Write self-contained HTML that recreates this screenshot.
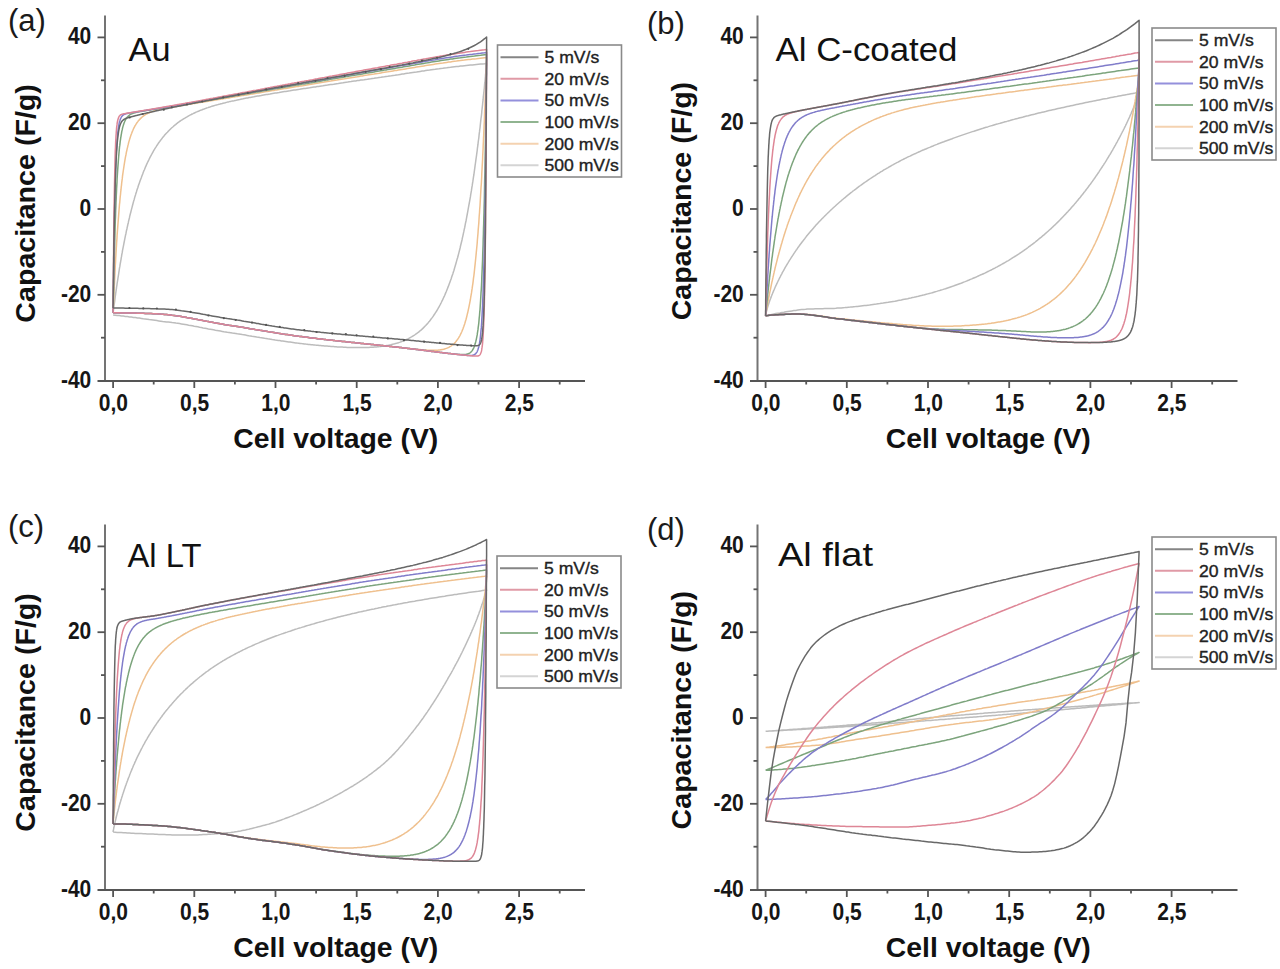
<!DOCTYPE html>
<html><head><meta charset="utf-8"><style>
html,body{margin:0;padding:0;background:#fff;width:1280px;height:969px;overflow:hidden}
svg{display:block}
text{font-family:"Liberation Sans",sans-serif}
.tl{font-weight:bold;font-size:23px;fill:#161616}
.at{font-weight:bold;font-size:28px;fill:#111}
.lg{font-size:16px;fill:#222;stroke:#222;stroke-width:0.35px}
.pl{font-size:31px;fill:#1a1a1a}
.tt{font-size:34px;fill:#111}
</style></head><body>
<svg width="1280" height="969" viewBox="0 0 1280 969">
<rect width="1280" height="969" fill="#fff"/>
<g>
<line x1="105" y1="15.5" x2="105" y2="382" stroke="#747474" stroke-width="2"/>
<line x1="97.5" y1="381" x2="585" y2="381" stroke="#555" stroke-width="2.2"/>
<line x1="97.5" y1="37.4" x2="105" y2="37.4" stroke="#555" stroke-width="1.8"/>
<line x1="97.5" y1="123.2" x2="105" y2="123.2" stroke="#555" stroke-width="1.8"/>
<line x1="97.5" y1="209.0" x2="105" y2="209.0" stroke="#555" stroke-width="1.8"/>
<line x1="97.5" y1="294.8" x2="105" y2="294.8" stroke="#555" stroke-width="1.8"/>
<line x1="101" y1="80.3" x2="105" y2="80.3" stroke="#555" stroke-width="1.8"/>
<line x1="101" y1="166.1" x2="105" y2="166.1" stroke="#555" stroke-width="1.8"/>
<line x1="101" y1="251.9" x2="105" y2="251.9" stroke="#555" stroke-width="1.8"/>
<line x1="101" y1="337.7" x2="105" y2="337.7" stroke="#555" stroke-width="1.8"/>
<line x1="113.1" y1="381" x2="113.1" y2="388" stroke="#555" stroke-width="1.8"/>
<line x1="194.3" y1="381" x2="194.3" y2="388" stroke="#555" stroke-width="1.8"/>
<line x1="275.5" y1="381" x2="275.5" y2="388" stroke="#555" stroke-width="1.8"/>
<line x1="356.7" y1="381" x2="356.7" y2="388" stroke="#555" stroke-width="1.8"/>
<line x1="437.9" y1="381" x2="437.9" y2="388" stroke="#555" stroke-width="1.8"/>
<line x1="519.1" y1="381" x2="519.1" y2="388" stroke="#555" stroke-width="1.8"/>
<line x1="153.7" y1="381" x2="153.7" y2="384.5" stroke="#555" stroke-width="1.8"/>
<line x1="234.9" y1="381" x2="234.9" y2="384.5" stroke="#555" stroke-width="1.8"/>
<line x1="316.1" y1="381" x2="316.1" y2="384.5" stroke="#555" stroke-width="1.8"/>
<line x1="397.3" y1="381" x2="397.3" y2="384.5" stroke="#555" stroke-width="1.8"/>
<line x1="478.5" y1="381" x2="478.5" y2="384.5" stroke="#555" stroke-width="1.8"/>
<line x1="559.7" y1="381" x2="559.7" y2="384.5" stroke="#555" stroke-width="1.8"/>
<text transform="translate(91.3,44.4) scale(0.913,1)" text-anchor="end" class="tl">40</text>
<text transform="translate(91.3,130.2) scale(0.913,1)" text-anchor="end" class="tl">20</text>
<text transform="translate(91.3,216.0) scale(0.913,1)" text-anchor="end" class="tl">0</text>
<text transform="translate(91.3,301.8) scale(0.913,1)" text-anchor="end" class="tl">-20</text>
<text transform="translate(91.3,387.6) scale(0.913,1)" text-anchor="end" class="tl">-40</text>
<text transform="translate(113.4,410.6) scale(0.913,1)" text-anchor="middle" class="tl">0,0</text>
<text transform="translate(194.6,410.6) scale(0.913,1)" text-anchor="middle" class="tl">0,5</text>
<text transform="translate(275.8,410.6) scale(0.913,1)" text-anchor="middle" class="tl">1,0</text>
<text transform="translate(357.0,410.6) scale(0.913,1)" text-anchor="middle" class="tl">1,5</text>
<text transform="translate(438.2,410.6) scale(0.913,1)" text-anchor="middle" class="tl">2,0</text>
<text transform="translate(519.4,410.6) scale(0.913,1)" text-anchor="middle" class="tl">2,5</text>
<text x="335.8" y="447.7" text-anchor="middle" class="at" textLength="205" lengthAdjust="spacingAndGlyphs">Cell voltage (V)</text>
<text transform="translate(34.6,203.4) rotate(-90)" x="0" y="0" text-anchor="middle" class="at" textLength="238.5" lengthAdjust="spacingAndGlyphs">Capacitance (F/g)</text>
<line x1="757.5" y1="15.5" x2="757.5" y2="382" stroke="#747474" stroke-width="2"/>
<line x1="750.0" y1="381" x2="1237.5" y2="381" stroke="#555" stroke-width="2.2"/>
<line x1="750.0" y1="37.4" x2="757.5" y2="37.4" stroke="#555" stroke-width="1.8"/>
<line x1="750.0" y1="123.2" x2="757.5" y2="123.2" stroke="#555" stroke-width="1.8"/>
<line x1="750.0" y1="209.0" x2="757.5" y2="209.0" stroke="#555" stroke-width="1.8"/>
<line x1="750.0" y1="294.8" x2="757.5" y2="294.8" stroke="#555" stroke-width="1.8"/>
<line x1="753.5" y1="80.3" x2="757.5" y2="80.3" stroke="#555" stroke-width="1.8"/>
<line x1="753.5" y1="166.1" x2="757.5" y2="166.1" stroke="#555" stroke-width="1.8"/>
<line x1="753.5" y1="251.9" x2="757.5" y2="251.9" stroke="#555" stroke-width="1.8"/>
<line x1="753.5" y1="337.7" x2="757.5" y2="337.7" stroke="#555" stroke-width="1.8"/>
<line x1="765.6" y1="381" x2="765.6" y2="388" stroke="#555" stroke-width="1.8"/>
<line x1="846.8" y1="381" x2="846.8" y2="388" stroke="#555" stroke-width="1.8"/>
<line x1="928.0" y1="381" x2="928.0" y2="388" stroke="#555" stroke-width="1.8"/>
<line x1="1009.2" y1="381" x2="1009.2" y2="388" stroke="#555" stroke-width="1.8"/>
<line x1="1090.4" y1="381" x2="1090.4" y2="388" stroke="#555" stroke-width="1.8"/>
<line x1="1171.6" y1="381" x2="1171.6" y2="388" stroke="#555" stroke-width="1.8"/>
<line x1="806.2" y1="381" x2="806.2" y2="384.5" stroke="#555" stroke-width="1.8"/>
<line x1="887.4" y1="381" x2="887.4" y2="384.5" stroke="#555" stroke-width="1.8"/>
<line x1="968.6" y1="381" x2="968.6" y2="384.5" stroke="#555" stroke-width="1.8"/>
<line x1="1049.8" y1="381" x2="1049.8" y2="384.5" stroke="#555" stroke-width="1.8"/>
<line x1="1131.0" y1="381" x2="1131.0" y2="384.5" stroke="#555" stroke-width="1.8"/>
<line x1="1212.2" y1="381" x2="1212.2" y2="384.5" stroke="#555" stroke-width="1.8"/>
<text transform="translate(743.8,44.4) scale(0.913,1)" text-anchor="end" class="tl">40</text>
<text transform="translate(743.8,130.2) scale(0.913,1)" text-anchor="end" class="tl">20</text>
<text transform="translate(743.8,216.0) scale(0.913,1)" text-anchor="end" class="tl">0</text>
<text transform="translate(743.8,301.8) scale(0.913,1)" text-anchor="end" class="tl">-20</text>
<text transform="translate(743.8,387.6) scale(0.913,1)" text-anchor="end" class="tl">-40</text>
<text transform="translate(765.9,410.6) scale(0.913,1)" text-anchor="middle" class="tl">0,0</text>
<text transform="translate(847.1,410.6) scale(0.913,1)" text-anchor="middle" class="tl">0,5</text>
<text transform="translate(928.3,410.6) scale(0.913,1)" text-anchor="middle" class="tl">1,0</text>
<text transform="translate(1009.5,410.6) scale(0.913,1)" text-anchor="middle" class="tl">1,5</text>
<text transform="translate(1090.7,410.6) scale(0.913,1)" text-anchor="middle" class="tl">2,0</text>
<text transform="translate(1171.9,410.6) scale(0.913,1)" text-anchor="middle" class="tl">2,5</text>
<text x="988.3" y="447.7" text-anchor="middle" class="at" textLength="205" lengthAdjust="spacingAndGlyphs">Cell voltage (V)</text>
<text transform="translate(691.1,201.1) rotate(-90)" x="0" y="0" text-anchor="middle" class="at" textLength="238.5" lengthAdjust="spacingAndGlyphs">Capacitance (F/g)</text>
<line x1="105" y1="524.5" x2="105" y2="891" stroke="#747474" stroke-width="2"/>
<line x1="97.5" y1="890" x2="585" y2="890" stroke="#555" stroke-width="2.2"/>
<line x1="97.5" y1="546.4" x2="105" y2="546.4" stroke="#555" stroke-width="1.8"/>
<line x1="97.5" y1="632.2" x2="105" y2="632.2" stroke="#555" stroke-width="1.8"/>
<line x1="97.5" y1="718.0" x2="105" y2="718.0" stroke="#555" stroke-width="1.8"/>
<line x1="97.5" y1="803.8" x2="105" y2="803.8" stroke="#555" stroke-width="1.8"/>
<line x1="101" y1="589.3" x2="105" y2="589.3" stroke="#555" stroke-width="1.8"/>
<line x1="101" y1="675.1" x2="105" y2="675.1" stroke="#555" stroke-width="1.8"/>
<line x1="101" y1="760.9" x2="105" y2="760.9" stroke="#555" stroke-width="1.8"/>
<line x1="101" y1="846.7" x2="105" y2="846.7" stroke="#555" stroke-width="1.8"/>
<line x1="113.1" y1="890" x2="113.1" y2="897" stroke="#555" stroke-width="1.8"/>
<line x1="194.3" y1="890" x2="194.3" y2="897" stroke="#555" stroke-width="1.8"/>
<line x1="275.5" y1="890" x2="275.5" y2="897" stroke="#555" stroke-width="1.8"/>
<line x1="356.7" y1="890" x2="356.7" y2="897" stroke="#555" stroke-width="1.8"/>
<line x1="437.9" y1="890" x2="437.9" y2="897" stroke="#555" stroke-width="1.8"/>
<line x1="519.1" y1="890" x2="519.1" y2="897" stroke="#555" stroke-width="1.8"/>
<line x1="153.7" y1="890" x2="153.7" y2="893.5" stroke="#555" stroke-width="1.8"/>
<line x1="234.9" y1="890" x2="234.9" y2="893.5" stroke="#555" stroke-width="1.8"/>
<line x1="316.1" y1="890" x2="316.1" y2="893.5" stroke="#555" stroke-width="1.8"/>
<line x1="397.3" y1="890" x2="397.3" y2="893.5" stroke="#555" stroke-width="1.8"/>
<line x1="478.5" y1="890" x2="478.5" y2="893.5" stroke="#555" stroke-width="1.8"/>
<line x1="559.7" y1="890" x2="559.7" y2="893.5" stroke="#555" stroke-width="1.8"/>
<text transform="translate(91.3,553.4) scale(0.913,1)" text-anchor="end" class="tl">40</text>
<text transform="translate(91.3,639.2) scale(0.913,1)" text-anchor="end" class="tl">20</text>
<text transform="translate(91.3,725.0) scale(0.913,1)" text-anchor="end" class="tl">0</text>
<text transform="translate(91.3,810.8) scale(0.913,1)" text-anchor="end" class="tl">-20</text>
<text transform="translate(91.3,896.6) scale(0.913,1)" text-anchor="end" class="tl">-40</text>
<text transform="translate(113.4,919.6) scale(0.913,1)" text-anchor="middle" class="tl">0,0</text>
<text transform="translate(194.6,919.6) scale(0.913,1)" text-anchor="middle" class="tl">0,5</text>
<text transform="translate(275.8,919.6) scale(0.913,1)" text-anchor="middle" class="tl">1,0</text>
<text transform="translate(357.0,919.6) scale(0.913,1)" text-anchor="middle" class="tl">1,5</text>
<text transform="translate(438.2,919.6) scale(0.913,1)" text-anchor="middle" class="tl">2,0</text>
<text transform="translate(519.4,919.6) scale(0.913,1)" text-anchor="middle" class="tl">2,5</text>
<text x="335.8" y="956.7" text-anchor="middle" class="at" textLength="205" lengthAdjust="spacingAndGlyphs">Cell voltage (V)</text>
<text transform="translate(34.6,712.4) rotate(-90)" x="0" y="0" text-anchor="middle" class="at" textLength="238.5" lengthAdjust="spacingAndGlyphs">Capacitance (F/g)</text>
<line x1="757.5" y1="524.5" x2="757.5" y2="891" stroke="#747474" stroke-width="2"/>
<line x1="750.0" y1="890" x2="1237.5" y2="890" stroke="#555" stroke-width="2.2"/>
<line x1="750.0" y1="546.4" x2="757.5" y2="546.4" stroke="#555" stroke-width="1.8"/>
<line x1="750.0" y1="632.2" x2="757.5" y2="632.2" stroke="#555" stroke-width="1.8"/>
<line x1="750.0" y1="718.0" x2="757.5" y2="718.0" stroke="#555" stroke-width="1.8"/>
<line x1="750.0" y1="803.8" x2="757.5" y2="803.8" stroke="#555" stroke-width="1.8"/>
<line x1="753.5" y1="589.3" x2="757.5" y2="589.3" stroke="#555" stroke-width="1.8"/>
<line x1="753.5" y1="675.1" x2="757.5" y2="675.1" stroke="#555" stroke-width="1.8"/>
<line x1="753.5" y1="760.9" x2="757.5" y2="760.9" stroke="#555" stroke-width="1.8"/>
<line x1="753.5" y1="846.7" x2="757.5" y2="846.7" stroke="#555" stroke-width="1.8"/>
<line x1="765.6" y1="890" x2="765.6" y2="897" stroke="#555" stroke-width="1.8"/>
<line x1="846.8" y1="890" x2="846.8" y2="897" stroke="#555" stroke-width="1.8"/>
<line x1="928.0" y1="890" x2="928.0" y2="897" stroke="#555" stroke-width="1.8"/>
<line x1="1009.2" y1="890" x2="1009.2" y2="897" stroke="#555" stroke-width="1.8"/>
<line x1="1090.4" y1="890" x2="1090.4" y2="897" stroke="#555" stroke-width="1.8"/>
<line x1="1171.6" y1="890" x2="1171.6" y2="897" stroke="#555" stroke-width="1.8"/>
<line x1="806.2" y1="890" x2="806.2" y2="893.5" stroke="#555" stroke-width="1.8"/>
<line x1="887.4" y1="890" x2="887.4" y2="893.5" stroke="#555" stroke-width="1.8"/>
<line x1="968.6" y1="890" x2="968.6" y2="893.5" stroke="#555" stroke-width="1.8"/>
<line x1="1049.8" y1="890" x2="1049.8" y2="893.5" stroke="#555" stroke-width="1.8"/>
<line x1="1131.0" y1="890" x2="1131.0" y2="893.5" stroke="#555" stroke-width="1.8"/>
<line x1="1212.2" y1="890" x2="1212.2" y2="893.5" stroke="#555" stroke-width="1.8"/>
<text transform="translate(743.8,553.4) scale(0.913,1)" text-anchor="end" class="tl">40</text>
<text transform="translate(743.8,639.2) scale(0.913,1)" text-anchor="end" class="tl">20</text>
<text transform="translate(743.8,725.0) scale(0.913,1)" text-anchor="end" class="tl">0</text>
<text transform="translate(743.8,810.8) scale(0.913,1)" text-anchor="end" class="tl">-20</text>
<text transform="translate(743.8,896.6) scale(0.913,1)" text-anchor="end" class="tl">-40</text>
<text transform="translate(765.9,919.6) scale(0.913,1)" text-anchor="middle" class="tl">0,0</text>
<text transform="translate(847.1,919.6) scale(0.913,1)" text-anchor="middle" class="tl">0,5</text>
<text transform="translate(928.3,919.6) scale(0.913,1)" text-anchor="middle" class="tl">1,0</text>
<text transform="translate(1009.5,919.6) scale(0.913,1)" text-anchor="middle" class="tl">1,5</text>
<text transform="translate(1090.7,919.6) scale(0.913,1)" text-anchor="middle" class="tl">2,0</text>
<text transform="translate(1171.9,919.6) scale(0.913,1)" text-anchor="middle" class="tl">2,5</text>
<text x="988.3" y="956.7" text-anchor="middle" class="at" textLength="205" lengthAdjust="spacingAndGlyphs">Cell voltage (V)</text>
<text transform="translate(691.1,710.2) rotate(-90)" x="0" y="0" text-anchor="middle" class="at" textLength="238.5" lengthAdjust="spacingAndGlyphs">Capacitance (F/g)</text>
<rect x="497.5" y="45" width="124" height="132" fill="none" stroke="#8a8a8a" stroke-width="1.6"/>
<line x1="500.5" y1="57.2" x2="538.5" y2="57.2" stroke="#858585" stroke-width="2"/>
<text transform="translate(544.5,63.0) scale(1.1,1)" class="lg">5 mV/s</text>
<line x1="500.5" y1="78.8" x2="538.5" y2="78.8" stroke="#e09aa6" stroke-width="2"/>
<text transform="translate(544.5,84.6) scale(1.1,1)" class="lg">20 mV/s</text>
<line x1="500.5" y1="100.4" x2="538.5" y2="100.4" stroke="#9490dc" stroke-width="2"/>
<text transform="translate(544.5,106.2) scale(1.1,1)" class="lg">50 mV/s</text>
<line x1="500.5" y1="122.1" x2="538.5" y2="122.1" stroke="#90b490" stroke-width="2"/>
<text transform="translate(544.5,127.9) scale(1.1,1)" class="lg">100 mV/s</text>
<line x1="500.5" y1="143.7" x2="538.5" y2="143.7" stroke="#f4d2b0" stroke-width="2"/>
<text transform="translate(544.5,149.5) scale(1.1,1)" class="lg">200 mV/s</text>
<line x1="500.5" y1="165.3" x2="538.5" y2="165.3" stroke="#d4d4d4" stroke-width="2"/>
<text transform="translate(544.5,171.1) scale(1.1,1)" class="lg">500 mV/s</text>
<rect x="1152" y="28" width="124" height="132" fill="none" stroke="#8a8a8a" stroke-width="1.6"/>
<line x1="1155" y1="40.2" x2="1193" y2="40.2" stroke="#858585" stroke-width="2"/>
<text transform="translate(1199.0,46.0) scale(1.1,1)" class="lg">5 mV/s</text>
<line x1="1155" y1="61.8" x2="1193" y2="61.8" stroke="#e09aa6" stroke-width="2"/>
<text transform="translate(1199.0,67.6) scale(1.1,1)" class="lg">20 mV/s</text>
<line x1="1155" y1="83.4" x2="1193" y2="83.4" stroke="#9490dc" stroke-width="2"/>
<text transform="translate(1199.0,89.2) scale(1.1,1)" class="lg">50 mV/s</text>
<line x1="1155" y1="105.1" x2="1193" y2="105.1" stroke="#90b490" stroke-width="2"/>
<text transform="translate(1199.0,110.9) scale(1.1,1)" class="lg">100 mV/s</text>
<line x1="1155" y1="126.7" x2="1193" y2="126.7" stroke="#f4d2b0" stroke-width="2"/>
<text transform="translate(1199.0,132.5) scale(1.1,1)" class="lg">200 mV/s</text>
<line x1="1155" y1="148.3" x2="1193" y2="148.3" stroke="#d4d4d4" stroke-width="2"/>
<text transform="translate(1199.0,154.1) scale(1.1,1)" class="lg">500 mV/s</text>
<rect x="497" y="556" width="124" height="132" fill="none" stroke="#8a8a8a" stroke-width="1.6"/>
<line x1="500" y1="568.2" x2="538" y2="568.2" stroke="#858585" stroke-width="2"/>
<text transform="translate(544.0,574.0) scale(1.1,1)" class="lg">5 mV/s</text>
<line x1="500" y1="589.8" x2="538" y2="589.8" stroke="#e09aa6" stroke-width="2"/>
<text transform="translate(544.0,595.6) scale(1.1,1)" class="lg">20 mV/s</text>
<line x1="500" y1="611.4" x2="538" y2="611.4" stroke="#9490dc" stroke-width="2"/>
<text transform="translate(544.0,617.2) scale(1.1,1)" class="lg">50 mV/s</text>
<line x1="500" y1="633.1" x2="538" y2="633.1" stroke="#90b490" stroke-width="2"/>
<text transform="translate(544.0,638.9) scale(1.1,1)" class="lg">100 mV/s</text>
<line x1="500" y1="654.7" x2="538" y2="654.7" stroke="#f4d2b0" stroke-width="2"/>
<text transform="translate(544.0,660.5) scale(1.1,1)" class="lg">200 mV/s</text>
<line x1="500" y1="676.3" x2="538" y2="676.3" stroke="#d4d4d4" stroke-width="2"/>
<text transform="translate(544.0,682.1) scale(1.1,1)" class="lg">500 mV/s</text>
<rect x="1152" y="537" width="124" height="132" fill="none" stroke="#8a8a8a" stroke-width="1.6"/>
<line x1="1155" y1="549.2" x2="1193" y2="549.2" stroke="#858585" stroke-width="2"/>
<text transform="translate(1199.0,555.0) scale(1.1,1)" class="lg">5 mV/s</text>
<line x1="1155" y1="570.8" x2="1193" y2="570.8" stroke="#e09aa6" stroke-width="2"/>
<text transform="translate(1199.0,576.6) scale(1.1,1)" class="lg">20 mV/s</text>
<line x1="1155" y1="592.4" x2="1193" y2="592.4" stroke="#9490dc" stroke-width="2"/>
<text transform="translate(1199.0,598.2) scale(1.1,1)" class="lg">50 mV/s</text>
<line x1="1155" y1="614.1" x2="1193" y2="614.1" stroke="#90b490" stroke-width="2"/>
<text transform="translate(1199.0,619.9) scale(1.1,1)" class="lg">100 mV/s</text>
<line x1="1155" y1="635.7" x2="1193" y2="635.7" stroke="#f4d2b0" stroke-width="2"/>
<text transform="translate(1199.0,641.5) scale(1.1,1)" class="lg">200 mV/s</text>
<line x1="1155" y1="657.3" x2="1193" y2="657.3" stroke="#d4d4d4" stroke-width="2"/>
<text transform="translate(1199.0,663.1) scale(1.1,1)" class="lg">500 mV/s</text>
<text x="8" y="31" class="pl">(a)</text>
<text x="128.5" y="60.9" class="tt" textLength="42" lengthAdjust="spacingAndGlyphs">Au</text>
<text x="647" y="34" class="pl">(b)</text>
<text x="775.5" y="60.9" class="tt" textLength="182" lengthAdjust="spacingAndGlyphs">Al C-coated</text>
<text x="8" y="537" class="pl">(c)</text>
<text x="127.5" y="567.4" class="tt" textLength="74" lengthAdjust="spacingAndGlyphs">Al LT</text>
<text x="647" y="540" class="pl">(d)</text>
<text x="778" y="565.8" class="tt" textLength="95" lengthAdjust="spacingAndGlyphs">Al flat</text>
<path d="M113.1 312.8L113.1 312.5L113.2 312.3L113.2 311.9L113.3 311.5L113.3 311.3L113.3 311.0L113.4 310.7L113.4 310.4L113.5 310.0L113.5 309.6L113.6 309.2L113.6 308.8L113.7 308.4L113.7 307.9L113.8 307.4L113.9 306.9L113.9 306.3L114.0 305.7L114.1 305.1L114.2 304.5L114.3 303.9L114.4 303.2L114.5 302.5L114.6 301.8L114.7 301.0L114.8 300.2L114.9 299.4L115.0 298.6L115.1 297.8L115.2 296.9L115.3 296.0L115.5 295.1L115.6 294.1L115.7 293.1L115.9 292.2L116.0 291.1L116.2 290.1L116.3 289.1L116.5 288.0L116.6 286.9L116.8 285.8L117.0 284.6L117.1 283.5L117.3 282.3L117.5 281.1L117.7 279.9L117.9 278.6L118.1 277.4L118.3 276.1L118.5 274.8L118.7 273.5L118.9 272.2L119.1 270.8L119.3 269.5L119.5 268.1L119.8 266.7L120.0 265.3L120.2 263.9L120.5 262.5L120.7 261.1L121.0 259.6L121.2 258.1L121.5 256.7L121.7 255.2L122.0 253.7L122.3 252.2L122.5 250.7L122.8 249.2L123.1 247.7L123.4 246.1L123.7 244.6L124.0 243.0L124.3 241.5L124.6 239.9L124.9 238.4L125.2 236.8L125.5 235.3L125.9 233.7L126.2 232.1L126.5 230.5L126.9 229.0L127.2 227.4L127.6 225.8L127.9 224.2L128.3 222.7L128.6 221.1L129.0 219.5L129.4 218.0L129.7 216.4L130.1 214.8L130.5 213.3L130.9 211.7L131.3 210.1L131.7 208.6L132.1 207.1L132.5 205.5L132.9 204.0L133.3 202.5L133.7 200.9L134.2 199.4L134.6 197.9L135.0 196.4L135.5 194.9L135.9 193.5L136.4 192.0L136.8 190.5L137.3 189.1L137.8 187.7L138.2 186.2L138.7 184.8L139.2 183.4L139.7 182.0L140.2 180.6L140.7 179.2L141.2 177.9L141.7 176.5L142.2 175.2L142.7 173.9L143.2 172.5L143.7 171.2L144.3 170.0L144.8 168.7L145.3 167.4L145.9 166.2L146.4 164.9L147.0 163.7L147.5 162.5L148.1 161.3L148.7 160.1L149.2 159.0L149.8 157.8L150.4 156.7L151.0 155.6L151.6 154.5L152.2 153.4L152.8 152.3L153.4 151.2L154.0 150.2L154.6 149.2L155.2 148.1L155.9 147.1L156.5 146.1L157.1 145.2L157.8 144.2L158.4 143.2L159.1 142.3L159.8 141.4L160.4 140.5L161.1 139.6L161.8 138.7L162.4 137.9L163.1 137.0L163.8 136.2L164.5 135.3L165.2 134.5L165.9 133.7L166.6 133.0L167.4 132.2L168.1 131.4L168.8 130.7L169.5 130.0L170.3 129.2L171.0 128.5L171.8 127.8L172.5 127.2L173.3 126.5L174.0 125.8L174.8 125.2L175.6 124.6L176.4 123.9L177.1 123.3L177.9 122.7L178.7 122.1L179.5 121.5L180.3 121.0L181.1 120.4L182.0 119.9L182.8 119.3L183.6 118.8L184.4 118.3L185.3 117.8L186.1 117.3L187.0 116.8L187.8 116.3L188.7 115.8L189.5 115.4L190.4 114.9L191.3 114.5L192.2 114.0L193.1 113.6L193.9 113.2L194.8 112.8L195.7 112.3L196.7 111.9L197.6 111.5L198.5 111.2L199.4 110.8L200.3 110.4L201.3 110.0L202.2 109.7L203.2 109.3L204.1 109.0L205.1 108.6L206.0 108.3L207.0 107.9L208.0 107.6L208.9 107.3L209.9 107.0L210.9 106.6L211.9 106.3L212.9 106.0L213.9 105.7L214.9 105.4L215.9 105.1L217.0 104.9L218.0 104.6L219.0 104.3L220.1 104.0L221.1 103.7L222.2 103.5L223.2 103.2L224.3 102.9L225.3 102.7L226.4 102.4L227.5 102.1L228.6 101.9L229.7 101.6L230.7 101.4L231.8 101.1L233.0 100.9L234.1 100.7L235.2 100.4L236.3 100.2L237.4 99.9L238.6 99.7L239.7 99.5L240.8 99.2L242.0 99.0L243.1 98.8L244.3 98.5L245.5 98.3L246.6 98.1L247.8 97.9L249.0 97.6L250.2 97.4L251.4 97.2L252.6 97.0L253.8 96.8L255.0 96.5L256.2 96.3L257.5 96.1L258.7 95.9L259.9 95.7L261.2 95.5L262.4 95.2L263.7 95.0L264.9 94.8L266.2 94.6L267.4 94.4L268.7 94.2L270.0 94.0L271.3 93.7L272.6 93.5L273.9 93.3L275.2 93.1L276.5 92.9L277.8 92.7L279.1 92.5L280.5 92.2L281.8 92.0L283.1 91.8L284.5 91.6L285.8 91.4L287.2 91.2L288.5 91.0L289.9 90.8L291.3 90.5L292.6 90.3L294.0 90.1L295.4 89.9L296.8 89.7L298.2 89.5L299.6 89.3L301.0 89.0L302.5 88.8L303.9 88.6L305.3 88.4L306.7 88.2L308.2 88.0L309.6 87.8L311.1 87.5L312.6 87.3L314.0 87.1L315.5 86.9L317.0 86.6L318.5 86.4L319.9 86.2L321.4 86.0L322.9 85.8L324.4 85.5L326.0 85.3L327.5 85.1L329.0 84.8L330.5 84.6L332.1 84.4L333.6 84.2L335.2 83.9L336.7 83.7L338.3 83.5L339.8 83.2L341.4 83.0L343.0 82.8L344.6 82.5L346.2 82.3L347.7 82.1L349.4 81.8L351.0 81.6L352.6 81.3L354.2 81.1L355.8 80.9L357.4 80.6L359.1 80.4L360.7 80.1L362.4 79.9L364.0 79.7L365.7 79.4L367.4 79.2L369.0 78.9L370.7 78.7L372.4 78.4L374.1 78.2L375.8 77.9L377.5 77.7L379.2 77.4L380.9 77.2L382.6 76.9L384.4 76.7L386.1 76.4L387.8 76.2L389.6 75.9L391.3 75.7L393.1 75.4L394.8 75.2L396.6 74.9L398.4 74.7L400.2 74.4L402.0 74.1L403.7 73.9L405.5 73.6L407.3 73.3L409.2 73.1L411.0 72.8L412.8 72.5L414.6 72.2L416.5 72.0L418.3 71.7L420.2 71.4L422.0 71.1L423.9 70.9L425.7 70.6L427.6 70.3L429.5 70.1L431.4 69.8L433.3 69.5L435.2 69.3L437.1 69.0L439.0 68.8L440.9 68.5L442.8 68.3L444.7 68.0L446.7 67.8L448.6 67.5L450.5 67.3L452.5 67.0L454.5 66.8L456.4 66.6L458.4 66.4L460.4 66.1L462.4 65.9L464.3 65.7L466.3 65.5L468.3 65.3L470.3 65.1L472.4 64.9L474.4 64.7L476.4 64.5L478.4 64.3L480.5 64.1L482.5 63.9L484.6 63.8L486.6 63.6L486.6 63.8L486.6 64.1L486.5 64.5L486.5 64.8L486.5 65.1L486.5 65.4L486.4 65.7L486.4 66.1L486.3 66.5L486.3 67.0L486.3 67.5L486.2 68.0L486.2 68.5L486.1 69.1L486.0 69.8L486.0 70.4L485.9 71.1L485.8 71.8L485.8 72.6L485.7 73.4L485.6 74.2L485.5 75.1L485.5 76.0L485.4 77.0L485.3 77.9L485.2 79.0L485.1 80.0L485.0 81.1L484.9 82.2L484.7 83.4L484.6 84.5L484.5 85.8L484.4 87.0L484.3 88.3L484.1 89.6L484.0 91.0L483.8 92.3L483.7 93.8L483.5 95.2L483.4 96.7L483.2 98.2L483.1 99.7L482.9 101.3L482.7 102.9L482.6 104.5L482.4 106.2L482.2 107.8L482.0 109.5L481.8 111.3L481.7 113.0L481.5 114.8L481.3 116.6L481.0 118.5L480.8 120.3L480.6 122.2L480.4 124.1L480.2 126.0L480.0 128.0L479.7 129.9L479.5 131.9L479.2 133.9L479.0 135.9L478.8 138.0L478.5 140.0L478.2 142.1L478.0 144.2L477.7 146.3L477.4 148.4L477.2 150.5L476.9 152.6L476.6 154.8L476.3 157.0L476.0 159.1L475.7 161.3L475.4 163.5L475.1 165.7L474.8 167.9L474.5 170.1L474.2 172.3L473.9 174.5L473.5 176.8L473.2 179.0L472.9 181.2L472.5 183.5L472.2 185.7L471.8 187.9L471.5 190.2L471.1 192.4L470.7 194.6L470.4 196.9L470.0 199.1L469.6 201.3L469.2 203.5L468.8 205.7L468.4 207.9L468.0 210.1L467.6 212.3L467.2 214.5L466.8 216.7L466.4 218.9L466.0 221.0L465.5 223.2L465.1 225.3L464.7 227.5L464.2 229.6L463.8 231.7L463.3 233.8L462.9 235.8L462.4 237.9L462.0 240.0L461.5 242.0L461.0 244.0L460.5 246.0L460.1 248.0L459.6 250.0L459.1 251.9L458.6 253.9L458.1 255.8L457.6 257.7L457.0 259.6L456.5 261.4L456.0 263.3L455.5 265.1L454.9 266.9L454.4 268.7L453.9 270.5L453.3 272.2L452.8 273.9L452.2 275.6L451.6 277.3L451.1 279.0L450.5 280.6L449.9 282.2L449.3 283.8L448.7 285.4L448.1 286.9L447.5 288.5L446.9 290.0L446.3 291.5L445.7 292.9L445.1 294.4L444.5 295.8L443.8 297.2L443.2 298.5L442.6 299.9L441.9 301.2L441.3 302.5L440.6 303.8L440.0 305.0L439.3 306.3L438.6 307.5L438.0 308.7L437.3 309.8L436.6 311.0L435.9 312.1L435.2 313.2L434.5 314.3L433.8 315.3L433.1 316.4L432.4 317.4L431.6 318.4L430.9 319.3L430.2 320.3L429.5 321.2L428.7 322.1L428.0 323.0L427.2 323.9L426.4 324.7L425.7 325.5L424.9 326.3L424.1 327.1L423.4 327.9L422.6 328.6L421.8 329.4L421.0 330.1L420.2 330.7L419.4 331.4L418.6 332.1L417.8 332.7L416.9 333.3L416.1 333.9L415.3 334.5L414.4 335.1L413.6 335.6L412.8 336.1L411.9 336.7L411.0 337.2L410.2 337.6L409.3 338.1L408.4 338.6L407.6 339.0L406.7 339.4L405.8 339.9L404.9 340.3L404.0 340.6L403.1 341.0L402.2 341.4L401.2 341.7L400.3 342.1L399.4 342.4L398.5 342.7L397.5 343.0L396.6 343.3L395.6 343.5L394.7 343.8L393.7 344.1L392.7 344.3L391.8 344.5L390.8 344.8L389.8 345.0L388.8 345.2L387.8 345.4L386.8 345.5L385.8 345.7L384.8 345.9L383.8 346.0L382.8 346.2L381.7 346.3L380.7 346.5L379.7 346.6L378.6 346.7L377.6 346.8L376.5 346.9L375.5 347.0L374.4 347.1L373.3 347.2L372.2 347.2L371.2 347.3L370.1 347.3L369.0 347.4L367.9 347.4L366.8 347.5L365.7 347.5L364.5 347.5L363.4 347.6L362.3 347.6L361.2 347.6L360.0 347.6L358.9 347.6L357.7 347.6L356.6 347.6L355.4 347.6L354.2 347.6L353.1 347.5L351.9 347.5L350.7 347.5L349.5 347.4L348.3 347.4L347.1 347.4L345.9 347.3L344.7 347.3L343.5 347.2L342.3 347.1L341.0 347.1L339.8 347.0L338.6 346.9L337.3 346.9L336.1 346.8L334.8 346.7L333.5 346.6L332.3 346.5L331.0 346.4L329.7 346.3L328.4 346.2L327.1 346.1L325.8 346.0L324.5 345.9L323.2 345.8L321.9 345.7L320.6 345.6L319.3 345.5L317.9 345.3L316.6 345.2L315.3 345.1L313.9 344.9L312.6 344.8L311.2 344.7L309.8 344.5L308.5 344.4L307.1 344.2L305.7 344.1L304.3 343.9L302.9 343.7L301.5 343.6L300.1 343.4L298.7 343.2L297.3 343.1L295.8 342.9L294.4 342.7L293.0 342.5L291.5 342.3L290.1 342.1L288.6 341.9L287.2 341.7L285.7 341.5L284.2 341.3L282.8 341.1L281.3 340.9L279.8 340.6L278.3 340.4L276.8 340.2L275.3 340.0L273.8 339.7L272.2 339.5L270.7 339.2L269.2 339.0L267.7 338.8L266.1 338.5L264.6 338.3L263.0 338.0L261.5 337.7L259.9 337.5L258.3 337.2L256.7 337.0L255.2 336.7L253.6 336.4L252.0 336.2L250.4 335.9L248.8 335.7L247.1 335.4L245.5 335.1L243.9 334.8L242.3 334.6L240.6 334.3L239.0 334.0L237.3 333.8L235.7 333.5L234.0 333.2L232.4 333.0L230.7 332.7L229.0 332.4L227.3 332.2L225.6 331.9L223.9 331.7L222.2 331.4L220.5 331.1L218.8 330.8L217.1 330.5L215.4 330.2L213.6 329.8L211.9 329.5L210.2 329.2L208.4 328.9L206.6 328.5L204.9 328.2L203.1 327.9L201.3 327.5L199.6 327.2L197.8 326.8L196.0 326.5L194.2 326.2L192.4 325.8L190.6 325.5L188.7 325.2L186.9 324.8L185.1 324.5L183.3 324.2L181.4 323.9L179.6 323.6L177.7 323.3L175.9 323.1L174.0 322.8L172.1 322.6L170.2 322.3L168.3 322.1L166.5 321.9L164.6 321.7L162.7 321.5L160.8 321.2L158.8 320.9L156.9 320.6L155.0 320.3L153.1 320.0L151.1 319.7L149.2 319.5L147.2 319.2L145.3 318.9L143.3 318.7L141.3 318.4L139.4 318.1L137.4 317.9L135.4 317.6L133.4 317.4L131.4 317.1L129.4 316.9L127.4 316.6L125.3 316.4L123.3 316.1L121.3 315.9L119.3 315.6L117.2 315.4L115.2 315.2L113.1 315.0" fill="none" stroke="#bcbcbc" stroke-width="1.5" stroke-linejoin="round"/>
<path d="M113.1 312.8L113.1 312.5L113.1 311.9L113.2 311.6L113.2 311.2L113.2 310.7L113.2 310.1L113.2 309.5L113.3 308.8L113.3 308.0L113.3 307.2L113.4 306.3L113.4 305.3L113.5 304.2L113.5 303.1L113.6 301.9L113.6 300.7L113.7 299.3L113.7 297.9L113.8 296.5L113.9 294.9L113.9 293.4L114.0 291.7L114.1 290.0L114.2 288.2L114.3 286.4L114.4 284.5L114.5 282.5L114.6 280.5L114.7 278.4L114.8 276.3L114.9 274.2L115.0 272.0L115.1 269.7L115.2 267.5L115.3 265.1L115.5 262.8L115.6 260.4L115.7 258.0L115.9 255.5L116.0 253.0L116.2 250.5L116.3 248.0L116.5 245.5L116.6 242.9L116.8 240.4L117.0 237.8L117.1 235.2L117.3 232.6L117.5 230.0L117.7 227.4L117.9 224.8L118.1 222.2L118.3 219.6L118.5 217.0L118.7 214.4L118.9 211.9L119.1 209.3L119.3 206.8L119.5 204.3L119.8 201.8L120.0 199.3L120.2 196.9L120.5 194.5L120.7 192.1L121.0 189.7L121.2 187.4L121.5 185.1L121.7 182.8L122.0 180.6L122.3 178.4L122.5 176.2L122.8 174.1L123.1 172.0L123.4 170.0L123.7 168.0L124.0 166.0L124.3 164.1L124.6 162.2L124.9 160.3L125.2 158.5L125.5 156.8L125.9 155.0L126.2 153.4L126.5 151.7L126.9 150.1L127.2 148.6L127.6 147.1L127.9 145.6L128.3 144.2L128.6 142.8L129.0 141.4L129.4 140.1L129.7 138.9L130.1 137.7L130.5 136.5L130.9 135.3L131.3 134.2L131.7 133.2L132.1 132.1L132.5 131.1L132.9 130.2L133.3 129.2L133.7 128.3L134.2 127.5L134.6 126.6L135.0 125.8L135.5 125.1L135.9 124.3L136.4 123.6L136.8 122.9L137.3 122.3L137.8 121.6L138.2 121.0L138.7 120.5L139.2 119.9L139.7 119.4L140.2 118.9L140.7 118.4L141.2 117.9L141.7 117.4L142.2 117.0L142.7 116.6L143.2 116.2L143.7 115.8L144.3 115.4L144.8 115.1L145.3 114.7L145.9 114.4L146.4 114.1L147.0 113.8L147.5 113.5L148.1 113.2L148.7 113.0L149.2 112.7L149.8 112.5L150.4 112.2L151.0 112.0L151.6 111.8L152.2 111.6L152.8 111.4L153.4 111.2L154.0 111.0L154.6 110.8L155.2 110.6L155.9 110.4L156.5 110.2L157.1 110.1L157.8 109.9L158.4 109.8L159.1 109.6L159.8 109.4L160.4 109.3L161.1 109.1L161.8 109.0L162.4 108.9L163.1 108.7L163.8 108.6L164.5 108.4L165.2 108.3L165.9 108.2L166.6 108.0L167.4 107.9L168.1 107.8L168.8 107.6L169.5 107.5L170.3 107.4L171.0 107.2L171.8 107.1L172.5 107.0L173.3 106.9L174.0 106.7L174.8 106.6L175.6 106.5L176.4 106.3L177.1 106.2L177.9 106.1L178.7 106.0L179.5 105.8L180.3 105.7L181.1 105.6L182.0 105.4L182.8 105.3L183.6 105.2L184.4 105.0L185.3 104.9L186.1 104.8L187.0 104.6L187.8 104.5L188.7 104.3L189.5 104.2L190.4 104.1L191.3 103.9L192.2 103.8L193.1 103.6L193.9 103.5L194.8 103.4L195.7 103.2L196.7 103.1L197.6 102.9L198.5 102.8L199.4 102.6L200.3 102.5L201.3 102.3L202.2 102.2L203.2 102.0L204.1 101.9L205.1 101.7L206.0 101.5L207.0 101.4L208.0 101.2L208.9 101.1L209.9 100.9L210.9 100.8L211.9 100.6L212.9 100.4L213.9 100.3L214.9 100.1L215.9 99.9L217.0 99.8L218.0 99.6L219.0 99.4L220.1 99.3L221.1 99.1L222.2 98.9L223.2 98.7L224.3 98.6L225.3 98.4L226.4 98.2L227.5 98.0L228.6 97.9L229.7 97.7L230.7 97.5L231.8 97.3L233.0 97.1L234.1 97.0L235.2 96.8L236.3 96.6L237.4 96.4L238.6 96.2L239.7 96.0L240.8 95.8L242.0 95.6L243.1 95.5L244.3 95.3L245.5 95.1L246.6 94.9L247.8 94.7L249.0 94.5L250.2 94.3L251.4 94.1L252.6 93.9L253.8 93.7L255.0 93.5L256.2 93.3L257.5 93.1L258.7 92.9L259.9 92.7L261.2 92.5L262.4 92.3L263.7 92.0L264.9 91.8L266.2 91.6L267.4 91.4L268.7 91.2L270.0 91.0L271.3 90.8L272.6 90.6L273.9 90.4L275.2 90.1L276.5 89.9L277.8 89.7L279.1 89.5L280.5 89.3L281.8 89.1L283.1 88.8L284.5 88.6L285.8 88.4L287.2 88.2L288.5 87.9L289.9 87.7L291.3 87.5L292.6 87.3L294.0 87.0L295.4 86.8L296.8 86.6L298.2 86.4L299.6 86.1L301.0 85.9L302.5 85.7L303.9 85.4L305.3 85.2L306.7 85.0L308.2 84.7L309.6 84.5L311.1 84.3L312.6 84.0L314.0 83.8L315.5 83.5L317.0 83.3L318.5 83.1L319.9 82.8L321.4 82.6L322.9 82.3L324.4 82.1L326.0 81.8L327.5 81.6L329.0 81.3L330.5 81.1L332.1 80.8L333.6 80.6L335.2 80.3L336.7 80.1L338.3 79.8L339.8 79.6L341.4 79.3L343.0 79.0L344.6 78.8L346.2 78.5L347.7 78.3L349.4 78.0L351.0 77.7L352.6 77.5L354.2 77.2L355.8 76.9L357.4 76.7L359.1 76.4L360.7 76.1L362.4 75.9L364.0 75.6L365.7 75.3L367.4 75.1L369.0 74.8L370.7 74.5L372.4 74.2L374.1 74.0L375.8 73.7L377.5 73.4L379.2 73.2L380.9 72.9L382.6 72.6L384.4 72.3L386.1 72.0L387.8 71.8L389.6 71.5L391.3 71.2L393.1 70.9L394.8 70.6L396.6 70.4L398.4 70.1L400.2 69.8L402.0 69.5L403.7 69.2L405.5 68.9L407.3 68.6L409.2 68.3L411.0 68.0L412.8 67.7L414.6 67.4L416.5 67.1L418.3 66.8L420.2 66.5L422.0 66.2L423.9 65.9L425.7 65.6L427.6 65.3L429.5 65.0L431.4 64.7L433.3 64.4L435.2 64.1L437.1 63.8L439.0 63.5L440.9 63.2L442.8 63.0L444.7 62.7L446.7 62.4L448.6 62.1L450.5 61.9L452.5 61.6L454.5 61.3L456.4 61.1L458.4 60.8L460.4 60.6L462.4 60.3L464.3 60.1L466.3 59.8L468.3 59.6L470.3 59.4L472.4 59.1L474.4 58.9L476.4 58.7L478.4 58.4L480.5 58.2L482.5 58.0L484.6 57.8L486.6 57.6L486.6 58.0L486.6 58.3L486.6 58.7L486.6 59.1L486.6 59.7L486.5 60.3L486.5 61.0L486.5 61.8L486.5 62.7L486.4 63.6L486.4 64.7L486.3 65.9L486.3 67.1L486.3 68.4L486.2 69.9L486.2 71.4L486.1 73.0L486.0 74.7L486.0 76.5L485.9 78.4L485.8 80.3L485.8 82.4L485.7 84.5L485.6 86.7L485.5 89.0L485.5 91.4L485.4 93.8L485.3 96.4L485.2 99.0L485.1 101.6L485.0 104.4L484.9 107.2L484.7 110.1L484.6 113.0L484.5 116.0L484.4 119.1L484.3 122.2L484.1 125.3L484.0 128.5L483.8 131.8L483.7 135.1L483.5 138.4L483.4 141.8L483.2 145.2L483.1 148.7L482.9 152.2L482.7 155.7L482.6 159.2L482.4 162.7L482.2 166.3L482.0 169.8L481.8 173.4L481.7 177.0L481.5 180.6L481.3 184.2L481.0 187.8L480.8 191.4L480.6 195.0L480.4 198.6L480.2 202.1L480.0 205.7L479.7 209.2L479.5 212.7L479.2 216.2L479.0 219.6L478.8 223.1L478.5 226.5L478.2 229.9L478.0 233.2L477.7 236.5L477.4 239.8L477.2 243.0L476.9 246.2L476.6 249.3L476.3 252.4L476.0 255.5L475.7 258.5L475.4 261.5L475.1 264.4L474.8 267.2L474.5 270.0L474.2 272.8L473.9 275.5L473.5 278.2L473.2 280.8L472.9 283.3L472.5 285.8L472.2 288.2L471.8 290.6L471.5 292.9L471.1 295.2L470.7 297.4L470.4 299.5L470.0 301.6L469.6 303.7L469.2 305.6L468.8 307.6L468.4 309.4L468.0 311.3L467.6 313.0L467.2 314.7L466.8 316.4L466.4 318.0L466.0 319.5L465.5 321.0L465.1 322.5L464.7 323.9L464.2 325.2L463.8 326.5L463.3 327.8L462.9 329.0L462.4 330.1L462.0 331.2L461.5 332.3L461.0 333.3L460.5 334.3L460.1 335.3L459.6 336.2L459.1 337.0L458.6 337.9L458.1 338.6L457.6 339.4L457.0 340.1L456.5 340.8L456.0 341.5L455.5 342.1L454.9 342.7L454.4 343.2L453.9 343.8L453.3 344.3L452.8 344.7L452.2 345.2L451.6 345.6L451.1 346.0L450.5 346.4L449.9 346.7L449.3 347.1L448.7 347.4L448.1 347.7L447.5 347.9L446.9 348.2L446.3 348.4L445.7 348.6L445.1 348.8L444.5 349.0L443.8 349.2L443.2 349.4L442.6 349.5L441.9 349.6L441.3 349.7L440.6 349.8L440.0 349.9L439.3 350.0L438.6 350.1L438.0 350.2L437.3 350.2L436.6 350.2L435.9 350.3L435.2 350.3L434.5 350.3L433.8 350.3L433.1 350.3L432.4 350.3L431.6 350.3L430.9 350.3L430.2 350.3L429.5 350.3L428.7 350.2L428.0 350.2L427.2 350.2L426.4 350.1L425.7 350.1L424.9 350.0L424.1 349.9L423.4 349.9L422.6 349.8L421.8 349.8L421.0 349.7L420.2 349.6L419.4 349.5L418.6 349.5L417.8 349.4L416.9 349.3L416.1 349.2L415.3 349.1L414.4 349.0L413.6 349.0L412.8 348.9L411.9 348.8L411.0 348.7L410.2 348.6L409.3 348.5L408.4 348.4L407.6 348.3L406.7 348.2L405.8 348.1L404.9 348.0L404.0 347.9L403.1 347.8L402.2 347.7L401.2 347.6L400.3 347.5L399.4 347.4L398.5 347.3L397.5 347.2L396.6 347.1L395.6 347.0L394.7 346.9L393.7 346.8L392.7 346.7L391.8 346.6L390.8 346.5L389.8 346.4L388.8 346.3L387.8 346.1L386.8 346.0L385.8 345.9L384.8 345.8L383.8 345.7L382.8 345.6L381.7 345.5L380.7 345.4L379.7 345.3L378.6 345.2L377.6 345.1L376.5 344.9L375.5 344.8L374.4 344.7L373.3 344.6L372.2 344.5L371.2 344.4L370.1 344.3L369.0 344.2L367.9 344.0L366.8 343.9L365.7 343.8L364.5 343.7L363.4 343.6L362.3 343.5L361.2 343.4L360.0 343.2L358.9 343.1L357.7 343.0L356.6 342.9L355.4 342.8L354.2 342.6L353.1 342.5L351.9 342.4L350.7 342.3L349.5 342.1L348.3 342.0L347.1 341.9L345.9 341.8L344.7 341.6L343.5 341.5L342.3 341.4L341.0 341.2L339.8 341.1L338.6 341.0L337.3 340.8L336.1 340.7L334.8 340.6L333.5 340.4L332.3 340.3L331.0 340.2L329.7 340.0L328.4 339.9L327.1 339.7L325.8 339.6L324.5 339.4L323.2 339.3L321.9 339.1L320.6 339.0L319.3 338.8L317.9 338.7L316.6 338.5L315.3 338.3L313.9 338.2L312.6 338.0L311.2 337.9L309.8 337.7L308.5 337.5L307.1 337.3L305.7 337.2L304.3 337.0L302.9 336.8L301.5 336.6L300.1 336.4L298.7 336.3L297.3 336.1L295.8 335.9L294.4 335.7L293.0 335.5L291.5 335.3L290.1 335.1L288.6 334.8L287.2 334.6L285.7 334.4L284.2 334.2L282.8 334.0L281.3 333.7L279.8 333.5L278.3 333.3L276.8 333.0L275.3 332.8L273.8 332.5L272.2 332.3L270.7 332.1L269.2 331.8L267.7 331.6L266.1 331.3L264.6 331.0L263.0 330.8L261.5 330.5L259.9 330.3L258.3 330.0L256.7 329.7L255.2 329.5L253.6 329.2L252.0 328.9L250.4 328.7L248.8 328.4L247.1 328.1L245.5 327.9L243.9 327.6L242.3 327.3L240.6 327.1L239.0 326.8L237.3 326.5L235.7 326.2L234.0 326.0L232.4 325.7L230.7 325.4L229.0 325.2L227.3 324.9L225.6 324.7L223.9 324.4L222.2 324.1L220.5 323.8L218.8 323.5L217.1 323.2L215.4 322.9L213.6 322.6L211.9 322.2L210.2 321.9L208.4 321.6L206.6 321.3L204.9 320.9L203.1 320.6L201.3 320.2L199.6 319.9L197.8 319.6L196.0 319.2L194.2 318.9L192.4 318.5L190.6 318.2L188.7 317.9L186.9 317.6L185.1 317.2L183.3 316.9L181.4 316.6L179.6 316.3L177.7 316.0L175.9 315.8L174.0 315.5L172.1 315.3L170.2 315.0L168.3 314.8L166.5 314.6L164.6 314.4L162.7 314.2L160.8 314.1L158.8 313.9L156.9 313.8L155.0 313.7L153.1 313.7L151.1 313.6L149.2 313.5L147.2 313.5L145.3 313.4L143.3 313.3L141.3 313.3L139.4 313.2L137.4 313.2L135.4 313.1L133.4 313.1L131.4 313.0L129.4 313.0L127.4 312.9L125.3 312.9L123.3 312.9L121.3 312.9L119.3 312.8L117.2 312.8L115.2 312.8L113.1 312.8" fill="none" stroke="#efc08e" stroke-width="1.5" stroke-linejoin="round"/>
<path d="M113.1 312.8L113.1 312.4L113.1 312.0L113.1 311.5L113.1 310.8L113.2 310.0L113.2 309.1L113.2 308.0L113.2 306.7L113.2 305.3L113.3 303.8L113.3 302.1L113.3 300.2L113.4 298.3L113.4 296.1L113.5 293.9L113.5 291.5L113.6 288.9L113.6 286.3L113.7 283.5L113.7 280.6L113.8 277.6L113.9 274.5L113.9 271.3L114.0 268.0L114.1 264.7L114.2 261.2L114.3 257.7L114.4 254.2L114.5 250.6L114.6 246.9L114.7 243.2L114.8 239.5L114.9 235.7L115.0 232.0L115.1 228.2L115.2 224.5L115.3 220.7L115.5 217.0L115.6 213.3L115.7 209.6L115.9 205.9L116.0 202.3L116.2 198.8L116.3 195.3L116.5 191.8L116.6 188.4L116.8 185.1L117.0 181.9L117.1 178.7L117.3 175.6L117.5 172.6L117.7 169.7L117.9 166.8L118.1 164.1L118.3 161.4L118.5 158.8L118.7 156.3L118.9 153.9L119.1 151.6L119.3 149.4L119.5 147.2L119.8 145.2L120.0 143.3L120.2 141.4L120.5 139.6L120.7 137.9L121.0 136.3L121.2 134.8L121.5 133.3L121.7 131.9L122.0 130.6L122.3 129.4L122.5 128.2L122.8 127.1L123.1 126.1L123.4 125.1L123.7 124.2L124.0 123.3L124.3 122.5L124.6 121.8L124.9 121.0L125.2 120.4L125.5 119.8L125.9 119.2L126.2 118.6L126.5 118.1L126.9 117.7L127.2 117.2L127.6 116.8L127.9 116.5L128.3 116.1L128.6 115.8L129.0 115.5L129.4 115.2L129.7 114.9L130.1 114.7L130.5 114.4L130.9 114.2L131.3 114.0L131.7 113.8L132.1 113.7L132.5 113.5L132.9 113.3L133.3 113.2L133.7 113.0L134.2 112.9L134.6 112.8L135.0 112.7L135.5 112.5L135.9 112.4L136.4 112.3L136.8 112.2L137.3 112.1L137.8 112.0L138.2 111.9L138.7 111.8L139.2 111.7L139.7 111.6L140.2 111.6L140.7 111.5L141.2 111.4L141.7 111.3L142.2 111.2L142.7 111.1L143.2 111.0L143.7 110.9L144.3 110.9L144.8 110.8L145.3 110.7L145.9 110.6L146.4 110.5L147.0 110.4L147.5 110.3L148.1 110.2L148.7 110.2L149.2 110.1L149.8 110.0L150.4 109.9L151.0 109.8L151.6 109.7L152.2 109.6L152.8 109.5L153.4 109.4L154.0 109.3L154.6 109.2L155.2 109.1L155.9 109.0L156.5 108.9L157.1 108.8L157.8 108.7L158.4 108.6L159.1 108.5L159.8 108.4L160.4 108.3L161.1 108.2L161.8 108.1L162.4 108.0L163.1 107.9L163.8 107.8L164.5 107.7L165.2 107.5L165.9 107.4L166.6 107.3L167.4 107.2L168.1 107.1L168.8 107.0L169.5 106.9L170.3 106.7L171.0 106.6L171.8 106.5L172.5 106.4L173.3 106.3L174.0 106.1L174.8 106.0L175.6 105.9L176.4 105.7L177.1 105.6L177.9 105.5L178.7 105.4L179.5 105.2L180.3 105.1L181.1 105.0L182.0 104.8L182.8 104.7L183.6 104.6L184.4 104.4L185.3 104.3L186.1 104.1L187.0 104.0L187.8 103.9L188.7 103.7L189.5 103.6L190.4 103.4L191.3 103.3L192.2 103.1L193.1 103.0L193.9 102.8L194.8 102.7L195.7 102.5L196.7 102.4L197.6 102.2L198.5 102.1L199.4 101.9L200.3 101.8L201.3 101.6L202.2 101.4L203.2 101.3L204.1 101.1L205.1 101.0L206.0 100.8L207.0 100.6L208.0 100.5L208.9 100.3L209.9 100.1L210.9 100.0L211.9 99.8L212.9 99.6L213.9 99.5L214.9 99.3L215.9 99.1L217.0 98.9L218.0 98.8L219.0 98.6L220.1 98.4L221.1 98.2L222.2 98.0L223.2 97.9L224.3 97.7L225.3 97.5L226.4 97.3L227.5 97.1L228.6 96.9L229.7 96.7L230.7 96.6L231.8 96.4L233.0 96.2L234.1 96.0L235.2 95.8L236.3 95.6L237.4 95.4L238.6 95.2L239.7 95.0L240.8 94.8L242.0 94.6L243.1 94.4L244.3 94.2L245.5 94.0L246.6 93.8L247.8 93.6L249.0 93.4L250.2 93.2L251.4 93.0L252.6 92.8L253.8 92.6L255.0 92.3L256.2 92.1L257.5 91.9L258.7 91.7L259.9 91.5L261.2 91.3L262.4 91.1L263.7 90.8L264.9 90.6L266.2 90.4L267.4 90.2L268.7 90.0L270.0 89.7L271.3 89.5L272.6 89.3L273.9 89.1L275.2 88.8L276.5 88.6L277.8 88.4L279.1 88.2L280.5 87.9L281.8 87.7L283.1 87.5L284.5 87.2L285.8 87.0L287.2 86.8L288.5 86.5L289.9 86.3L291.3 86.1L292.6 85.8L294.0 85.6L295.4 85.3L296.8 85.1L298.2 84.9L299.6 84.6L301.0 84.4L302.5 84.1L303.9 83.9L305.3 83.7L306.7 83.4L308.2 83.2L309.6 82.9L311.1 82.7L312.6 82.4L314.0 82.2L315.5 81.9L317.0 81.7L318.5 81.4L319.9 81.2L321.4 80.9L322.9 80.6L324.4 80.4L326.0 80.1L327.5 79.9L329.0 79.6L330.5 79.3L332.1 79.1L333.6 78.8L335.2 78.5L336.7 78.3L338.3 78.0L339.8 77.7L341.4 77.5L343.0 77.2L344.6 76.9L346.2 76.6L347.7 76.4L349.4 76.1L351.0 75.8L352.6 75.5L354.2 75.3L355.8 75.0L357.4 74.7L359.1 74.4L360.7 74.2L362.4 73.9L364.0 73.6L365.7 73.3L367.4 73.0L369.0 72.7L370.7 72.5L372.4 72.2L374.1 71.9L375.8 71.6L377.5 71.3L379.2 71.0L380.9 70.7L382.6 70.4L384.4 70.1L386.1 69.9L387.8 69.6L389.6 69.3L391.3 69.0L393.1 68.7L394.8 68.4L396.6 68.1L398.4 67.8L400.2 67.5L402.0 67.2L403.7 66.8L405.5 66.5L407.3 66.2L409.2 65.9L411.0 65.6L412.8 65.3L414.6 65.0L416.5 64.6L418.3 64.3L420.2 64.0L422.0 63.7L423.9 63.4L425.7 63.1L427.6 62.8L429.5 62.4L431.4 62.1L433.3 61.8L435.2 61.5L437.1 61.2L439.0 60.9L440.9 60.6L442.8 60.3L444.7 60.0L446.7 59.7L448.6 59.4L450.5 59.1L452.5 58.9L454.5 58.6L456.4 58.3L458.4 58.0L460.4 57.8L462.4 57.5L464.3 57.2L466.3 57.0L468.3 56.7L470.3 56.5L472.4 56.2L474.4 56.0L476.4 55.7L478.4 55.5L480.5 55.3L482.5 55.0L484.6 54.8L486.6 54.6L486.6 54.8L486.6 55.2L486.6 55.8L486.6 56.6L486.6 57.6L486.6 58.9L486.6 60.3L486.5 62.0L486.5 63.9L486.5 66.1L486.5 68.4L486.4 71.0L486.4 73.8L486.3 76.9L486.3 80.1L486.3 83.6L486.2 87.3L486.2 91.1L486.1 95.2L486.0 99.5L486.0 103.9L485.9 108.5L485.8 113.2L485.8 118.1L485.7 123.1L485.6 128.3L485.5 133.5L485.5 138.9L485.4 144.3L485.3 149.9L485.2 155.4L485.1 161.1L485.0 166.8L484.9 172.5L484.7 178.2L484.6 184.0L484.5 189.7L484.4 195.4L484.3 201.1L484.1 206.8L484.0 212.4L483.8 217.9L483.7 223.4L483.5 228.8L483.4 234.2L483.2 239.4L483.1 244.5L482.9 249.6L482.7 254.5L482.6 259.3L482.4 264.0L482.2 268.5L482.0 273.0L481.8 277.3L481.7 281.4L481.5 285.5L481.3 289.4L481.0 293.1L480.8 296.7L480.6 300.2L480.4 303.5L480.2 306.7L480.0 309.8L479.7 312.7L479.5 315.5L479.2 318.1L479.0 320.6L478.8 323.0L478.5 325.3L478.2 327.4L478.0 329.4L477.7 331.4L477.4 333.2L477.2 334.9L476.9 336.4L476.6 337.9L476.3 339.3L476.0 340.6L475.7 341.9L475.4 343.0L475.1 344.1L474.8 345.0L474.5 345.9L474.2 346.8L473.9 347.6L473.5 348.3L473.2 348.9L472.9 349.5L472.5 350.1L472.2 350.6L471.8 351.1L471.5 351.5L471.1 351.9L470.7 352.2L470.4 352.5L470.0 352.8L469.6 353.1L469.2 353.3L468.8 353.5L468.4 353.7L468.0 353.8L467.6 354.0L467.2 354.1L466.8 354.2L466.4 354.3L466.0 354.4L465.5 354.4L465.1 354.5L464.7 354.5L464.2 354.6L463.8 354.6L463.3 354.6L462.9 354.6L462.4 354.6L462.0 354.6L461.5 354.6L461.0 354.6L460.5 354.6L460.1 354.5L459.6 354.5L459.1 354.5L458.6 354.4L458.1 354.4L457.6 354.3L457.0 354.3L456.5 354.3L456.0 354.2L455.5 354.2L454.9 354.1L454.4 354.1L453.9 354.0L453.3 353.9L452.8 353.9L452.2 353.8L451.6 353.8L451.1 353.7L450.5 353.6L449.9 353.6L449.3 353.5L448.7 353.4L448.1 353.4L447.5 353.3L446.9 353.2L446.3 353.2L445.7 353.1L445.1 353.0L444.5 352.9L443.8 352.9L443.2 352.8L442.6 352.7L441.9 352.6L441.3 352.6L440.6 352.5L440.0 352.4L439.3 352.3L438.6 352.2L438.0 352.2L437.3 352.1L436.6 352.0L435.9 351.9L435.2 351.8L434.5 351.7L433.8 351.6L433.1 351.5L432.4 351.5L431.6 351.4L430.9 351.3L430.2 351.2L429.5 351.1L428.7 351.0L428.0 350.9L427.2 350.8L426.4 350.7L425.7 350.6L424.9 350.5L424.1 350.4L423.4 350.3L422.6 350.2L421.8 350.1L421.0 350.0L420.2 349.9L419.4 349.8L418.6 349.7L417.8 349.6L416.9 349.5L416.1 349.4L415.3 349.3L414.4 349.2L413.6 349.1L412.8 349.0L411.9 348.9L411.0 348.8L410.2 348.7L409.3 348.6L408.4 348.5L407.6 348.4L406.7 348.3L405.8 348.2L404.9 348.1L404.0 348.0L403.1 347.9L402.2 347.8L401.2 347.6L400.3 347.5L399.4 347.4L398.5 347.3L397.5 347.2L396.6 347.1L395.6 347.0L394.7 346.9L393.7 346.8L392.7 346.7L391.8 346.6L390.8 346.5L389.8 346.4L388.8 346.3L387.8 346.2L386.8 346.0L385.8 345.9L384.8 345.8L383.8 345.7L382.8 345.6L381.7 345.5L380.7 345.4L379.7 345.3L378.6 345.2L377.6 345.1L376.5 345.0L375.5 344.8L374.4 344.7L373.3 344.6L372.2 344.5L371.2 344.4L370.1 344.3L369.0 344.2L367.9 344.1L366.8 343.9L365.7 343.8L364.5 343.7L363.4 343.6L362.3 343.5L361.2 343.4L360.0 343.2L358.9 343.1L357.7 343.0L356.6 342.9L355.4 342.8L354.2 342.6L353.1 342.5L351.9 342.4L350.7 342.3L349.5 342.1L348.3 342.0L347.1 341.9L345.9 341.8L344.7 341.6L343.5 341.5L342.3 341.4L341.0 341.2L339.8 341.1L338.6 341.0L337.3 340.8L336.1 340.7L334.8 340.6L333.5 340.4L332.3 340.3L331.0 340.2L329.7 340.0L328.4 339.9L327.1 339.7L325.8 339.6L324.5 339.4L323.2 339.3L321.9 339.1L320.6 339.0L319.3 338.8L317.9 338.7L316.6 338.5L315.3 338.3L313.9 338.2L312.6 338.0L311.2 337.9L309.8 337.7L308.5 337.5L307.1 337.3L305.7 337.2L304.3 337.0L302.9 336.8L301.5 336.6L300.1 336.4L298.7 336.3L297.3 336.1L295.8 335.9L294.4 335.7L293.0 335.5L291.5 335.3L290.1 335.1L288.6 334.8L287.2 334.6L285.7 334.4L284.2 334.2L282.8 334.0L281.3 333.7L279.8 333.5L278.3 333.3L276.8 333.0L275.3 332.8L273.8 332.5L272.2 332.3L270.7 332.1L269.2 331.8L267.7 331.6L266.1 331.3L264.6 331.0L263.0 330.8L261.5 330.5L259.9 330.3L258.3 330.0L256.7 329.7L255.2 329.5L253.6 329.2L252.0 328.9L250.4 328.7L248.8 328.4L247.1 328.1L245.5 327.9L243.9 327.6L242.3 327.3L240.6 327.1L239.0 326.8L237.3 326.5L235.7 326.2L234.0 326.0L232.4 325.7L230.7 325.4L229.0 325.2L227.3 324.9L225.6 324.7L223.9 324.4L222.2 324.1L220.5 323.8L218.8 323.5L217.1 323.2L215.4 322.9L213.6 322.6L211.9 322.2L210.2 321.9L208.4 321.6L206.6 321.3L204.9 320.9L203.1 320.6L201.3 320.2L199.6 319.9L197.8 319.6L196.0 319.2L194.2 318.9L192.4 318.5L190.6 318.2L188.7 317.9L186.9 317.6L185.1 317.2L183.3 316.9L181.4 316.6L179.6 316.3L177.7 316.0L175.9 315.8L174.0 315.5L172.1 315.3L170.2 315.0L168.3 314.8L166.5 314.6L164.6 314.4L162.7 314.2L160.8 314.1L158.8 313.9L156.9 313.8L155.0 313.7L153.1 313.7L151.1 313.6L149.2 313.5L147.2 313.5L145.3 313.4L143.3 313.3L141.3 313.3L139.4 313.2L137.4 313.2L135.4 313.1L133.4 313.1L131.4 313.0L129.4 313.0L127.4 312.9L125.3 312.9L123.3 312.9L121.3 312.9L119.3 312.8L117.2 312.8L115.2 312.8L113.1 312.8" fill="none" stroke="#7ca47c" stroke-width="1.5" stroke-linejoin="round"/>
<path d="M113.1 312.8L113.1 312.5L113.1 312.0L113.1 311.3L113.1 310.4L113.1 309.2L113.2 307.7L113.2 306.0L113.2 304.0L113.2 301.8L113.2 299.3L113.3 296.6L113.3 293.6L113.3 290.4L113.4 286.9L113.4 283.3L113.5 279.5L113.5 275.4L113.6 271.3L113.6 266.9L113.7 262.4L113.7 257.8L113.8 253.1L113.9 248.4L113.9 243.5L114.0 238.6L114.1 233.7L114.2 228.7L114.3 223.8L114.4 218.8L114.5 214.0L114.6 209.1L114.7 204.3L114.8 199.6L114.9 195.0L115.0 190.5L115.1 186.1L115.2 181.9L115.3 177.7L115.5 173.7L115.6 169.9L115.7 166.1L115.9 162.6L116.0 159.2L116.2 155.9L116.3 152.8L116.5 149.9L116.6 147.1L116.8 144.5L117.0 142.0L117.1 139.7L117.3 137.5L117.5 135.5L117.7 133.6L117.9 131.8L118.1 130.2L118.3 128.7L118.5 127.3L118.7 126.0L118.9 124.8L119.1 123.7L119.3 122.7L119.5 121.8L119.8 120.9L120.0 120.2L120.2 119.5L120.5 118.9L120.7 118.3L121.0 117.8L121.2 117.3L121.5 116.9L121.7 116.5L122.0 116.2L122.3 115.9L122.5 115.6L122.8 115.3L123.1 115.1L123.4 114.9L123.7 114.7L124.0 114.6L124.3 114.4L124.6 114.3L124.9 114.1L125.2 114.0L125.5 113.9L125.9 113.8L126.2 113.7L126.5 113.6L126.9 113.5L127.2 113.5L127.6 113.4L127.9 113.3L128.3 113.2L128.6 113.2L129.0 113.1L129.4 113.0L129.7 113.0L130.1 112.9L130.5 112.8L130.9 112.8L131.3 112.7L131.7 112.6L132.1 112.6L132.5 112.5L132.9 112.4L133.3 112.4L133.7 112.3L134.2 112.2L134.6 112.2L135.0 112.1L135.5 112.0L135.9 112.0L136.4 111.9L136.8 111.8L137.3 111.7L137.8 111.7L138.2 111.6L138.7 111.5L139.2 111.4L139.7 111.4L140.2 111.3L140.7 111.2L141.2 111.1L141.7 111.1L142.2 111.0L142.7 110.9L143.2 110.8L143.7 110.7L144.3 110.6L144.8 110.6L145.3 110.5L145.9 110.4L146.4 110.3L147.0 110.2L147.5 110.1L148.1 110.0L148.7 109.9L149.2 109.9L149.8 109.8L150.4 109.7L151.0 109.6L151.6 109.5L152.2 109.4L152.8 109.3L153.4 109.2L154.0 109.1L154.6 109.0L155.2 108.9L155.9 108.8L156.5 108.7L157.1 108.6L157.8 108.5L158.4 108.4L159.1 108.3L159.8 108.2L160.4 108.0L161.1 107.9L161.8 107.8L162.4 107.7L163.1 107.6L163.8 107.5L164.5 107.4L165.2 107.3L165.9 107.1L166.6 107.0L167.4 106.9L168.1 106.8L168.8 106.7L169.5 106.5L170.3 106.4L171.0 106.3L171.8 106.2L172.5 106.0L173.3 105.9L174.0 105.8L174.8 105.6L175.6 105.5L176.4 105.4L177.1 105.3L177.9 105.1L178.7 105.0L179.5 104.8L180.3 104.7L181.1 104.6L182.0 104.4L182.8 104.3L183.6 104.2L184.4 104.0L185.3 103.9L186.1 103.7L187.0 103.6L187.8 103.4L188.7 103.3L189.5 103.1L190.4 103.0L191.3 102.8L192.2 102.7L193.1 102.5L193.9 102.4L194.8 102.2L195.7 102.1L196.7 101.9L197.6 101.7L198.5 101.6L199.4 101.4L200.3 101.3L201.3 101.1L202.2 100.9L203.2 100.8L204.1 100.6L205.1 100.4L206.0 100.3L207.0 100.1L208.0 99.9L208.9 99.8L209.9 99.6L210.9 99.4L211.9 99.2L212.9 99.1L213.9 98.9L214.9 98.7L215.9 98.5L217.0 98.3L218.0 98.2L219.0 98.0L220.1 97.8L221.1 97.6L222.2 97.4L223.2 97.2L224.3 97.0L225.3 96.8L226.4 96.7L227.5 96.5L228.6 96.3L229.7 96.1L230.7 95.9L231.8 95.7L233.0 95.5L234.1 95.3L235.2 95.1L236.3 94.9L237.4 94.7L238.6 94.5L239.7 94.3L240.8 94.1L242.0 93.9L243.1 93.7L244.3 93.5L245.5 93.2L246.6 93.0L247.8 92.8L249.0 92.6L250.2 92.4L251.4 92.2L252.6 92.0L253.8 91.7L255.0 91.5L256.2 91.3L257.5 91.1L258.7 90.9L259.9 90.6L261.2 90.4L262.4 90.2L263.7 90.0L264.9 89.7L266.2 89.5L267.4 89.3L268.7 89.1L270.0 88.8L271.3 88.6L272.6 88.4L273.9 88.1L275.2 87.9L276.5 87.7L277.8 87.4L279.1 87.2L280.5 87.0L281.8 86.7L283.1 86.5L284.5 86.2L285.8 86.0L287.2 85.8L288.5 85.5L289.9 85.3L291.3 85.0L292.6 84.8L294.0 84.5L295.4 84.3L296.8 84.1L298.2 83.8L299.6 83.6L301.0 83.3L302.5 83.1L303.9 82.8L305.3 82.6L306.7 82.3L308.2 82.0L309.6 81.8L311.1 81.5L312.6 81.3L314.0 81.0L315.5 80.8L317.0 80.5L318.5 80.2L319.9 80.0L321.4 79.7L322.9 79.4L324.4 79.2L326.0 78.9L327.5 78.6L329.0 78.4L330.5 78.1L332.1 77.8L333.6 77.5L335.2 77.3L336.7 77.0L338.3 76.7L339.8 76.4L341.4 76.2L343.0 75.9L344.6 75.6L346.2 75.3L347.7 75.0L349.4 74.7L351.0 74.5L352.6 74.2L354.2 73.9L355.8 73.6L357.4 73.3L359.1 73.0L360.7 72.7L362.4 72.4L364.0 72.1L365.7 71.9L367.4 71.6L369.0 71.3L370.7 71.0L372.4 70.7L374.1 70.4L375.8 70.1L377.5 69.8L379.2 69.5L380.9 69.2L382.6 68.9L384.4 68.6L386.1 68.3L387.8 68.0L389.6 67.7L391.3 67.4L393.1 67.1L394.8 66.8L396.6 66.4L398.4 66.1L400.2 65.8L402.0 65.5L403.7 65.2L405.5 64.9L407.3 64.5L409.2 64.2L411.0 63.9L412.8 63.6L414.6 63.2L416.5 62.9L418.3 62.6L420.2 62.3L422.0 61.9L423.9 61.6L425.7 61.3L427.6 60.9L429.5 60.6L431.4 60.3L433.3 60.0L435.2 59.7L437.1 59.3L439.0 59.0L440.9 58.7L442.8 58.4L444.7 58.1L446.7 57.8L448.6 57.5L450.5 57.2L452.5 56.9L454.5 56.6L456.4 56.3L458.4 56.1L460.4 55.8L462.4 55.5L464.3 55.2L466.3 55.0L468.3 54.7L470.3 54.4L472.4 54.2L474.4 53.9L476.4 53.7L478.4 53.4L480.5 53.2L482.5 52.9L484.6 52.7L486.6 52.4L486.6 52.9L486.6 53.5L486.6 54.4L486.6 55.7L486.6 57.3L486.6 59.2L486.6 61.5L486.5 64.1L486.5 67.1L486.5 70.4L486.5 74.1L486.4 78.1L486.4 82.4L486.3 87.0L486.3 91.9L486.3 97.1L486.2 102.6L486.2 108.3L486.1 114.2L486.0 120.4L486.0 126.7L485.9 133.3L485.8 139.9L485.8 146.7L485.7 153.6L485.6 160.6L485.5 167.7L485.5 174.7L485.4 181.8L485.3 188.9L485.2 196.0L485.1 203.0L485.0 210.0L484.9 216.9L484.7 223.7L484.6 230.3L484.5 236.9L484.4 243.3L484.3 249.5L484.1 255.5L484.0 261.4L483.8 267.1L483.7 272.6L483.5 277.9L483.4 283.0L483.2 287.9L483.1 292.6L482.9 297.0L482.7 301.3L482.6 305.3L482.4 309.2L482.2 312.8L482.0 316.2L481.8 319.4L481.7 322.4L481.5 325.3L481.3 327.9L481.0 330.4L480.8 332.7L480.6 334.8L480.4 336.8L480.2 338.6L480.0 340.3L479.7 341.8L479.5 343.3L479.2 344.6L479.0 345.8L478.8 346.9L478.5 347.8L478.2 348.7L478.0 349.5L477.7 350.3L477.4 350.9L477.2 351.5L476.9 352.1L476.6 352.5L476.3 352.9L476.0 353.3L475.7 353.7L475.4 353.9L475.1 354.2L474.8 354.4L474.5 354.6L474.2 354.8L473.9 354.9L473.5 355.0L473.2 355.1L472.9 355.2L472.5 355.3L472.2 355.4L471.8 355.4L471.5 355.4L471.1 355.5L470.7 355.5L470.4 355.5L470.0 355.5L469.6 355.5L469.2 355.5L468.8 355.5L468.4 355.4L468.0 355.4L467.6 355.4L467.2 355.4L466.8 355.3L466.4 355.3L466.0 355.3L465.5 355.2L465.1 355.2L464.7 355.2L464.2 355.1L463.8 355.1L463.3 355.0L462.9 355.0L462.4 354.9L462.0 354.9L461.5 354.8L461.0 354.8L460.5 354.8L460.1 354.7L459.6 354.6L459.1 354.6L458.6 354.5L458.1 354.5L457.6 354.4L457.0 354.4L456.5 354.3L456.0 354.3L455.5 354.2L454.9 354.2L454.4 354.1L453.9 354.0L453.3 354.0L452.8 353.9L452.2 353.8L451.6 353.8L451.1 353.7L450.5 353.6L449.9 353.6L449.3 353.5L448.7 353.4L448.1 353.4L447.5 353.3L446.9 353.2L446.3 353.2L445.7 353.1L445.1 353.0L444.5 352.9L443.8 352.9L443.2 352.8L442.6 352.7L441.9 352.6L441.3 352.6L440.6 352.5L440.0 352.4L439.3 352.3L438.6 352.2L438.0 352.2L437.3 352.1L436.6 352.0L435.9 351.9L435.2 351.8L434.5 351.7L433.8 351.6L433.1 351.5L432.4 351.5L431.6 351.4L430.9 351.3L430.2 351.2L429.5 351.1L428.7 351.0L428.0 350.9L427.2 350.8L426.4 350.7L425.7 350.6L424.9 350.5L424.1 350.4L423.4 350.3L422.6 350.2L421.8 350.1L421.0 350.0L420.2 349.9L419.4 349.8L418.6 349.7L417.8 349.6L416.9 349.5L416.1 349.4L415.3 349.3L414.4 349.2L413.6 349.1L412.8 349.0L411.9 348.9L411.0 348.8L410.2 348.7L409.3 348.6L408.4 348.5L407.6 348.4L406.7 348.3L405.8 348.2L404.9 348.1L404.0 348.0L403.1 347.9L402.2 347.8L401.2 347.6L400.3 347.5L399.4 347.4L398.5 347.3L397.5 347.2L396.6 347.1L395.6 347.0L394.7 346.9L393.7 346.8L392.7 346.7L391.8 346.6L390.8 346.5L389.8 346.4L388.8 346.3L387.8 346.2L386.8 346.0L385.8 345.9L384.8 345.8L383.8 345.7L382.8 345.6L381.7 345.5L380.7 345.4L379.7 345.3L378.6 345.2L377.6 345.1L376.5 345.0L375.5 344.8L374.4 344.7L373.3 344.6L372.2 344.5L371.2 344.4L370.1 344.3L369.0 344.2L367.9 344.1L366.8 343.9L365.7 343.8L364.5 343.7L363.4 343.6L362.3 343.5L361.2 343.4L360.0 343.2L358.9 343.1L357.7 343.0L356.6 342.9L355.4 342.8L354.2 342.6L353.1 342.5L351.9 342.4L350.7 342.3L349.5 342.1L348.3 342.0L347.1 341.9L345.9 341.8L344.7 341.6L343.5 341.5L342.3 341.4L341.0 341.2L339.8 341.1L338.6 341.0L337.3 340.8L336.1 340.7L334.8 340.6L333.5 340.4L332.3 340.3L331.0 340.2L329.7 340.0L328.4 339.9L327.1 339.7L325.8 339.6L324.5 339.4L323.2 339.3L321.9 339.1L320.6 339.0L319.3 338.8L317.9 338.7L316.6 338.5L315.3 338.3L313.9 338.2L312.6 338.0L311.2 337.9L309.8 337.7L308.5 337.5L307.1 337.3L305.7 337.2L304.3 337.0L302.9 336.8L301.5 336.6L300.1 336.4L298.7 336.3L297.3 336.1L295.8 335.9L294.4 335.7L293.0 335.5L291.5 335.3L290.1 335.1L288.6 334.8L287.2 334.6L285.7 334.4L284.2 334.2L282.8 334.0L281.3 333.7L279.8 333.5L278.3 333.3L276.8 333.0L275.3 332.8L273.8 332.5L272.2 332.3L270.7 332.1L269.2 331.8L267.7 331.6L266.1 331.3L264.6 331.0L263.0 330.8L261.5 330.5L259.9 330.3L258.3 330.0L256.7 329.7L255.2 329.5L253.6 329.2L252.0 328.9L250.4 328.7L248.8 328.4L247.1 328.1L245.5 327.9L243.9 327.6L242.3 327.3L240.6 327.1L239.0 326.8L237.3 326.5L235.7 326.2L234.0 326.0L232.4 325.7L230.7 325.4L229.0 325.2L227.3 324.9L225.6 324.7L223.9 324.4L222.2 324.1L220.5 323.8L218.8 323.5L217.1 323.2L215.4 322.9L213.6 322.6L211.9 322.2L210.2 321.9L208.4 321.6L206.6 321.3L204.9 320.9L203.1 320.6L201.3 320.2L199.6 319.9L197.8 319.6L196.0 319.2L194.2 318.9L192.4 318.5L190.6 318.2L188.7 317.9L186.9 317.6L185.1 317.2L183.3 316.9L181.4 316.6L179.6 316.3L177.7 316.0L175.9 315.8L174.0 315.5L172.1 315.3L170.2 315.0L168.3 314.8L166.5 314.6L164.6 314.4L162.7 314.2L160.8 314.1L158.8 313.9L156.9 313.8L155.0 313.7L153.1 313.7L151.1 313.6L149.2 313.5L147.2 313.5L145.3 313.4L143.3 313.3L141.3 313.3L139.4 313.2L137.4 313.2L135.4 313.1L133.4 313.1L131.4 313.0L129.4 313.0L127.4 312.9L125.3 312.9L123.3 312.9L121.3 312.9L119.3 312.8L117.2 312.8L115.2 312.8L113.1 312.8" fill="none" stroke="#807cca" stroke-width="1.5" stroke-linejoin="round"/>
<path d="M113.1 312.8L113.1 312.3L113.1 311.6L113.1 310.6L113.1 309.1L113.1 307.4L113.2 305.2L113.2 302.7L113.2 299.7L113.2 296.5L113.2 292.9L113.3 288.9L113.3 284.7L113.3 280.1L113.4 275.3L113.4 270.2L113.5 265.0L113.5 259.5L113.6 253.9L113.6 248.1L113.7 242.3L113.7 236.4L113.8 230.4L113.9 224.5L113.9 218.6L114.0 212.7L114.1 206.9L114.2 201.2L114.3 195.7L114.4 190.3L114.5 185.0L114.6 179.9L114.7 175.1L114.8 170.4L114.9 165.9L115.0 161.7L115.1 157.7L115.2 153.9L115.3 150.3L115.5 147.0L115.6 143.9L115.7 141.0L115.9 138.3L116.0 135.9L116.2 133.6L116.3 131.5L116.5 129.6L116.6 127.9L116.8 126.3L117.0 124.9L117.1 123.6L117.3 122.5L117.5 121.5L117.7 120.5L117.9 119.7L118.1 119.0L118.3 118.4L118.5 117.8L118.7 117.3L118.9 116.9L119.1 116.5L119.3 116.1L119.5 115.8L119.8 115.6L120.2 115.2L120.7 114.8L121.2 114.6L121.5 114.4L121.7 114.3L122.0 114.3L122.3 114.2L122.5 114.1L122.8 114.0L123.1 114.0L123.4 113.9L123.7 113.8L124.0 113.8L124.3 113.7L124.6 113.7L124.9 113.6L125.2 113.5L125.5 113.5L125.9 113.4L126.2 113.4L126.5 113.3L126.9 113.3L127.2 113.2L127.6 113.1L127.9 113.1L128.3 113.0L128.6 113.0L129.0 112.9L129.4 112.9L129.7 112.8L130.1 112.7L130.5 112.7L130.9 112.6L131.3 112.5L131.7 112.5L132.1 112.4L132.5 112.3L132.9 112.3L133.3 112.2L133.7 112.1L134.2 112.1L134.6 112.0L135.0 111.9L135.5 111.8L135.9 111.8L136.4 111.7L136.8 111.6L137.3 111.6L137.8 111.5L138.2 111.4L138.7 111.3L139.2 111.2L139.7 111.2L140.2 111.1L140.7 111.0L141.2 110.9L141.7 110.8L142.2 110.7L142.7 110.7L143.2 110.6L143.7 110.5L144.3 110.4L144.8 110.3L145.3 110.2L145.9 110.1L146.4 110.0L147.0 109.9L147.5 109.9L148.1 109.8L148.7 109.7L149.2 109.6L149.8 109.5L150.4 109.4L151.0 109.3L151.6 109.2L152.2 109.1L152.8 109.0L153.4 108.9L154.0 108.8L154.6 108.7L155.2 108.5L155.9 108.4L156.5 108.3L157.1 108.2L157.8 108.1L158.4 108.0L159.1 107.9L159.8 107.8L160.4 107.7L161.1 107.5L161.8 107.4L162.4 107.3L163.1 107.2L163.8 107.1L164.5 107.0L165.2 106.8L165.9 106.7L166.6 106.6L167.4 106.5L168.1 106.3L168.8 106.2L169.5 106.1L170.3 105.9L171.0 105.8L171.8 105.7L172.5 105.6L173.3 105.4L174.0 105.3L174.8 105.2L175.6 105.0L176.4 104.9L177.1 104.7L177.9 104.6L178.7 104.5L179.5 104.3L180.3 104.2L181.1 104.0L182.0 103.9L182.8 103.7L183.6 103.6L184.4 103.4L185.3 103.3L186.1 103.1L187.0 103.0L187.8 102.8L188.7 102.7L189.5 102.5L190.4 102.4L191.3 102.2L192.2 102.0L193.1 101.9L193.9 101.7L194.8 101.6L195.7 101.4L196.7 101.2L197.6 101.1L198.5 100.9L199.4 100.7L200.3 100.6L201.3 100.4L202.2 100.2L203.2 100.0L204.1 99.9L205.1 99.7L206.0 99.5L207.0 99.3L208.0 99.2L208.9 99.0L209.9 98.8L210.9 98.6L211.9 98.4L212.9 98.3L213.9 98.1L214.9 97.9L215.9 97.7L217.0 97.5L218.0 97.3L219.0 97.1L220.1 96.9L221.1 96.7L222.2 96.5L223.2 96.3L224.3 96.1L225.3 95.9L226.4 95.7L227.5 95.5L228.6 95.3L229.7 95.1L230.7 94.9L231.8 94.7L233.0 94.5L234.1 94.3L235.2 94.1L236.3 93.9L237.4 93.7L238.6 93.5L239.7 93.3L240.8 93.0L242.0 92.8L243.1 92.6L244.3 92.4L245.5 92.2L246.6 92.0L247.8 91.7L249.0 91.5L250.2 91.3L251.4 91.1L252.6 90.8L253.8 90.6L255.0 90.4L256.2 90.2L257.5 89.9L258.7 89.7L259.9 89.5L261.2 89.2L262.4 89.0L263.7 88.8L264.9 88.5L266.2 88.3L267.4 88.1L268.7 87.8L270.0 87.6L271.3 87.3L272.6 87.1L273.9 86.8L275.2 86.6L276.5 86.4L277.8 86.1L279.1 85.9L280.5 85.6L281.8 85.4L283.1 85.1L284.5 84.9L285.8 84.6L287.2 84.4L288.5 84.1L289.9 83.9L291.3 83.6L292.6 83.3L294.0 83.1L295.4 82.8L296.8 82.6L298.2 82.3L299.6 82.1L301.0 81.8L302.5 81.5L303.9 81.3L305.3 81.0L306.7 80.7L308.2 80.5L309.6 80.2L311.1 79.9L312.6 79.7L314.0 79.4L315.5 79.1L317.0 78.9L318.5 78.6L319.9 78.3L321.4 78.0L322.9 77.7L324.4 77.5L326.0 77.2L327.5 76.9L329.0 76.6L330.5 76.3L332.1 76.1L333.6 75.8L335.2 75.5L336.7 75.2L338.3 74.9L339.8 74.6L341.4 74.3L343.0 74.0L344.6 73.7L346.2 73.4L347.7 73.1L349.4 72.8L351.0 72.5L352.6 72.2L354.2 71.9L355.8 71.6L357.4 71.3L359.1 71.0L360.7 70.7L362.4 70.4L364.0 70.1L365.7 69.8L367.4 69.5L369.0 69.2L370.7 68.9L372.4 68.6L374.1 68.3L375.8 68.0L377.5 67.7L379.2 67.3L380.9 67.0L382.6 66.7L384.4 66.4L386.1 66.1L387.8 65.8L389.6 65.5L391.3 65.1L393.1 64.8L394.8 64.5L396.6 64.2L398.4 63.8L400.2 63.5L402.0 63.2L403.7 62.8L405.5 62.5L407.3 62.2L409.2 61.8L411.0 61.5L412.8 61.1L414.6 60.8L416.5 60.5L418.3 60.1L420.2 59.8L422.0 59.4L423.9 59.1L425.7 58.8L427.6 58.4L429.5 58.1L431.4 57.7L433.3 57.4L435.2 57.1L437.1 56.7L439.0 56.4L440.9 56.1L442.8 55.8L444.7 55.4L446.7 55.1L448.6 54.8L450.5 54.5L452.5 54.2L454.5 53.9L456.4 53.6L458.4 53.3L460.4 53.0L462.4 52.7L464.3 52.4L466.3 52.1L468.3 51.8L470.3 51.6L472.4 51.3L474.4 51.0L476.4 50.7L478.4 50.5L480.5 50.2L482.5 49.9L484.6 49.7L486.6 49.4L486.6 50.2L486.6 51.3L486.6 52.9L486.6 55.1L486.6 57.9L486.6 61.3L486.6 65.3L486.5 69.8L486.5 74.9L486.5 80.5L486.5 86.6L486.4 93.3L486.4 100.4L486.3 107.9L486.3 115.8L486.3 124.0L486.2 132.5L486.2 141.2L486.1 150.2L486.0 159.3L486.0 168.5L485.9 177.7L485.8 187.0L485.8 196.2L485.7 205.3L485.6 214.3L485.5 223.1L485.5 231.8L485.4 240.2L485.3 248.3L485.2 256.2L485.1 263.8L485.0 271.0L484.9 277.9L484.7 284.5L484.6 290.7L484.5 296.6L484.4 302.1L484.3 307.2L484.1 312.0L484.0 316.5L483.8 320.6L483.7 324.4L483.5 327.9L483.4 331.0L483.2 333.9L483.1 336.6L482.9 339.0L482.7 341.1L482.6 343.0L482.4 344.8L482.2 346.3L482.0 347.7L481.8 348.9L481.7 349.9L481.5 350.9L481.3 351.7L481.0 352.4L480.8 353.0L480.6 353.5L480.4 354.0L480.2 354.4L480.0 354.7L479.7 355.0L479.2 355.4L478.8 355.7L478.5 355.8L478.2 355.9L478.0 356.0L477.7 356.0L477.4 356.1L477.2 356.1L476.9 356.1L476.6 356.1L476.3 356.1L476.0 356.1L475.7 356.1L475.4 356.1L475.1 356.1L474.8 356.1L474.5 356.0L474.2 356.0L473.9 356.0L473.5 356.0L473.2 356.0L472.9 355.9L472.5 355.9L472.2 355.9L471.8 355.8L471.5 355.8L471.1 355.8L470.7 355.7L470.4 355.7L470.0 355.7L469.6 355.6L469.2 355.6L468.8 355.6L468.4 355.5L468.0 355.5L467.6 355.5L467.2 355.4L466.8 355.4L466.4 355.3L466.0 355.3L465.5 355.3L465.1 355.2L464.7 355.2L464.2 355.1L463.8 355.1L463.3 355.0L462.9 355.0L462.4 354.9L462.0 354.9L461.5 354.9L461.0 354.8L460.5 354.8L460.1 354.7L459.6 354.7L459.1 354.6L458.6 354.5L458.1 354.5L457.6 354.4L457.0 354.4L456.5 354.3L456.0 354.3L455.5 354.2L454.9 354.2L454.4 354.1L453.9 354.0L453.3 354.0L452.8 353.9L452.2 353.8L451.6 353.8L451.1 353.7L450.5 353.6L449.9 353.6L449.3 353.5L448.7 353.4L448.1 353.4L447.5 353.3L446.9 353.2L446.3 353.2L445.7 353.1L445.1 353.0L444.5 352.9L443.8 352.9L443.2 352.8L442.6 352.7L441.9 352.6L441.3 352.6L440.6 352.5L440.0 352.4L439.3 352.3L438.6 352.2L438.0 352.2L437.3 352.1L436.6 352.0L435.9 351.9L435.2 351.8L434.5 351.7L433.8 351.6L433.1 351.5L432.4 351.5L431.6 351.4L430.9 351.3L430.2 351.2L429.5 351.1L428.7 351.0L428.0 350.9L427.2 350.8L426.4 350.7L425.7 350.6L424.9 350.5L424.1 350.4L423.4 350.3L422.6 350.2L421.8 350.1L421.0 350.0L420.2 349.9L419.4 349.8L418.6 349.7L417.8 349.6L416.9 349.5L416.1 349.4L415.3 349.3L414.4 349.2L413.6 349.1L412.8 349.0L411.9 348.9L411.0 348.8L410.2 348.7L409.3 348.6L408.4 348.5L407.6 348.4L406.7 348.3L405.8 348.2L404.9 348.1L404.0 348.0L403.1 347.9L402.2 347.8L401.2 347.6L400.3 347.5L399.4 347.4L398.5 347.3L397.5 347.2L396.6 347.1L395.6 347.0L394.7 346.9L393.7 346.8L392.7 346.7L391.8 346.6L390.8 346.5L389.8 346.4L388.8 346.3L387.8 346.2L386.8 346.0L385.8 345.9L384.8 345.8L383.8 345.7L382.8 345.6L381.7 345.5L380.7 345.4L379.7 345.3L378.6 345.2L377.6 345.1L376.5 345.0L375.5 344.8L374.4 344.7L373.3 344.6L372.2 344.5L371.2 344.4L370.1 344.3L369.0 344.2L367.9 344.1L366.8 343.9L365.7 343.8L364.5 343.7L363.4 343.6L362.3 343.5L361.2 343.4L360.0 343.2L358.9 343.1L357.7 343.0L356.6 342.9L355.4 342.8L354.2 342.6L353.1 342.5L351.9 342.4L350.7 342.3L349.5 342.1L348.3 342.0L347.1 341.9L345.9 341.8L344.7 341.6L343.5 341.5L342.3 341.4L341.0 341.2L339.8 341.1L338.6 341.0L337.3 340.8L336.1 340.7L334.8 340.6L333.5 340.4L332.3 340.3L331.0 340.2L329.7 340.0L328.4 339.9L327.1 339.7L325.8 339.6L324.5 339.4L323.2 339.3L321.9 339.1L320.6 339.0L319.3 338.8L317.9 338.7L316.6 338.5L315.3 338.3L313.9 338.2L312.6 338.0L311.2 337.9L309.8 337.7L308.5 337.5L307.1 337.3L305.7 337.2L304.3 337.0L302.9 336.8L301.5 336.6L300.1 336.4L298.7 336.3L297.3 336.1L295.8 335.9L294.4 335.7L293.0 335.5L291.5 335.3L290.1 335.1L288.6 334.8L287.2 334.6L285.7 334.4L284.2 334.2L282.8 334.0L281.3 333.7L279.8 333.5L278.3 333.3L276.8 333.0L275.3 332.8L273.8 332.5L272.2 332.3L270.7 332.1L269.2 331.8L267.7 331.6L266.1 331.3L264.6 331.0L263.0 330.8L261.5 330.5L259.9 330.3L258.3 330.0L256.7 329.7L255.2 329.5L253.6 329.2L252.0 328.9L250.4 328.7L248.8 328.4L247.1 328.1L245.5 327.9L243.9 327.6L242.3 327.3L240.6 327.1L239.0 326.8L237.3 326.5L235.7 326.2L234.0 326.0L232.4 325.7L230.7 325.4L229.0 325.2L227.3 324.9L225.6 324.7L223.9 324.4L222.2 324.1L220.5 323.8L218.8 323.5L217.1 323.2L215.4 322.9L213.6 322.6L211.9 322.2L210.2 321.9L208.4 321.6L206.6 321.3L204.9 320.9L203.1 320.6L201.3 320.2L199.6 319.9L197.8 319.6L196.0 319.2L194.2 318.9L192.4 318.5L190.6 318.2L188.7 317.9L186.9 317.6L185.1 317.2L183.3 316.9L181.4 316.6L179.6 316.3L177.7 316.0L175.9 315.8L174.0 315.5L172.1 315.3L170.2 315.0L168.3 314.8L166.5 314.6L164.6 314.4L162.7 314.2L160.8 314.1L158.8 313.9L156.9 313.8L155.0 313.7L153.1 313.7L151.1 313.6L149.2 313.5L147.2 313.5L145.3 313.4L143.3 313.3L141.3 313.3L139.4 313.2L137.4 313.2L135.4 313.1L133.4 313.1L131.4 313.0L129.4 313.0L127.4 312.9L125.3 312.9L123.3 312.9L121.3 312.9L119.3 312.8L117.2 312.8L115.2 312.8L113.1 312.8" fill="none" stroke="#de8696" stroke-width="1.5" stroke-linejoin="round"/>
<path d="M113.1 308.1L113.1 307.8L113.1 307.3L113.1 306.7L113.1 305.8L113.1 304.6L113.2 303.3L113.2 301.6L113.2 299.8L113.2 297.7L113.2 295.3L113.3 292.7L113.3 289.9L113.3 286.9L113.4 283.7L113.4 280.2L113.5 276.6L113.5 272.8L113.6 268.9L113.6 264.8L113.7 260.5L113.7 256.2L113.8 251.8L113.9 247.2L113.9 242.6L114.0 238.0L114.1 233.4L114.2 228.7L114.3 224.0L114.4 219.3L114.5 214.7L114.6 210.1L114.7 205.6L114.8 201.2L114.9 196.8L115.0 192.5L115.1 188.4L115.2 184.3L115.3 180.4L115.5 176.6L115.6 172.9L115.7 169.4L115.9 166.0L116.0 162.8L116.2 159.7L116.3 156.7L116.5 153.9L116.6 151.3L116.8 148.8L117.0 146.4L117.1 144.2L117.3 142.1L117.5 140.2L117.7 138.4L117.9 136.7L118.1 135.1L118.3 133.6L118.5 132.2L118.7 131.0L118.9 129.8L119.1 128.8L119.3 127.8L119.5 126.9L119.8 126.1L120.0 125.3L120.2 124.6L120.5 124.0L120.7 123.4L121.0 122.9L121.2 122.4L121.5 122.0L121.7 121.6L122.0 121.2L122.3 120.9L122.5 120.6L122.8 120.3L123.1 120.1L123.4 119.8L123.7 119.6L124.0 119.4L124.3 119.2L124.6 119.1L124.9 118.9L125.2 118.8L125.5 118.6L125.9 118.5L126.2 118.3L126.5 118.2L126.9 118.1L127.2 118.0L127.6 117.9L127.9 117.8L128.3 117.6L128.6 117.5L129.0 117.4L129.4 117.3L129.7 117.2L130.1 117.1L130.5 117.0L130.9 116.9L131.3 116.8L131.7 116.7L132.1 116.6L132.5 116.5L132.9 116.4L133.3 116.3L133.7 116.2L134.2 116.0L134.6 115.9L135.0 115.8L135.5 115.7L135.9 115.6L136.4 115.5L136.8 115.4L137.3 115.3L137.8 115.2L138.2 115.0L138.7 114.9L139.2 114.8L139.7 114.7L140.2 114.6L140.7 114.5L141.2 114.3L141.7 114.2L142.2 114.1L142.7 114.0L143.2 113.8L143.7 113.7L144.3 113.6L144.8 113.5L145.3 113.4L145.9 113.2L146.4 113.1L147.0 113.0L147.5 112.8L148.1 112.7L148.7 112.6L149.2 112.5L149.8 112.3L150.4 112.2L151.0 112.1L151.6 111.9L152.2 111.8L152.8 111.7L153.4 111.5L154.0 111.4L154.6 111.3L155.2 111.1L155.9 111.0L156.5 110.8L157.1 110.7L157.8 110.6L158.4 110.4L159.1 110.3L159.8 110.1L160.4 110.0L161.1 109.9L161.8 109.7L162.4 109.6L163.1 109.4L163.8 109.3L164.5 109.1L165.2 109.0L165.9 108.8L166.6 108.7L167.4 108.5L168.1 108.4L168.8 108.2L169.5 108.1L170.3 107.9L171.0 107.8L171.8 107.6L172.5 107.5L173.3 107.3L174.0 107.1L174.8 107.0L175.6 106.8L176.4 106.7L177.1 106.5L177.9 106.3L178.7 106.2L179.5 106.0L180.3 105.9L181.1 105.7L182.0 105.5L182.8 105.4L183.6 105.2L184.4 105.0L185.3 104.9L186.1 104.7L187.0 104.5L187.8 104.4L188.7 104.2L189.5 104.0L190.4 103.9L191.3 103.7L192.2 103.5L193.1 103.3L193.9 103.2L194.8 103.0L195.7 102.8L196.7 102.6L197.6 102.5L198.5 102.3L199.4 102.1L200.3 101.9L201.3 101.7L202.2 101.5L203.2 101.4L204.1 101.2L205.1 101.0L206.0 100.8L207.0 100.6L208.0 100.4L208.9 100.3L209.9 100.1L210.9 99.9L211.9 99.7L212.9 99.5L213.9 99.3L214.9 99.1L215.9 98.9L217.0 98.7L218.0 98.5L219.0 98.3L220.1 98.1L221.1 97.9L222.2 97.7L223.2 97.5L224.3 97.3L225.3 97.1L226.4 96.9L227.5 96.7L228.6 96.5L229.7 96.3L230.7 96.1L231.8 95.9L233.0 95.7L234.1 95.5L235.2 95.3L236.3 95.1L237.4 94.8L238.6 94.6L239.7 94.4L240.8 94.2L242.0 94.0L243.1 93.8L244.3 93.6L245.5 93.3L246.6 93.1L247.8 92.9L249.0 92.7L250.2 92.5L251.4 92.2L252.6 92.0L253.8 91.8L255.0 91.6L256.2 91.3L257.5 91.1L258.7 90.9L259.9 90.7L261.2 90.4L262.4 90.2L263.7 90.0L264.9 89.7L266.2 89.5L267.4 89.3L268.7 89.0L270.0 88.8L271.3 88.6L272.6 88.3L273.9 88.1L275.2 87.8L276.5 87.6L277.8 87.4L279.1 87.1L280.5 86.9L281.8 86.6L283.1 86.4L284.5 86.1L285.8 85.9L287.2 85.7L288.5 85.4L289.9 85.2L291.3 84.9L292.6 84.7L294.0 84.4L295.4 84.2L296.8 83.9L298.2 83.7L299.6 83.4L301.0 83.2L302.5 82.9L303.9 82.6L305.3 82.4L306.7 82.1L308.2 81.9L309.6 81.6L311.1 81.4L312.6 81.1L314.0 80.8L315.5 80.6L317.0 80.3L318.5 80.0L319.9 79.8L321.4 79.5L322.9 79.2L324.4 79.0L326.0 78.7L327.5 78.4L329.0 78.1L330.5 77.9L332.1 77.6L333.6 77.3L335.2 77.0L336.7 76.7L338.3 76.5L339.8 76.2L341.4 75.9L343.0 75.6L344.6 75.3L346.2 75.1L347.7 74.8L349.4 74.5L351.0 74.2L352.6 73.9L354.2 73.6L355.8 73.3L357.4 73.0L359.1 72.7L360.7 72.4L362.4 72.1L364.0 71.8L365.7 71.5L367.4 71.2L369.0 70.9L370.7 70.6L372.4 70.3L374.1 70.0L375.8 69.7L377.5 69.4L379.2 69.1L380.9 68.8L382.6 68.5L384.4 68.2L386.1 67.9L387.8 67.6L389.6 67.3L391.3 66.9L393.1 66.6L394.8 66.3L396.6 66.0L398.4 65.6L400.2 65.3L402.0 65.0L403.7 64.6L405.5 64.3L407.3 63.9L409.2 63.6L411.0 63.2L412.8 62.9L414.6 62.5L416.5 62.1L418.3 61.8L420.2 61.4L422.0 61.0L423.9 60.6L425.7 60.3L427.6 59.9L429.5 59.5L431.4 59.1L433.3 58.6L435.2 58.2L437.1 57.8L439.0 57.4L440.9 56.9L442.8 56.4L444.7 56.0L446.7 55.5L448.6 55.0L450.5 54.5L452.5 53.9L454.5 53.3L456.4 52.8L458.4 52.1L460.4 51.5L462.4 50.8L464.3 50.0L466.3 49.3L468.3 48.4L470.3 47.5L472.4 46.5L474.4 45.5L476.4 44.4L478.4 43.1L480.5 41.8L482.5 40.3L484.6 38.7L486.6 37.0L486.6 37.7L486.6 38.9L486.6 40.5L486.6 42.7L486.6 45.5L486.6 48.9L486.6 52.9L486.5 57.5L486.5 62.6L486.5 68.2L486.5 74.4L486.4 81.1L486.4 88.2L486.3 95.8L486.3 103.7L486.3 112.0L486.2 120.5L486.2 129.3L486.1 138.3L486.0 147.5L486.0 156.7L485.9 166.0L485.8 175.3L485.8 184.6L485.7 193.7L485.6 202.8L485.5 211.7L485.5 220.4L485.4 228.8L485.3 237.0L485.2 245.0L485.1 252.6L485.0 259.9L484.9 266.8L484.7 273.4L484.6 279.7L484.5 285.6L484.4 291.1L484.3 296.3L484.1 301.1L484.0 305.6L483.8 309.8L483.7 313.6L483.5 317.1L483.4 320.3L483.2 323.2L483.1 325.9L482.9 328.3L482.7 330.5L482.6 332.4L482.4 334.1L482.2 335.7L482.0 337.1L481.8 338.3L481.7 339.4L481.5 340.3L481.3 341.1L481.0 341.9L480.8 342.5L480.6 343.0L480.4 343.5L480.2 343.9L480.0 344.2L479.7 344.5L479.2 345.0L478.8 345.3L478.5 345.4L478.2 345.5L478.0 345.6L477.7 345.6L477.4 345.7L477.2 345.7L476.9 345.8L476.6 345.8L476.3 345.8L476.0 345.8L475.7 345.8L475.4 345.8L475.1 345.8L474.8 345.8L474.5 345.8L474.2 345.8L473.9 345.8L473.5 345.8L473.2 345.7L472.9 345.7L472.5 345.7L472.2 345.7L471.8 345.7L471.5 345.7L471.1 345.6L470.7 345.6L470.4 345.6L470.0 345.6L469.6 345.5L469.2 345.5L468.8 345.5L468.4 345.5L468.0 345.5L467.6 345.4L467.2 345.4L466.8 345.4L466.4 345.4L466.0 345.3L465.5 345.3L465.1 345.3L464.7 345.2L464.2 345.2L463.8 345.2L463.3 345.2L462.9 345.1L462.4 345.1L462.0 345.1L461.5 345.0L461.0 345.0L460.5 345.0L460.1 344.9L459.6 344.9L459.1 344.8L458.6 344.8L458.1 344.8L457.6 344.7L457.0 344.7L456.5 344.7L456.0 344.6L455.5 344.6L454.9 344.5L454.4 344.5L453.9 344.4L453.3 344.4L452.8 344.3L452.2 344.3L451.6 344.3L451.1 344.2L450.5 344.2L449.9 344.1L449.3 344.1L448.7 344.0L448.1 344.0L447.5 343.9L446.9 343.9L446.3 343.8L445.7 343.7L445.1 343.7L444.5 343.6L443.8 343.6L443.2 343.5L442.6 343.5L441.9 343.4L441.3 343.3L440.6 343.3L440.0 343.2L439.3 343.2L438.6 343.1L438.0 343.0L437.3 343.0L436.6 342.9L435.9 342.8L435.2 342.8L434.5 342.7L433.8 342.6L433.1 342.6L432.4 342.5L431.6 342.4L430.9 342.3L430.2 342.3L429.5 342.2L428.7 342.1L428.0 342.1L427.2 342.0L426.4 341.9L425.7 341.8L424.9 341.8L424.1 341.7L423.4 341.6L422.6 341.5L421.8 341.4L421.0 341.4L420.2 341.3L419.4 341.2L418.6 341.1L417.8 341.1L416.9 341.0L416.1 340.9L415.3 340.8L414.4 340.7L413.6 340.6L412.8 340.6L411.9 340.5L411.0 340.4L410.2 340.3L409.3 340.2L408.4 340.1L407.6 340.1L406.7 340.0L405.8 339.9L404.9 339.8L404.0 339.7L403.1 339.6L402.2 339.6L401.2 339.5L400.3 339.4L399.4 339.3L398.5 339.2L397.5 339.1L396.6 339.1L395.6 339.0L394.7 338.9L393.7 338.8L392.7 338.7L391.8 338.6L390.8 338.6L389.8 338.5L388.8 338.4L387.8 338.3L386.8 338.2L385.8 338.1L384.8 338.0L383.8 338.0L382.8 337.9L381.7 337.8L380.7 337.7L379.7 337.6L378.6 337.5L377.6 337.4L376.5 337.3L375.5 337.2L374.4 337.2L373.3 337.1L372.2 337.0L371.2 336.9L370.1 336.8L369.0 336.7L367.9 336.6L366.8 336.5L365.7 336.4L364.5 336.3L363.4 336.2L362.3 336.1L361.2 336.0L360.0 335.9L358.9 335.8L357.7 335.7L356.6 335.6L355.4 335.5L354.2 335.4L353.1 335.3L351.9 335.2L350.7 335.1L349.5 335.0L348.3 334.9L347.1 334.8L345.9 334.7L344.7 334.6L343.5 334.5L342.3 334.4L341.0 334.2L339.8 334.1L338.6 334.0L337.3 333.9L336.1 333.8L334.8 333.7L333.5 333.5L332.3 333.4L331.0 333.3L329.7 333.2L328.4 333.1L327.1 332.9L325.8 332.8L324.5 332.7L323.2 332.5L321.9 332.4L320.6 332.3L319.3 332.1L317.9 332.0L316.6 331.9L315.3 331.7L313.9 331.6L312.6 331.4L311.2 331.3L309.8 331.1L308.5 331.0L307.1 330.8L305.7 330.7L304.3 330.5L302.9 330.3L301.5 330.2L300.1 330.0L298.7 329.8L297.3 329.7L295.8 329.5L294.4 329.3L293.0 329.1L291.5 328.9L290.1 328.7L288.6 328.5L287.2 328.3L285.7 328.1L284.2 327.9L282.8 327.6L281.3 327.4L279.8 327.2L278.3 326.9L276.8 326.7L275.3 326.5L273.8 326.2L272.2 326.0L270.7 325.7L269.2 325.5L267.7 325.2L266.1 325.0L264.6 324.7L263.0 324.4L261.5 324.2L259.9 323.9L258.3 323.6L256.7 323.4L255.2 323.1L253.6 322.8L252.0 322.5L250.4 322.3L248.8 322.0L247.1 321.7L245.5 321.4L243.9 321.2L242.3 320.9L240.6 320.6L239.0 320.3L237.3 320.1L235.7 319.8L234.0 319.5L232.4 319.3L230.7 319.0L229.0 318.7L227.3 318.5L225.6 318.2L223.9 318.0L222.2 317.7L220.5 317.4L218.8 317.1L217.1 316.8L215.4 316.5L213.6 316.2L211.9 315.9L210.2 315.6L208.4 315.2L206.6 314.9L204.9 314.6L203.1 314.3L201.3 313.9L199.6 313.6L197.8 313.3L196.0 313.0L194.2 312.7L192.4 312.4L190.6 312.1L188.7 311.8L186.9 311.5L185.1 311.2L183.3 310.9L181.4 310.7L179.6 310.4L177.7 310.2L175.9 310.0L174.0 309.8L172.1 309.6L170.2 309.4L168.3 309.3L166.5 309.2L164.6 309.1L162.7 309.0L160.8 308.9L158.8 308.9L156.9 308.8L155.0 308.8L153.1 308.7L151.1 308.7L149.2 308.6L147.2 308.6L145.3 308.5L143.3 308.5L141.3 308.4L139.4 308.4L137.4 308.3L135.4 308.3L133.4 308.3L131.4 308.2L129.4 308.2L127.4 308.2L125.3 308.2L123.3 308.1L121.3 308.1L119.3 308.1L117.2 308.1L115.2 308.1L113.1 308.1" fill="none" stroke="#686868" stroke-width="1.5" stroke-linejoin="round"/>
<path d="M128.6 117.5a1.1 1.1 0 1 0 2.2 0a1.1 1.1 0 1 0 -2.2 0M141.6 114.0a1.1 1.1 0 1 0 2.2 0a1.1 1.1 0 1 0 -2.2 0M162.7 109.7a1.1 1.1 0 1 0 2.2 0a1.1 1.1 0 1 0 -2.2 0M170.7 107.3a1.1 1.1 0 1 0 2.2 0a1.1 1.1 0 1 0 -2.2 0M185.9 104.5a1.1 1.1 0 1 0 2.2 0a1.1 1.1 0 1 0 -2.2 0M201.1 101.5a1.1 1.1 0 1 0 2.2 0a1.1 1.1 0 1 0 -2.2 0M222.1 97.3a1.1 1.1 0 1 0 2.2 0a1.1 1.1 0 1 0 -2.2 0M237.5 94.7a1.1 1.1 0 1 0 2.2 0a1.1 1.1 0 1 0 -2.2 0M246.7 93.0a1.1 1.1 0 1 0 2.2 0a1.1 1.1 0 1 0 -2.2 0M265.1 89.4a1.1 1.1 0 1 0 2.2 0a1.1 1.1 0 1 0 -2.2 0M280.7 86.9a1.1 1.1 0 1 0 2.2 0a1.1 1.1 0 1 0 -2.2 0M297.1 83.2a1.1 1.1 0 1 0 2.2 0a1.1 1.1 0 1 0 -2.2 0M314.4 80.9a1.1 1.1 0 1 0 2.2 0a1.1 1.1 0 1 0 -2.2 0M326.4 78.1a1.1 1.1 0 1 0 2.2 0a1.1 1.1 0 1 0 -2.2 0M343.5 75.9a1.1 1.1 0 1 0 2.2 0a1.1 1.1 0 1 0 -2.2 0M364.6 71.8a1.1 1.1 0 1 0 2.2 0a1.1 1.1 0 1 0 -2.2 0M379.8 69.2a1.1 1.1 0 1 0 2.2 0a1.1 1.1 0 1 0 -2.2 0M388.5 66.8a1.1 1.1 0 1 0 2.2 0a1.1 1.1 0 1 0 -2.2 0M408.1 63.7a1.1 1.1 0 1 0 2.2 0a1.1 1.1 0 1 0 -2.2 0M420.9 60.7a1.1 1.1 0 1 0 2.2 0a1.1 1.1 0 1 0 -2.2 0M436.0 57.8a1.1 1.1 0 1 0 2.2 0a1.1 1.1 0 1 0 -2.2 0M449.4 54.2a1.1 1.1 0 1 0 2.2 0a1.1 1.1 0 1 0 -2.2 0M467.2 48.8a1.1 1.1 0 1 0 2.2 0a1.1 1.1 0 1 0 -2.2 0M128.3 308.0a1.1 1.1 0 1 0 2.2 0a1.1 1.1 0 1 0 -2.2 0M142.2 308.4a1.1 1.1 0 1 0 2.2 0a1.1 1.1 0 1 0 -2.2 0M155.8 308.5a1.1 1.1 0 1 0 2.2 0a1.1 1.1 0 1 0 -2.2 0M174.8 309.5a1.1 1.1 0 1 0 2.2 0a1.1 1.1 0 1 0 -2.2 0M189.5 311.9a1.1 1.1 0 1 0 2.2 0a1.1 1.1 0 1 0 -2.2 0M207.3 315.5a1.1 1.1 0 1 0 2.2 0a1.1 1.1 0 1 0 -2.2 0M222.8 318.2a1.1 1.1 0 1 0 2.2 0a1.1 1.1 0 1 0 -2.2 0M234.6 320.0a1.1 1.1 0 1 0 2.2 0a1.1 1.1 0 1 0 -2.2 0M250.9 322.6a1.1 1.1 0 1 0 2.2 0a1.1 1.1 0 1 0 -2.2 0M265.0 324.9a1.1 1.1 0 1 0 2.2 0a1.1 1.1 0 1 0 -2.2 0M278.7 326.9a1.1 1.1 0 1 0 2.2 0a1.1 1.1 0 1 0 -2.2 0M303.2 330.2a1.1 1.1 0 1 0 2.2 0a1.1 1.1 0 1 0 -2.2 0M315.5 332.0a1.1 1.1 0 1 0 2.2 0a1.1 1.1 0 1 0 -2.2 0M331.2 333.4a1.1 1.1 0 1 0 2.2 0a1.1 1.1 0 1 0 -2.2 0M344.8 334.2a1.1 1.1 0 1 0 2.2 0a1.1 1.1 0 1 0 -2.2 0M355.5 335.3a1.1 1.1 0 1 0 2.2 0a1.1 1.1 0 1 0 -2.2 0M372.2 336.6a1.1 1.1 0 1 0 2.2 0a1.1 1.1 0 1 0 -2.2 0M386.7 338.4a1.1 1.1 0 1 0 2.2 0a1.1 1.1 0 1 0 -2.2 0M402.9 340.3a1.1 1.1 0 1 0 2.2 0a1.1 1.1 0 1 0 -2.2 0M423.0 341.7a1.1 1.1 0 1 0 2.2 0a1.1 1.1 0 1 0 -2.2 0M438.9 342.9a1.1 1.1 0 1 0 2.2 0a1.1 1.1 0 1 0 -2.2 0M456.5 345.1a1.1 1.1 0 1 0 2.2 0a1.1 1.1 0 1 0 -2.2 0M470.0 345.6a1.1 1.1 0 1 0 2.2 0a1.1 1.1 0 1 0 -2.2 0" fill="#555"/>
<path d="M765.6 315.8L765.6 315.6L765.7 315.2L765.7 315.0L765.8 314.6L765.8 314.3L765.9 313.8L766.0 313.4L766.1 312.9L766.2 312.6L766.2 312.4L766.3 312.1L766.4 311.8L766.4 311.5L766.5 311.2L766.6 310.9L766.7 310.6L766.8 310.2L766.9 309.9L767.0 309.5L767.1 309.2L767.2 308.8L767.3 308.4L767.4 308.1L767.5 307.7L767.6 307.3L767.7 306.9L767.8 306.5L768.0 306.1L768.1 305.6L768.2 305.2L768.4 304.8L768.5 304.3L768.7 303.9L768.8 303.4L769.0 302.9L769.1 302.5L769.3 302.0L769.5 301.5L769.6 301.0L769.8 300.5L770.0 300.0L770.2 299.5L770.4 299.0L770.6 298.5L770.8 297.9L771.0 297.4L771.2 296.9L771.4 296.3L771.6 295.8L771.8 295.2L772.0 294.7L772.3 294.1L772.5 293.5L772.7 292.9L773.0 292.4L773.2 291.8L773.5 291.2L773.7 290.6L774.0 290.0L774.2 289.4L774.5 288.8L774.8 288.1L775.0 287.5L775.3 286.9L775.6 286.3L775.9 285.6L776.2 285.0L776.5 284.4L776.8 283.7L777.1 283.1L777.4 282.4L777.7 281.8L778.0 281.1L778.4 280.4L778.7 279.8L779.0 279.1L779.4 278.4L779.7 277.7L780.1 277.1L780.4 276.4L780.8 275.7L781.1 275.0L781.5 274.3L781.9 273.6L782.2 272.9L782.6 272.2L783.0 271.5L783.4 270.8L783.8 270.1L784.2 269.4L784.6 268.7L785.0 267.9L785.4 267.2L785.8 266.5L786.2 265.8L786.7 265.0L787.1 264.3L787.5 263.6L788.0 262.8L788.4 262.1L788.9 261.4L789.3 260.6L789.8 259.9L790.3 259.1L790.7 258.4L791.2 257.7L791.7 256.9L792.2 256.2L792.7 255.4L793.2 254.7L793.7 253.9L794.2 253.1L794.7 252.4L795.2 251.6L795.7 250.9L796.2 250.1L796.8 249.4L797.3 248.6L797.8 247.8L798.4 247.1L798.9 246.3L799.5 245.5L800.0 244.8L800.6 244.0L801.2 243.3L801.7 242.5L802.3 241.7L802.9 241.0L803.5 240.2L804.1 239.4L804.7 238.7L805.3 237.9L805.9 237.1L806.5 236.3L807.1 235.6L807.7 234.8L808.4 234.0L809.0 233.3L809.6 232.5L810.3 231.7L810.9 231.0L811.6 230.2L812.3 229.4L812.9 228.7L813.6 227.9L814.3 227.1L814.9 226.4L815.6 225.6L816.3 224.8L817.0 224.1L817.7 223.3L818.4 222.6L819.1 221.8L819.9 221.0L820.6 220.3L821.3 219.5L822.0 218.8L822.8 218.0L823.5 217.2L824.3 216.5L825.0 215.7L825.8 215.0L826.5 214.2L827.3 213.5L828.1 212.7L828.9 212.0L829.6 211.2L830.4 210.5L831.2 209.7L832.0 209.0L832.8 208.2L833.6 207.5L834.5 206.7L835.3 206.0L836.1 205.2L836.9 204.5L837.8 203.7L838.6 203.0L839.5 202.2L840.3 201.5L841.2 200.8L842.0 200.0L842.9 199.3L843.8 198.5L844.7 197.8L845.6 197.1L846.4 196.3L847.3 195.6L848.2 194.9L849.2 194.1L850.1 193.4L851.0 192.7L851.9 192.0L852.8 191.2L853.8 190.5L854.7 189.8L855.7 189.1L856.6 188.4L857.6 187.6L858.5 186.9L859.5 186.2L860.5 185.5L861.4 184.8L862.4 184.1L863.4 183.4L864.4 182.7L865.4 182.0L866.4 181.3L867.4 180.6L868.4 179.9L869.5 179.2L870.5 178.5L871.5 177.8L872.6 177.1L873.6 176.4L874.7 175.8L875.7 175.1L876.8 174.4L877.8 173.7L878.9 173.1L880.0 172.4L881.1 171.7L882.2 171.1L883.2 170.4L884.3 169.7L885.5 169.1L886.6 168.4L887.7 167.8L888.8 167.1L889.9 166.5L891.1 165.8L892.2 165.2L893.3 164.6L894.5 163.9L895.6 163.3L896.8 162.7L898.0 162.1L899.1 161.5L900.3 160.8L901.5 160.2L902.7 159.6L903.9 159.0L905.1 158.4L906.3 157.8L907.5 157.2L908.7 156.6L910.0 156.1L911.2 155.5L912.4 154.9L913.7 154.3L914.9 153.7L916.2 153.2L917.4 152.6L918.7 152.0L919.9 151.5L921.2 150.9L922.5 150.3L923.8 149.8L925.1 149.2L926.4 148.7L927.7 148.1L929.0 147.6L930.3 147.1L931.6 146.5L933.0 146.0L934.3 145.4L935.6 144.9L937.0 144.4L938.3 143.8L939.7 143.3L941.0 142.8L942.4 142.3L943.8 141.8L945.1 141.2L946.5 140.7L947.9 140.2L949.3 139.7L950.7 139.2L952.1 138.7L953.5 138.1L955.0 137.6L956.4 137.1L957.8 136.6L959.2 136.1L960.7 135.6L962.1 135.1L963.6 134.6L965.1 134.1L966.5 133.6L968.0 133.1L969.5 132.6L971.0 132.1L972.4 131.6L973.9 131.2L975.4 130.7L976.9 130.2L978.5 129.7L980.0 129.2L981.5 128.7L983.0 128.3L984.6 127.8L986.1 127.3L987.7 126.9L989.2 126.4L990.8 125.9L992.3 125.5L993.9 125.0L995.5 124.5L997.1 124.1L998.7 123.6L1000.2 123.2L1001.9 122.7L1003.5 122.3L1005.1 121.8L1006.7 121.4L1008.3 120.9L1009.9 120.5L1011.6 120.0L1013.2 119.6L1014.9 119.1L1016.5 118.7L1018.2 118.3L1019.9 117.8L1021.5 117.4L1023.2 117.0L1024.9 116.5L1026.6 116.1L1028.3 115.7L1030.0 115.2L1031.7 114.8L1033.4 114.4L1035.1 114.0L1036.9 113.5L1038.6 113.1L1040.3 112.7L1042.1 112.3L1043.8 111.9L1045.6 111.5L1047.3 111.0L1049.1 110.6L1050.9 110.2L1052.7 109.8L1054.5 109.4L1056.2 109.0L1058.0 108.6L1059.8 108.2L1061.7 107.8L1063.5 107.4L1065.3 107.0L1067.1 106.6L1069.0 106.2L1070.8 105.8L1072.7 105.4L1074.5 105.0L1076.4 104.6L1078.2 104.2L1080.1 103.8L1082.0 103.4L1083.9 103.0L1085.8 102.6L1087.7 102.2L1089.6 101.8L1091.5 101.4L1093.4 101.1L1095.3 100.7L1097.2 100.3L1099.2 99.9L1101.1 99.5L1103.0 99.1L1105.0 98.7L1107.0 98.4L1108.9 98.0L1110.9 97.6L1112.9 97.2L1114.9 96.8L1116.8 96.5L1118.8 96.1L1120.8 95.7L1122.8 95.3L1124.9 94.9L1126.9 94.6L1128.9 94.2L1130.9 93.8L1133.0 93.4L1135.0 93.1L1137.1 92.7L1139.1 92.3L1139.1 92.6L1139.0 92.9L1138.9 93.2L1138.8 93.5L1138.7 93.8L1138.6 94.2L1138.5 94.6L1138.3 95.0L1138.2 95.4L1138.0 95.9L1138.0 96.2L1137.9 96.5L1137.8 96.7L1137.7 97.0L1137.6 97.3L1137.5 97.6L1137.4 97.9L1137.2 98.2L1137.1 98.6L1137.0 98.9L1136.9 99.2L1136.8 99.6L1136.6 99.9L1136.5 100.3L1136.3 100.7L1136.2 101.1L1136.0 101.5L1135.9 101.9L1135.7 102.3L1135.6 102.7L1135.4 103.1L1135.2 103.5L1135.1 104.0L1134.9 104.4L1134.7 104.9L1134.5 105.3L1134.3 105.8L1134.2 106.3L1134.0 106.8L1133.8 107.3L1133.5 107.8L1133.3 108.3L1133.1 108.8L1132.9 109.3L1132.7 109.8L1132.5 110.4L1132.2 110.9L1132.0 111.5L1131.7 112.0L1131.5 112.6L1131.3 113.2L1131.0 113.8L1130.7 114.3L1130.5 114.9L1130.2 115.5L1129.9 116.1L1129.7 116.7L1129.4 117.4L1129.1 118.0L1128.8 118.6L1128.5 119.3L1128.2 119.9L1127.9 120.5L1127.6 121.2L1127.3 121.9L1127.0 122.5L1126.7 123.2L1126.4 123.9L1126.0 124.6L1125.7 125.3L1125.4 126.0L1125.0 126.7L1124.7 127.4L1124.3 128.1L1124.0 128.8L1123.6 129.5L1123.2 130.3L1122.9 131.0L1122.5 131.7L1122.1 132.5L1121.7 133.2L1121.3 134.0L1120.9 134.8L1120.5 135.5L1120.1 136.3L1119.7 137.1L1119.3 137.8L1118.9 138.6L1118.5 139.4L1118.0 140.2L1117.6 141.0L1117.2 141.8L1116.7 142.6L1116.3 143.4L1115.8 144.2L1115.4 145.1L1114.9 145.9L1114.5 146.7L1114.0 147.5L1113.5 148.4L1113.0 149.2L1112.6 150.1L1112.1 150.9L1111.6 151.7L1111.1 152.6L1110.6 153.5L1110.1 154.3L1109.5 155.2L1109.0 156.0L1108.5 156.9L1108.0 157.8L1107.4 158.6L1106.9 159.5L1106.4 160.4L1105.8 161.3L1105.3 162.2L1104.7 163.1L1104.1 163.9L1103.6 164.8L1103.0 165.7L1102.4 166.6L1101.8 167.5L1101.2 168.4L1100.6 169.3L1100.0 170.2L1099.4 171.1L1098.8 172.1L1098.2 173.0L1097.6 173.9L1097.0 174.8L1096.3 175.7L1095.7 176.6L1095.1 177.5L1094.4 178.5L1093.8 179.4L1093.1 180.3L1092.5 181.2L1091.8 182.1L1091.1 183.1L1090.5 184.0L1089.8 184.9L1089.1 185.8L1088.4 186.8L1087.7 187.7L1087.0 188.6L1086.3 189.5L1085.6 190.5L1084.9 191.4L1084.1 192.3L1083.4 193.3L1082.7 194.2L1082.0 195.1L1081.2 196.0L1080.5 197.0L1079.7 197.9L1078.9 198.8L1078.2 199.7L1077.4 200.7L1076.6 201.6L1075.9 202.5L1075.1 203.4L1074.3 204.4L1073.5 205.3L1072.7 206.2L1071.9 207.1L1071.1 208.0L1070.3 209.0L1069.4 209.9L1068.6 210.8L1067.8 211.7L1066.9 212.6L1066.1 213.5L1065.3 214.4L1064.4 215.3L1063.5 216.2L1062.7 217.1L1061.8 218.0L1060.9 218.9L1060.1 219.8L1059.2 220.7L1058.3 221.6L1057.4 222.5L1056.5 223.4L1055.6 224.2L1054.7 225.1L1053.7 226.0L1052.8 226.9L1051.9 227.7L1051.0 228.6L1050.0 229.5L1049.1 230.3L1048.1 231.2L1047.2 232.0L1046.2 232.9L1045.2 233.7L1044.3 234.6L1043.3 235.4L1042.3 236.2L1041.3 237.1L1040.3 237.9L1039.3 238.7L1038.3 239.5L1037.3 240.4L1036.3 241.2L1035.3 242.0L1034.2 242.8L1033.2 243.6L1032.2 244.4L1031.1 245.2L1030.1 246.0L1029.0 246.7L1028.0 247.5L1026.9 248.3L1025.8 249.1L1024.7 249.8L1023.7 250.6L1022.6 251.3L1021.5 252.1L1020.4 252.8L1019.3 253.6L1018.2 254.3L1017.0 255.1L1015.9 255.8L1014.8 256.5L1013.7 257.2L1012.5 257.9L1011.4 258.7L1010.2 259.4L1009.1 260.1L1007.9 260.8L1006.7 261.4L1005.6 262.1L1004.4 262.8L1003.2 263.5L1002.0 264.2L1000.8 264.8L999.6 265.5L998.4 266.1L997.2 266.8L996.0 267.4L994.8 268.1L993.5 268.7L992.3 269.4L991.1 270.0L989.8 270.6L988.6 271.2L987.3 271.8L986.0 272.5L984.8 273.1L983.5 273.7L982.2 274.3L980.9 274.8L979.6 275.4L978.3 276.0L977.0 276.6L975.7 277.2L974.4 277.7L973.1 278.3L971.8 278.9L970.4 279.4L969.1 280.0L967.8 280.5L966.4 281.1L965.1 281.6L963.7 282.1L962.3 282.7L961.0 283.2L959.6 283.7L958.2 284.2L956.8 284.7L955.4 285.2L954.0 285.8L952.6 286.3L951.2 286.7L949.8 287.2L948.3 287.7L946.9 288.2L945.5 288.7L944.0 289.1L942.6 289.6L941.1 290.0L939.7 290.5L938.2 290.9L936.7 291.4L935.3 291.8L933.8 292.2L932.3 292.7L930.8 293.1L929.3 293.5L927.8 293.9L926.3 294.3L924.7 294.7L923.2 295.1L921.7 295.4L920.2 295.8L918.6 296.2L917.1 296.6L915.5 296.9L914.0 297.3L912.4 297.6L910.8 298.0L909.2 298.3L907.7 298.7L906.1 299.0L904.5 299.3L902.9 299.6L901.3 300.0L899.6 300.3L898.0 300.6L896.4 300.9L894.8 301.2L893.1 301.4L891.5 301.7L889.8 302.0L888.2 302.3L886.5 302.5L884.9 302.8L883.2 303.1L881.5 303.3L879.8 303.6L878.1 303.8L876.4 304.1L874.7 304.3L873.0 304.5L871.3 304.7L869.6 305.0L867.9 305.2L866.1 305.4L864.4 305.6L862.7 305.8L860.9 306.0L859.1 306.2L857.4 306.4L855.6 306.6L853.8 306.7L852.1 306.9L850.3 307.1L848.5 307.2L846.7 307.4L844.9 307.6L843.1 307.7L841.2 307.9L839.4 308.0L837.6 308.1L835.8 308.3L833.9 308.4L832.1 308.4L830.2 308.5L828.4 308.6L826.5 308.6L824.6 308.6L822.7 308.7L820.8 308.7L819.0 308.7L817.1 308.8L815.2 308.8L813.3 308.9L811.3 308.9L809.4 309.0L807.5 309.1L805.6 309.3L803.6 309.4L801.7 309.6L799.7 309.8L797.8 310.1L795.8 310.4L793.8 310.6L791.9 310.9L789.9 311.2L787.9 311.5L785.9 311.8L783.9 312.2L781.9 312.5L779.9 312.9L777.8 313.2L775.8 313.6L773.8 314.0L771.8 314.4L769.7 314.9L767.7 315.3L765.6 315.8" fill="none" stroke="#bcbcbc" stroke-width="1.5" stroke-linejoin="round"/>
<path d="M765.6 315.8L765.6 315.5L765.7 315.2L765.7 314.9L765.8 314.4L765.9 314.0L765.9 313.7L766.0 313.4L766.0 313.1L766.1 312.8L766.1 312.5L766.2 312.1L766.2 311.7L766.3 311.3L766.4 310.9L766.4 310.5L766.5 310.0L766.6 309.6L766.7 309.1L766.8 308.6L766.9 308.1L767.0 307.5L767.1 307.0L767.2 306.4L767.3 305.8L767.4 305.2L767.5 304.6L767.6 303.9L767.7 303.2L767.8 302.6L768.0 301.9L768.1 301.2L768.2 300.4L768.4 299.7L768.5 298.9L768.7 298.1L768.8 297.4L769.0 296.5L769.1 295.7L769.3 294.9L769.5 294.0L769.6 293.2L769.8 292.3L770.0 291.4L770.2 290.5L770.4 289.5L770.6 288.6L770.8 287.6L771.0 286.7L771.2 285.7L771.4 284.7L771.6 283.7L771.8 282.7L772.0 281.7L772.3 280.6L772.5 279.6L772.7 278.5L773.0 277.4L773.2 276.3L773.5 275.2L773.7 274.1L774.0 273.0L774.2 271.9L774.5 270.8L774.8 269.6L775.0 268.5L775.3 267.3L775.6 266.1L775.9 264.9L776.2 263.8L776.5 262.6L776.8 261.4L777.1 260.2L777.4 258.9L777.7 257.7L778.0 256.5L778.4 255.3L778.7 254.0L779.0 252.8L779.4 251.5L779.7 250.3L780.1 249.0L780.4 247.8L780.8 246.5L781.1 245.3L781.5 244.0L781.9 242.7L782.2 241.5L782.6 240.2L783.0 238.9L783.4 237.6L783.8 236.3L784.2 235.1L784.6 233.8L785.0 232.5L785.4 231.2L785.8 229.9L786.2 228.7L786.7 227.4L787.1 226.1L787.5 224.8L788.0 223.5L788.4 222.3L788.9 221.0L789.3 219.7L789.8 218.5L790.3 217.2L790.7 215.9L791.2 214.7L791.7 213.4L792.2 212.2L792.7 210.9L793.2 209.7L793.7 208.4L794.2 207.2L794.7 205.9L795.2 204.7L795.7 203.5L796.2 202.3L796.8 201.1L797.3 199.9L797.8 198.7L798.4 197.5L798.9 196.3L799.5 195.1L800.0 193.9L800.6 192.7L801.2 191.6L801.7 190.4L802.3 189.3L802.9 188.1L803.5 187.0L804.1 185.9L804.7 184.7L805.3 183.6L805.9 182.5L806.5 181.4L807.1 180.3L807.7 179.2L808.4 178.2L809.0 177.1L809.6 176.0L810.3 175.0L810.9 174.0L811.6 172.9L812.3 171.9L812.9 170.9L813.6 169.9L814.3 168.9L814.9 167.9L815.6 166.9L816.3 165.9L817.0 165.0L817.7 164.0L818.4 163.1L819.1 162.1L819.9 161.2L820.6 160.3L821.3 159.4L822.0 158.5L822.8 157.6L823.5 156.7L824.3 155.8L825.0 155.0L825.8 154.1L826.5 153.3L827.3 152.4L828.1 151.6L828.9 150.8L829.6 150.0L830.4 149.1L831.2 148.3L832.0 147.6L832.8 146.8L833.6 146.0L834.5 145.2L835.3 144.5L836.1 143.7L836.9 143.0L837.8 142.3L838.6 141.5L839.5 140.8L840.3 140.1L841.2 139.4L842.0 138.7L842.9 138.0L843.8 137.4L844.7 136.7L845.6 136.0L846.4 135.4L847.3 134.7L848.2 134.1L849.2 133.4L850.1 132.8L851.0 132.2L851.9 131.6L852.8 131.0L853.8 130.4L854.7 129.8L855.7 129.2L856.6 128.6L857.6 128.1L858.5 127.5L859.5 127.0L860.5 126.4L861.4 125.9L862.4 125.3L863.4 124.8L864.4 124.3L865.4 123.8L866.4 123.3L867.4 122.8L868.4 122.3L869.5 121.8L870.5 121.3L871.5 120.8L872.6 120.4L873.6 119.9L874.7 119.4L875.7 119.0L876.8 118.5L877.8 118.1L878.9 117.7L880.0 117.2L881.1 116.8L882.2 116.4L883.2 116.0L884.3 115.6L885.5 115.2L886.6 114.8L887.7 114.4L888.8 114.0L889.9 113.7L891.1 113.3L892.2 112.9L893.3 112.6L894.5 112.2L895.6 111.9L896.8 111.5L898.0 111.2L899.1 110.9L900.3 110.6L901.5 110.2L902.7 109.9L903.9 109.6L905.1 109.3L906.3 109.0L907.5 108.7L908.7 108.4L910.0 108.1L911.2 107.8L912.4 107.6L913.7 107.3L914.9 107.0L916.2 106.7L917.4 106.5L918.7 106.2L919.9 106.0L921.2 105.7L922.5 105.5L923.8 105.2L925.1 105.0L926.4 104.7L927.7 104.5L929.0 104.2L930.3 104.0L931.6 103.7L933.0 103.5L934.3 103.3L935.6 103.1L937.0 102.8L938.3 102.6L939.7 102.4L941.0 102.1L942.4 101.9L943.8 101.7L945.1 101.5L946.5 101.2L947.9 101.0L949.3 100.8L950.7 100.6L952.1 100.4L953.5 100.1L955.0 99.9L956.4 99.7L957.8 99.5L959.2 99.3L960.7 99.0L962.1 98.8L963.6 98.6L965.1 98.4L966.5 98.2L968.0 97.9L969.5 97.7L971.0 97.5L972.4 97.3L973.9 97.1L975.4 96.8L976.9 96.6L978.5 96.4L980.0 96.2L981.5 96.0L983.0 95.8L984.6 95.6L986.1 95.3L987.7 95.1L989.2 94.9L990.8 94.7L992.3 94.5L993.9 94.3L995.5 94.1L997.1 93.8L998.7 93.6L1000.2 93.4L1001.9 93.2L1003.5 93.0L1005.1 92.8L1006.7 92.5L1008.3 92.3L1009.9 92.1L1011.6 91.9L1013.2 91.7L1014.9 91.5L1016.5 91.2L1018.2 91.0L1019.9 90.8L1021.5 90.6L1023.2 90.4L1024.9 90.1L1026.6 89.9L1028.3 89.7L1030.0 89.5L1031.7 89.3L1033.4 89.0L1035.1 88.8L1036.9 88.6L1038.6 88.4L1040.3 88.1L1042.1 87.9L1043.8 87.7L1045.6 87.5L1047.3 87.2L1049.1 87.0L1050.9 86.8L1052.7 86.5L1054.5 86.3L1056.2 86.1L1058.0 85.8L1059.8 85.6L1061.7 85.4L1063.5 85.1L1065.3 84.9L1067.1 84.7L1069.0 84.4L1070.8 84.2L1072.7 83.9L1074.5 83.7L1076.4 83.5L1078.2 83.2L1080.1 83.0L1082.0 82.7L1083.9 82.5L1085.8 82.2L1087.7 82.0L1089.6 81.7L1091.5 81.5L1093.4 81.2L1095.3 81.0L1097.2 80.7L1099.2 80.5L1101.1 80.2L1103.0 80.0L1105.0 79.7L1107.0 79.4L1108.9 79.2L1110.9 78.9L1112.9 78.7L1114.9 78.4L1116.8 78.1L1118.8 77.9L1120.8 77.6L1122.8 77.3L1124.9 77.1L1126.9 76.8L1128.9 76.5L1130.9 76.3L1133.0 76.0L1135.0 75.7L1137.1 75.4L1139.1 75.2L1139.1 75.5L1139.1 75.7L1139.0 76.1L1139.0 76.5L1138.9 77.0L1138.8 77.3L1138.8 77.6L1138.8 77.9L1138.7 78.3L1138.7 78.6L1138.6 79.0L1138.5 79.4L1138.5 79.9L1138.4 80.3L1138.3 80.8L1138.3 81.3L1138.2 81.8L1138.1 82.4L1138.0 82.9L1138.0 83.5L1137.9 84.1L1137.8 84.7L1137.7 85.4L1137.6 86.0L1137.5 86.7L1137.4 87.4L1137.2 88.2L1137.1 88.9L1137.0 89.7L1136.9 90.5L1136.8 91.3L1136.6 92.1L1136.5 92.9L1136.3 93.8L1136.2 94.7L1136.0 95.6L1135.9 96.5L1135.7 97.4L1135.6 98.4L1135.4 99.4L1135.2 100.4L1135.1 101.4L1134.9 102.4L1134.7 103.4L1134.5 104.5L1134.3 105.6L1134.2 106.7L1134.0 107.8L1133.8 108.9L1133.5 110.1L1133.3 111.2L1133.1 112.4L1132.9 113.6L1132.7 114.8L1132.5 116.0L1132.2 117.2L1132.0 118.5L1131.7 119.8L1131.5 121.0L1131.3 122.3L1131.0 123.6L1130.7 124.9L1130.5 126.3L1130.2 127.6L1129.9 128.9L1129.7 130.3L1129.4 131.7L1129.1 133.0L1128.8 134.4L1128.5 135.8L1128.2 137.3L1127.9 138.7L1127.6 140.1L1127.3 141.5L1127.0 143.0L1126.7 144.4L1126.4 145.9L1126.0 147.4L1125.7 148.9L1125.4 150.3L1125.0 151.8L1124.7 153.3L1124.3 154.8L1124.0 156.3L1123.6 157.9L1123.2 159.4L1122.9 160.9L1122.5 162.4L1122.1 164.0L1121.7 165.5L1121.3 167.0L1120.9 168.6L1120.5 170.1L1120.1 171.7L1119.7 173.2L1119.3 174.8L1118.9 176.3L1118.5 177.9L1118.0 179.4L1117.6 181.0L1117.2 182.6L1116.7 184.1L1116.3 185.7L1115.8 187.2L1115.4 188.8L1114.9 190.3L1114.5 191.9L1114.0 193.5L1113.5 195.0L1113.0 196.5L1112.6 198.1L1112.1 199.6L1111.6 201.2L1111.1 202.7L1110.6 204.2L1110.1 205.8L1109.5 207.3L1109.0 208.8L1108.5 210.3L1108.0 211.9L1107.4 213.4L1106.9 214.9L1106.4 216.4L1105.8 217.9L1105.3 219.3L1104.7 220.8L1104.1 222.3L1103.6 223.8L1103.0 225.2L1102.4 226.7L1101.8 228.1L1101.2 229.6L1100.6 231.0L1100.0 232.4L1099.4 233.8L1098.8 235.2L1098.2 236.6L1097.6 238.0L1097.0 239.4L1096.3 240.8L1095.7 242.2L1095.1 243.5L1094.4 244.9L1093.8 246.2L1093.1 247.5L1092.5 248.8L1091.8 250.1L1091.1 251.4L1090.5 252.7L1089.8 254.0L1089.1 255.2L1088.4 256.5L1087.7 257.7L1087.0 259.0L1086.3 260.2L1085.6 261.4L1084.9 262.6L1084.1 263.8L1083.4 265.0L1082.7 266.1L1082.0 267.3L1081.2 268.4L1080.5 269.6L1079.7 270.7L1078.9 271.8L1078.2 272.9L1077.4 274.0L1076.6 275.0L1075.9 276.1L1075.1 277.1L1074.3 278.2L1073.5 279.2L1072.7 280.2L1071.9 281.2L1071.1 282.2L1070.3 283.2L1069.4 284.1L1068.6 285.1L1067.8 286.0L1066.9 287.0L1066.1 287.9L1065.3 288.8L1064.4 289.7L1063.5 290.5L1062.7 291.4L1061.8 292.2L1060.9 293.1L1060.1 293.9L1059.2 294.7L1058.3 295.5L1057.4 296.3L1056.5 297.1L1055.6 297.8L1054.7 298.6L1053.7 299.3L1052.8 300.0L1051.9 300.7L1051.0 301.4L1050.0 302.1L1049.1 302.8L1048.1 303.4L1047.2 304.1L1046.2 304.7L1045.2 305.3L1044.3 305.9L1043.3 306.5L1042.3 307.1L1041.3 307.7L1040.3 308.3L1039.3 308.8L1038.3 309.4L1037.3 309.9L1036.3 310.4L1035.3 310.9L1034.2 311.4L1033.2 311.9L1032.2 312.4L1031.1 312.8L1030.1 313.3L1029.0 313.7L1028.0 314.1L1026.9 314.6L1025.8 315.0L1024.7 315.4L1023.7 315.7L1022.6 316.1L1021.5 316.5L1020.4 316.9L1019.3 317.2L1018.2 317.5L1017.0 317.9L1015.9 318.2L1014.8 318.5L1013.7 318.8L1012.5 319.1L1011.4 319.4L1010.2 319.7L1009.1 320.0L1007.9 320.3L1006.7 320.5L1005.6 320.8L1004.4 321.0L1003.2 321.3L1002.0 321.5L1000.8 321.7L999.6 321.9L998.4 322.1L997.2 322.3L996.0 322.5L994.8 322.7L993.5 322.9L992.3 323.1L991.1 323.3L989.8 323.4L988.6 323.6L987.3 323.8L986.0 323.9L984.8 324.1L983.5 324.2L982.2 324.3L980.9 324.5L979.6 324.6L978.3 324.7L977.0 324.8L975.7 324.9L974.4 325.0L973.1 325.1L971.8 325.2L970.4 325.3L969.1 325.4L967.8 325.5L966.4 325.6L965.1 325.6L963.7 325.7L962.3 325.8L961.0 325.9L959.6 325.9L958.2 326.0L956.8 326.0L955.4 326.1L954.0 326.1L952.6 326.2L951.2 326.2L949.8 326.2L948.3 326.2L946.9 326.3L945.5 326.3L944.0 326.3L942.6 326.3L941.1 326.3L939.7 326.3L938.2 326.3L936.7 326.2L935.3 326.2L933.8 326.2L932.3 326.2L930.8 326.1L929.3 326.1L927.8 326.0L926.3 326.0L924.7 325.9L923.2 325.8L921.7 325.8L920.2 325.7L918.6 325.6L917.1 325.5L915.5 325.4L914.0 325.4L912.4 325.2L910.8 325.1L909.2 325.0L907.7 324.9L906.1 324.8L904.5 324.7L902.9 324.6L901.3 324.4L899.6 324.3L898.0 324.2L896.4 324.0L894.8 323.9L893.1 323.8L891.5 323.6L889.8 323.5L888.2 323.3L886.5 323.2L884.9 323.1L883.2 322.9L881.5 322.7L879.8 322.6L878.1 322.4L876.4 322.3L874.7 322.1L873.0 322.0L871.3 321.8L869.6 321.6L867.9 321.5L866.1 321.3L864.4 321.1L862.7 320.9L860.9 320.8L859.1 320.6L857.4 320.4L855.6 320.2L853.8 320.0L852.1 319.9L850.3 319.7L848.5 319.5L846.7 319.3L844.9 319.1L843.1 318.9L841.2 318.7L839.4 318.6L837.6 318.4L835.8 318.1L833.9 317.9L832.1 317.7L830.2 317.4L828.4 317.2L826.5 316.9L824.6 316.6L822.7 316.3L820.8 316.0L819.0 315.8L817.1 315.5L815.2 315.3L813.3 315.0L811.3 314.8L809.4 314.6L807.5 314.4L805.6 314.3L803.6 314.1L801.7 314.1L799.7 314.0L797.8 314.0L795.8 314.0L793.8 314.0L791.9 314.1L789.9 314.1L787.9 314.2L785.9 314.2L783.9 314.3L781.9 314.4L779.9 314.5L777.8 314.6L775.8 314.8L773.8 314.9L771.8 315.1L769.7 315.3L767.7 315.6L765.6 315.8" fill="none" stroke="#efc08e" stroke-width="1.5" stroke-linejoin="round"/>
<path d="M765.6 315.8L765.6 315.6L765.7 315.3L765.7 314.9L765.7 314.4L765.8 314.1L765.8 313.7L765.8 313.3L765.9 312.9L765.9 312.5L766.0 312.0L766.0 311.5L766.1 311.0L766.1 310.4L766.2 309.8L766.2 309.2L766.3 308.5L766.4 307.8L766.4 307.1L766.5 306.3L766.6 305.5L766.7 304.7L766.8 303.8L766.9 302.9L767.0 302.0L767.1 301.1L767.2 300.1L767.3 299.0L767.4 298.0L767.5 296.9L767.6 295.8L767.7 294.6L767.8 293.5L768.0 292.3L768.1 291.0L768.2 289.8L768.4 288.5L768.5 287.2L768.7 285.8L768.8 284.5L769.0 283.1L769.1 281.7L769.3 280.2L769.5 278.8L769.6 277.3L769.8 275.8L770.0 274.2L770.2 272.7L770.4 271.1L770.6 269.6L770.8 268.0L771.0 266.3L771.2 264.7L771.4 263.0L771.6 261.4L771.8 259.7L772.0 258.0L772.3 256.3L772.5 254.6L772.7 252.9L773.0 251.1L773.2 249.4L773.5 247.6L773.7 245.8L774.0 244.1L774.2 242.3L774.5 240.5L774.8 238.7L775.0 236.9L775.3 235.1L775.6 233.4L775.9 231.6L776.2 229.8L776.5 228.0L776.8 226.2L777.1 224.4L777.4 222.6L777.7 220.8L778.0 219.0L778.4 217.2L778.7 215.5L779.0 213.7L779.4 211.9L779.7 210.2L780.1 208.4L780.4 206.7L780.8 205.0L781.1 203.3L781.5 201.6L781.9 199.9L782.2 198.2L782.6 196.5L783.0 194.8L783.4 193.2L783.8 191.6L784.2 190.0L784.6 188.3L785.0 186.8L785.4 185.2L785.8 183.6L786.2 182.1L786.7 180.6L787.1 179.1L787.5 177.6L788.0 176.1L788.4 174.6L788.9 173.2L789.3 171.8L789.8 170.4L790.3 169.0L790.7 167.6L791.2 166.3L791.7 164.9L792.2 163.6L792.7 162.3L793.2 161.1L793.7 159.8L794.2 158.6L794.7 157.4L795.2 156.2L795.7 155.0L796.2 153.9L796.8 152.7L797.3 151.6L797.8 150.5L798.4 149.5L798.9 148.4L799.5 147.4L800.0 146.3L800.6 145.3L801.2 144.4L801.7 143.4L802.3 142.5L802.9 141.5L803.5 140.6L804.1 139.8L804.7 138.9L805.3 138.0L805.9 137.2L806.5 136.4L807.1 135.6L807.7 134.8L808.4 134.1L809.0 133.3L809.6 132.6L810.3 131.9L810.9 131.2L811.6 130.5L812.3 129.8L812.9 129.2L813.6 128.5L814.3 127.9L814.9 127.3L815.6 126.7L816.3 126.1L817.0 125.6L817.7 125.0L818.4 124.5L819.1 123.9L819.9 123.4L820.6 122.9L821.3 122.4L822.0 121.9L822.8 121.5L823.5 121.0L824.3 120.6L825.0 120.1L825.8 119.7L826.5 119.3L827.3 118.9L828.1 118.5L828.9 118.1L829.6 117.7L830.4 117.3L831.2 116.9L832.0 116.6L832.8 116.2L833.6 115.9L834.5 115.5L835.3 115.2L836.1 114.9L836.9 114.5L837.8 114.2L838.6 113.9L839.5 113.6L840.3 113.3L841.2 113.0L842.0 112.7L842.9 112.4L843.8 112.1L844.7 111.9L845.6 111.6L846.4 111.3L847.3 111.1L848.2 110.8L849.2 110.5L850.1 110.3L851.0 110.0L851.9 109.8L852.8 109.5L853.8 109.3L854.7 109.0L855.7 108.8L856.6 108.6L857.6 108.3L858.5 108.1L859.5 107.9L860.5 107.7L861.4 107.4L862.4 107.2L863.4 107.0L864.4 106.8L865.4 106.6L866.4 106.4L867.4 106.1L868.4 105.9L869.5 105.7L870.5 105.5L871.5 105.3L872.6 105.1L873.6 104.9L874.7 104.7L875.7 104.5L876.8 104.3L877.8 104.1L878.9 103.9L880.0 103.7L881.1 103.5L882.2 103.3L883.2 103.1L884.3 103.0L885.5 102.8L886.6 102.6L887.7 102.4L888.8 102.2L889.9 102.0L891.1 101.9L892.2 101.7L893.3 101.5L894.5 101.3L895.6 101.2L896.8 101.0L898.0 100.8L899.1 100.6L900.3 100.5L901.5 100.3L902.7 100.1L903.9 100.0L905.1 99.8L906.3 99.6L907.5 99.5L908.7 99.3L910.0 99.2L911.2 99.0L912.4 98.8L913.7 98.7L914.9 98.5L916.2 98.4L917.4 98.2L918.7 98.0L919.9 97.9L921.2 97.7L922.5 97.6L923.8 97.4L925.1 97.2L926.4 97.1L927.7 96.9L929.0 96.8L930.3 96.6L931.6 96.4L933.0 96.3L934.3 96.1L935.6 95.9L937.0 95.8L938.3 95.6L939.7 95.4L941.0 95.3L942.4 95.1L943.8 94.9L945.1 94.8L946.5 94.6L947.9 94.4L949.3 94.2L950.7 94.1L952.1 93.9L953.5 93.7L955.0 93.5L956.4 93.3L957.8 93.1L959.2 92.9L960.7 92.8L962.1 92.6L963.6 92.4L965.1 92.2L966.5 92.0L968.0 91.8L969.5 91.6L971.0 91.4L972.4 91.2L973.9 91.0L975.4 90.8L976.9 90.6L978.5 90.4L980.0 90.2L981.5 90.0L983.0 89.8L984.6 89.6L986.1 89.4L987.7 89.2L989.2 89.0L990.8 88.7L992.3 88.5L993.9 88.3L995.5 88.1L997.1 87.9L998.7 87.7L1000.2 87.5L1001.9 87.3L1003.5 87.0L1005.1 86.8L1006.7 86.6L1008.3 86.4L1009.9 86.2L1011.6 85.9L1013.2 85.7L1014.9 85.5L1016.5 85.3L1018.2 85.0L1019.9 84.8L1021.5 84.6L1023.2 84.3L1024.9 84.1L1026.6 83.9L1028.3 83.7L1030.0 83.4L1031.7 83.2L1033.4 82.9L1035.1 82.7L1036.9 82.5L1038.6 82.2L1040.3 82.0L1042.1 81.8L1043.8 81.5L1045.6 81.3L1047.3 81.0L1049.1 80.8L1050.9 80.5L1052.7 80.3L1054.5 80.0L1056.2 79.8L1058.0 79.5L1059.8 79.3L1061.7 79.0L1063.5 78.8L1065.3 78.5L1067.1 78.3L1069.0 78.0L1070.8 77.7L1072.7 77.5L1074.5 77.2L1076.4 77.0L1078.2 76.7L1080.1 76.4L1082.0 76.2L1083.9 75.9L1085.8 75.6L1087.7 75.3L1089.6 75.1L1091.5 74.8L1093.4 74.5L1095.3 74.3L1097.2 74.0L1099.2 73.7L1101.1 73.4L1103.0 73.1L1105.0 72.9L1107.0 72.6L1108.9 72.3L1110.9 72.0L1112.9 71.7L1114.9 71.4L1116.8 71.1L1118.8 70.8L1120.8 70.6L1122.8 70.3L1124.9 70.0L1126.9 69.7L1128.9 69.4L1130.9 69.1L1133.0 68.8L1135.0 68.5L1137.1 68.2L1139.1 67.9L1139.1 68.2L1139.1 68.6L1139.0 69.1L1139.0 69.4L1139.0 69.8L1139.0 70.2L1138.9 70.6L1138.9 71.1L1138.8 71.6L1138.8 72.2L1138.8 72.8L1138.7 73.4L1138.7 74.1L1138.6 74.9L1138.5 75.6L1138.5 76.5L1138.4 77.3L1138.3 78.2L1138.3 79.2L1138.2 80.2L1138.1 81.2L1138.0 82.3L1138.0 83.5L1137.9 84.6L1137.8 85.8L1137.7 87.1L1137.6 88.4L1137.5 89.7L1137.4 91.1L1137.2 92.5L1137.1 94.0L1137.0 95.5L1136.9 97.0L1136.8 98.6L1136.6 100.2L1136.5 101.8L1136.3 103.5L1136.2 105.2L1136.0 106.9L1135.9 108.7L1135.7 110.5L1135.6 112.4L1135.4 114.3L1135.2 116.2L1135.1 118.1L1134.9 120.1L1134.7 122.1L1134.5 124.1L1134.3 126.1L1134.2 128.2L1134.0 130.3L1133.8 132.4L1133.5 134.5L1133.3 136.7L1133.1 138.9L1132.9 141.1L1132.7 143.3L1132.5 145.5L1132.2 147.8L1132.0 150.0L1131.7 152.3L1131.5 154.6L1131.3 156.9L1131.0 159.2L1130.7 161.5L1130.5 163.8L1130.2 166.2L1129.9 168.5L1129.7 170.9L1129.4 173.2L1129.1 175.6L1128.8 177.9L1128.5 180.3L1128.2 182.6L1127.9 185.0L1127.6 187.3L1127.3 189.7L1127.0 192.0L1126.7 194.4L1126.4 196.7L1126.0 199.1L1125.7 201.4L1125.4 203.7L1125.0 206.0L1124.7 208.3L1124.3 210.6L1124.0 212.8L1123.6 215.1L1123.2 217.4L1122.9 219.6L1122.5 221.8L1122.1 224.0L1121.7 226.2L1121.3 228.4L1120.9 230.5L1120.5 232.7L1120.1 234.8L1119.7 236.9L1119.3 238.9L1118.9 241.0L1118.5 243.0L1118.0 245.0L1117.6 247.0L1117.2 249.0L1116.7 251.0L1116.3 252.9L1115.8 254.8L1115.4 256.7L1114.9 258.5L1114.5 260.3L1114.0 262.1L1113.5 263.9L1113.0 265.7L1112.6 267.4L1112.1 269.1L1111.6 270.8L1111.1 272.4L1110.6 274.0L1110.1 275.6L1109.5 277.2L1109.0 278.8L1108.5 280.3L1108.0 281.8L1107.4 283.2L1106.9 284.7L1106.4 286.1L1105.8 287.5L1105.3 288.8L1104.7 290.2L1104.1 291.5L1103.6 292.7L1103.0 294.0L1102.4 295.2L1101.8 296.4L1101.2 297.6L1100.6 298.8L1100.0 299.9L1099.4 301.0L1098.8 302.1L1098.2 303.1L1097.6 304.1L1097.0 305.1L1096.3 306.1L1095.7 307.1L1095.1 308.0L1094.4 308.9L1093.8 309.8L1093.1 310.6L1092.5 311.5L1091.8 312.3L1091.1 313.1L1090.5 313.9L1089.8 314.6L1089.1 315.3L1088.4 316.0L1087.7 316.7L1087.0 317.4L1086.3 318.0L1085.6 318.7L1084.9 319.3L1084.1 319.8L1083.4 320.4L1082.7 321.0L1082.0 321.5L1081.2 322.0L1080.5 322.5L1079.7 323.0L1078.9 323.5L1078.2 323.9L1077.4 324.3L1076.6 324.8L1075.9 325.2L1075.1 325.6L1074.3 325.9L1073.5 326.3L1072.7 326.7L1071.9 327.0L1071.1 327.3L1070.3 327.6L1069.4 327.9L1068.6 328.2L1067.8 328.5L1066.9 328.7L1066.1 329.0L1065.3 329.2L1064.4 329.4L1063.5 329.6L1062.7 329.8L1061.8 330.0L1060.9 330.2L1060.1 330.4L1059.2 330.5L1058.3 330.7L1057.4 330.8L1056.5 331.0L1055.6 331.1L1054.7 331.2L1053.7 331.3L1052.8 331.4L1051.9 331.5L1051.0 331.6L1050.0 331.7L1049.1 331.7L1048.1 331.8L1047.2 331.8L1046.2 331.9L1045.2 331.9L1044.3 331.9L1043.3 332.0L1042.3 332.0L1041.3 332.0L1040.3 332.0L1039.3 332.0L1038.3 332.0L1037.3 332.0L1036.3 332.0L1035.3 332.0L1034.2 332.0L1033.2 331.9L1032.2 331.9L1031.1 331.9L1030.1 331.8L1029.0 331.8L1028.0 331.7L1026.9 331.7L1025.8 331.6L1024.7 331.6L1023.7 331.5L1022.6 331.4L1021.5 331.4L1020.4 331.3L1019.3 331.3L1018.2 331.2L1017.0 331.2L1015.9 331.1L1014.8 331.0L1013.7 331.0L1012.5 330.9L1011.4 330.9L1010.2 330.8L1009.1 330.8L1007.9 330.7L1006.7 330.7L1005.6 330.6L1004.4 330.6L1003.2 330.5L1002.0 330.5L1000.8 330.4L999.6 330.4L998.4 330.4L997.2 330.3L996.0 330.3L994.8 330.2L993.5 330.2L992.3 330.2L991.1 330.1L989.8 330.1L988.6 330.1L987.3 330.0L986.0 330.0L984.8 330.0L983.5 330.0L982.2 329.9L980.9 329.9L979.6 329.9L978.3 329.9L977.0 329.8L975.7 329.8L974.4 329.8L973.1 329.8L971.8 329.8L970.4 329.7L969.1 329.7L967.8 329.7L966.4 329.7L965.1 329.7L963.7 329.7L962.3 329.6L961.0 329.6L959.6 329.6L958.2 329.6L956.8 329.6L955.4 329.6L954.0 329.5L952.6 329.5L951.2 329.5L949.8 329.5L948.3 329.4L946.9 329.4L945.5 329.4L944.0 329.3L942.6 329.3L941.1 329.2L939.7 329.2L938.2 329.1L936.7 329.1L935.3 329.0L933.8 328.9L932.3 328.9L930.8 328.8L929.3 328.7L927.8 328.6L926.3 328.5L924.7 328.4L923.2 328.3L921.7 328.2L920.2 328.0L918.6 327.9L917.1 327.8L915.5 327.6L914.0 327.4L912.4 327.3L910.8 327.1L909.2 326.9L907.7 326.8L906.1 326.6L904.5 326.4L902.9 326.2L901.3 326.0L899.6 325.9L898.0 325.7L896.4 325.5L894.8 325.3L893.1 325.1L891.5 324.9L889.8 324.7L888.2 324.5L886.5 324.4L884.9 324.2L883.2 324.0L881.5 323.8L879.8 323.6L878.1 323.4L876.4 323.2L874.7 323.0L873.0 322.8L871.3 322.6L869.6 322.4L867.9 322.2L866.1 322.0L864.4 321.8L862.7 321.6L860.9 321.4L859.1 321.2L857.4 321.0L855.6 320.8L853.8 320.6L852.1 320.4L850.3 320.2L848.5 320.0L846.7 319.8L844.9 319.6L843.1 319.3L841.2 319.1L839.4 318.9L837.6 318.7L835.8 318.5L833.9 318.2L832.1 318.0L830.2 317.7L828.4 317.4L826.5 317.1L824.6 316.8L822.7 316.6L820.8 316.3L819.0 316.0L817.1 315.7L815.2 315.4L813.3 315.2L811.3 315.0L809.4 314.7L807.5 314.6L805.6 314.4L803.6 314.3L801.7 314.2L799.7 314.1L797.8 314.1L795.8 314.1L793.8 314.1L791.9 314.1L789.9 314.2L787.9 314.2L785.9 314.3L783.9 314.4L781.9 314.4L779.9 314.5L777.8 314.7L775.8 314.8L773.8 315.0L771.8 315.1L769.7 315.3L767.7 315.6L765.6 315.8" fill="none" stroke="#7ca47c" stroke-width="1.5" stroke-linejoin="round"/>
<path d="M765.6 315.8L765.6 315.5L765.6 315.1L765.7 314.8L765.7 314.4L765.7 314.0L765.7 313.5L765.7 313.0L765.8 312.4L765.8 311.7L765.8 311.0L765.9 310.2L765.9 309.4L766.0 308.5L766.0 307.5L766.1 306.5L766.1 305.4L766.2 304.3L766.2 303.1L766.3 301.8L766.4 300.5L766.4 299.1L766.5 297.7L766.6 296.2L766.7 294.7L766.8 293.1L766.9 291.4L767.0 289.7L767.1 288.0L767.2 286.2L767.3 284.3L767.4 282.5L767.5 280.5L767.6 278.6L767.7 276.5L767.8 274.5L768.0 272.4L768.1 270.3L768.2 268.1L768.4 265.9L768.5 263.7L768.7 261.4L768.8 259.2L769.0 256.9L769.1 254.6L769.3 252.2L769.5 249.9L769.6 247.5L769.8 245.1L770.0 242.7L770.2 240.3L770.4 237.9L770.6 235.5L770.8 233.1L771.0 230.7L771.2 228.2L771.4 225.8L771.6 223.4L771.8 221.0L772.0 218.6L772.3 216.2L772.5 213.8L772.7 211.5L773.0 209.1L773.2 206.8L773.5 204.4L773.7 202.1L774.0 199.9L774.2 197.6L774.5 195.4L774.8 193.2L775.0 191.0L775.3 188.8L775.6 186.7L775.9 184.6L776.2 182.5L776.5 180.5L776.8 178.5L777.1 176.5L777.4 174.5L777.7 172.6L778.0 170.7L778.4 168.9L778.7 167.1L779.0 165.3L779.4 163.6L779.7 161.9L780.1 160.2L780.4 158.6L780.8 157.0L781.1 155.4L781.5 153.9L781.9 152.4L782.2 151.0L782.6 149.6L783.0 148.2L783.4 146.8L783.8 145.5L784.2 144.3L784.6 143.0L785.0 141.8L785.4 140.7L785.8 139.5L786.2 138.4L786.7 137.4L787.1 136.3L787.5 135.3L788.0 134.4L788.4 133.4L788.9 132.5L789.3 131.6L789.8 130.8L790.3 129.9L790.7 129.1L791.2 128.4L791.7 127.6L792.2 126.9L792.7 126.2L793.2 125.5L793.7 124.9L794.2 124.3L794.7 123.7L795.2 123.1L795.7 122.5L796.2 122.0L796.8 121.5L797.3 121.0L797.8 120.5L798.4 120.0L798.9 119.6L799.5 119.1L800.0 118.7L800.6 118.3L801.2 117.9L801.7 117.5L802.3 117.2L802.9 116.8L803.5 116.5L804.1 116.2L804.7 115.8L805.3 115.5L805.9 115.2L806.5 115.0L807.1 114.7L807.7 114.4L808.4 114.2L809.0 113.9L809.6 113.7L810.3 113.4L810.9 113.2L811.6 113.0L812.3 112.8L812.9 112.6L813.6 112.4L814.3 112.2L814.9 112.0L815.6 111.8L816.3 111.6L817.0 111.4L817.7 111.2L818.4 111.0L819.1 110.9L819.9 110.7L820.6 110.5L821.3 110.4L822.0 110.2L822.8 110.0L823.5 109.9L824.3 109.7L825.0 109.6L825.8 109.4L826.5 109.2L827.3 109.1L828.1 108.9L828.9 108.8L829.6 108.6L830.4 108.5L831.2 108.3L832.0 108.2L832.8 108.0L833.6 107.9L834.5 107.7L835.3 107.5L836.1 107.4L836.9 107.2L837.8 107.1L838.6 106.9L839.5 106.7L840.3 106.6L841.2 106.4L842.0 106.3L842.9 106.1L843.8 105.9L844.7 105.8L845.6 105.6L846.4 105.4L847.3 105.3L848.2 105.1L849.2 104.9L850.1 104.8L851.0 104.6L851.9 104.4L852.8 104.3L853.8 104.1L854.7 103.9L855.7 103.7L856.6 103.6L857.6 103.4L858.5 103.2L859.5 103.0L860.5 102.8L861.4 102.7L862.4 102.5L863.4 102.3L864.4 102.1L865.4 101.9L866.4 101.8L867.4 101.6L868.4 101.4L869.5 101.2L870.5 101.0L871.5 100.8L872.6 100.7L873.6 100.5L874.7 100.3L875.7 100.1L876.8 99.9L877.8 99.7L878.9 99.5L880.0 99.4L881.1 99.2L882.2 99.0L883.2 98.8L884.3 98.6L885.5 98.4L886.6 98.2L887.7 98.1L888.8 97.9L889.9 97.7L891.1 97.5L892.2 97.3L893.3 97.2L894.5 97.0L895.6 96.8L896.8 96.6L898.0 96.4L899.1 96.3L900.3 96.1L901.5 95.9L902.7 95.7L903.9 95.6L905.1 95.4L906.3 95.2L907.5 95.0L908.7 94.9L910.0 94.7L911.2 94.5L912.4 94.3L913.7 94.2L914.9 94.0L916.2 93.8L917.4 93.6L918.7 93.5L919.9 93.3L921.2 93.1L922.5 92.9L923.8 92.8L925.1 92.6L926.4 92.4L927.7 92.2L929.0 92.0L930.3 91.9L931.6 91.7L933.0 91.5L934.3 91.3L935.6 91.1L937.0 91.0L938.3 90.8L939.7 90.6L941.0 90.4L942.4 90.2L943.8 90.0L945.1 89.8L946.5 89.6L947.9 89.4L949.3 89.3L950.7 89.1L952.1 88.9L953.5 88.7L955.0 88.5L956.4 88.2L957.8 88.0L959.2 87.8L960.7 87.6L962.1 87.4L963.6 87.2L965.1 87.0L966.5 86.8L968.0 86.5L969.5 86.3L971.0 86.1L972.4 85.9L973.9 85.7L975.4 85.4L976.9 85.2L978.5 85.0L980.0 84.8L981.5 84.5L983.0 84.3L984.6 84.1L986.1 83.9L987.7 83.6L989.2 83.4L990.8 83.2L992.3 82.9L993.9 82.7L995.5 82.5L997.1 82.2L998.7 82.0L1000.2 81.8L1001.9 81.5L1003.5 81.3L1005.1 81.0L1006.7 80.8L1008.3 80.5L1009.9 80.3L1011.6 80.1L1013.2 79.8L1014.9 79.6L1016.5 79.3L1018.2 79.1L1019.9 78.8L1021.5 78.6L1023.2 78.3L1024.9 78.0L1026.6 77.8L1028.3 77.5L1030.0 77.3L1031.7 77.0L1033.4 76.8L1035.1 76.5L1036.9 76.2L1038.6 76.0L1040.3 75.7L1042.1 75.4L1043.8 75.2L1045.6 74.9L1047.3 74.6L1049.1 74.4L1050.9 74.1L1052.7 73.8L1054.5 73.5L1056.2 73.3L1058.0 73.0L1059.8 72.7L1061.7 72.4L1063.5 72.1L1065.3 71.9L1067.1 71.6L1069.0 71.3L1070.8 71.0L1072.7 70.7L1074.5 70.4L1076.4 70.1L1078.2 69.8L1080.1 69.6L1082.0 69.3L1083.9 69.0L1085.8 68.7L1087.7 68.4L1089.6 68.1L1091.5 67.8L1093.4 67.5L1095.3 67.2L1097.2 66.9L1099.2 66.6L1101.1 66.2L1103.0 65.9L1105.0 65.6L1107.0 65.3L1108.9 65.0L1110.9 64.7L1112.9 64.4L1114.9 64.1L1116.8 63.7L1118.8 63.4L1120.8 63.1L1122.8 62.8L1124.9 62.4L1126.9 62.1L1128.9 61.8L1130.9 61.5L1133.0 61.1L1135.0 60.8L1137.1 60.5L1139.1 60.1L1139.1 60.5L1139.1 61.0L1139.1 61.4L1139.1 61.8L1139.0 62.3L1139.0 62.9L1139.0 63.5L1139.0 64.2L1138.9 65.0L1138.9 65.8L1138.8 66.8L1138.8 67.8L1138.8 68.8L1138.7 70.0L1138.7 71.2L1138.6 72.5L1138.5 73.9L1138.5 75.3L1138.4 76.8L1138.3 78.4L1138.3 80.1L1138.2 81.8L1138.1 83.6L1138.0 85.4L1138.0 87.4L1137.9 89.4L1137.8 91.4L1137.7 93.5L1137.6 95.7L1137.5 98.0L1137.4 100.3L1137.2 102.6L1137.1 105.0L1137.0 107.5L1136.9 110.0L1136.8 112.6L1136.6 115.2L1136.5 117.9L1136.3 120.6L1136.2 123.4L1136.0 126.1L1135.9 129.0L1135.7 131.8L1135.6 134.7L1135.4 137.7L1135.2 140.6L1135.1 143.6L1134.9 146.6L1134.7 149.7L1134.5 152.7L1134.3 155.8L1134.2 158.9L1134.0 162.0L1133.8 165.1L1133.5 168.2L1133.3 171.3L1133.1 174.4L1132.9 177.6L1132.7 180.7L1132.5 183.8L1132.2 187.0L1132.0 190.1L1131.7 193.2L1131.5 196.3L1131.3 199.4L1131.0 202.4L1130.7 205.5L1130.5 208.5L1130.2 211.6L1129.9 214.5L1129.7 217.5L1129.4 220.5L1129.1 223.4L1128.8 226.3L1128.5 229.2L1128.2 232.0L1127.9 234.8L1127.6 237.6L1127.3 240.3L1127.0 243.0L1126.7 245.7L1126.4 248.3L1126.0 250.9L1125.7 253.4L1125.4 255.9L1125.0 258.4L1124.7 260.8L1124.3 263.2L1124.0 265.5L1123.6 267.8L1123.2 270.1L1122.9 272.3L1122.5 274.5L1122.1 276.6L1121.7 278.6L1121.3 280.7L1120.9 282.7L1120.5 284.6L1120.1 286.5L1119.7 288.3L1119.3 290.2L1118.9 291.9L1118.5 293.6L1118.0 295.3L1117.6 296.9L1117.2 298.5L1116.7 300.1L1116.3 301.6L1115.8 303.0L1115.4 304.4L1114.9 305.8L1114.5 307.1L1114.0 308.4L1113.5 309.7L1113.0 310.9L1112.6 312.0L1112.1 313.2L1111.6 314.3L1111.1 315.3L1110.6 316.4L1110.1 317.4L1109.5 318.3L1109.0 319.2L1108.5 320.1L1108.0 321.0L1107.4 321.8L1106.9 322.6L1106.4 323.4L1105.8 324.1L1105.3 324.8L1104.7 325.5L1104.1 326.1L1103.6 326.8L1103.0 327.4L1102.4 327.9L1101.8 328.5L1101.2 329.0L1100.6 329.5L1100.0 330.0L1099.4 330.5L1098.8 330.9L1098.2 331.4L1097.6 331.8L1097.0 332.1L1096.3 332.5L1095.7 332.9L1095.1 333.2L1094.4 333.5L1093.8 333.8L1093.1 334.1L1092.5 334.3L1091.8 334.6L1091.1 334.8L1090.5 335.1L1089.8 335.3L1089.1 335.5L1088.4 335.7L1087.7 335.9L1087.0 336.0L1086.3 336.2L1085.6 336.3L1084.9 336.5L1084.1 336.6L1083.4 336.7L1082.7 336.8L1082.0 336.9L1081.2 337.0L1080.5 337.1L1079.7 337.2L1078.9 337.3L1078.2 337.4L1077.4 337.4L1076.6 337.5L1075.9 337.5L1075.1 337.6L1074.3 337.6L1073.5 337.7L1072.7 337.7L1071.9 337.7L1071.1 337.8L1070.3 337.8L1069.4 337.8L1068.6 337.8L1067.8 337.8L1066.9 337.8L1066.1 337.8L1065.3 337.8L1064.4 337.8L1063.5 337.8L1062.7 337.8L1061.8 337.8L1060.9 337.8L1060.1 337.7L1059.2 337.7L1058.3 337.7L1057.4 337.7L1056.5 337.6L1055.6 337.6L1054.7 337.5L1053.7 337.5L1052.8 337.5L1051.9 337.4L1051.0 337.4L1050.0 337.3L1049.1 337.2L1048.1 337.2L1047.2 337.1L1046.2 337.1L1045.2 337.0L1044.3 336.9L1043.3 336.9L1042.3 336.8L1041.3 336.7L1040.3 336.6L1039.3 336.6L1038.3 336.5L1037.3 336.4L1036.3 336.3L1035.3 336.2L1034.2 336.2L1033.2 336.1L1032.2 336.0L1031.1 335.9L1030.1 335.8L1029.0 335.7L1028.0 335.6L1026.9 335.5L1025.8 335.4L1024.7 335.3L1023.7 335.2L1022.6 335.1L1021.5 335.0L1020.4 334.9L1019.3 334.8L1018.2 334.7L1017.0 334.6L1015.9 334.5L1014.8 334.4L1013.7 334.3L1012.5 334.2L1011.4 334.1L1010.2 334.0L1009.1 333.9L1007.9 333.8L1006.7 333.8L1005.6 333.7L1004.4 333.6L1003.2 333.5L1002.0 333.4L1000.8 333.3L999.6 333.2L998.4 333.1L997.2 333.0L996.0 333.0L994.8 332.9L993.5 332.8L992.3 332.7L991.1 332.6L989.8 332.5L988.6 332.4L987.3 332.4L986.0 332.3L984.8 332.2L983.5 332.1L982.2 332.0L980.9 332.0L979.6 331.9L978.3 331.8L977.0 331.7L975.7 331.7L974.4 331.6L973.1 331.5L971.8 331.4L970.4 331.4L969.1 331.3L967.8 331.2L966.4 331.1L965.1 331.1L963.7 331.0L962.3 330.9L961.0 330.9L959.6 330.8L958.2 330.7L956.8 330.6L955.4 330.6L954.0 330.5L952.6 330.4L951.2 330.4L949.8 330.3L948.3 330.2L946.9 330.1L945.5 330.0L944.0 329.9L942.6 329.8L941.1 329.7L939.7 329.7L938.2 329.6L936.7 329.4L935.3 329.3L933.8 329.2L932.3 329.1L930.8 329.0L929.3 328.9L927.8 328.8L926.3 328.6L924.7 328.5L923.2 328.4L921.7 328.2L920.2 328.1L918.6 327.9L917.1 327.8L915.5 327.6L914.0 327.5L912.4 327.3L910.8 327.1L909.2 326.9L907.7 326.8L906.1 326.6L904.5 326.4L902.9 326.2L901.3 326.0L899.6 325.9L898.0 325.7L896.4 325.5L894.8 325.3L893.1 325.1L891.5 324.9L889.8 324.7L888.2 324.5L886.5 324.4L884.9 324.2L883.2 324.0L881.5 323.8L879.8 323.6L878.1 323.4L876.4 323.2L874.7 323.0L873.0 322.8L871.3 322.6L869.6 322.4L867.9 322.2L866.1 322.0L864.4 321.8L862.7 321.6L860.9 321.4L859.1 321.2L857.4 321.0L855.6 320.8L853.8 320.6L852.1 320.4L850.3 320.2L848.5 320.0L846.7 319.8L844.9 319.6L843.1 319.3L841.2 319.1L839.4 318.9L837.6 318.7L835.8 318.5L833.9 318.2L832.1 318.0L830.2 317.7L828.4 317.4L826.5 317.1L824.6 316.8L822.7 316.6L820.8 316.3L819.0 316.0L817.1 315.7L815.2 315.4L813.3 315.2L811.3 315.0L809.4 314.7L807.5 314.6L805.6 314.4L803.6 314.3L801.7 314.2L799.7 314.1L797.8 314.1L795.8 314.1L793.8 314.1L791.9 314.1L789.9 314.2L787.9 314.2L785.9 314.3L783.9 314.4L781.9 314.4L779.9 314.5L777.8 314.7L775.8 314.8L773.8 315.0L771.8 315.1L769.7 315.3L767.7 315.6L765.6 315.8" fill="none" stroke="#807cca" stroke-width="1.5" stroke-linejoin="round"/>
<path d="M765.6 315.8L765.6 315.4L765.6 315.1L765.6 314.6L765.6 314.1L765.7 313.4L765.7 312.5L765.7 311.5L765.7 310.5L765.7 309.2L765.8 307.9L765.8 306.4L765.8 304.7L765.9 303.0L765.9 301.1L766.0 299.1L766.0 296.9L766.1 294.7L766.1 292.3L766.2 289.8L766.2 287.2L766.3 284.5L766.4 281.8L766.4 278.9L766.5 275.9L766.6 272.8L766.7 269.7L766.8 266.5L766.9 263.2L767.0 259.9L767.1 256.5L767.2 253.1L767.3 249.7L767.4 246.2L767.5 242.6L767.6 239.1L767.7 235.6L767.8 232.0L768.0 228.4L768.1 224.9L768.2 221.4L768.4 217.8L768.5 214.3L768.7 210.9L768.8 207.4L769.0 204.0L769.1 200.7L769.3 197.4L769.5 194.1L769.6 190.9L769.8 187.7L770.0 184.7L770.2 181.6L770.4 178.7L770.6 175.8L770.8 173.0L771.0 170.3L771.2 167.6L771.4 165.0L771.6 162.5L771.8 160.1L772.0 157.8L772.3 155.5L772.5 153.3L772.7 151.2L773.0 149.2L773.2 147.2L773.5 145.3L773.7 143.6L774.0 141.8L774.2 140.2L774.5 138.6L774.8 137.1L775.0 135.7L775.3 134.3L775.6 133.0L775.9 131.8L776.2 130.6L776.5 129.5L776.8 128.5L777.1 127.5L777.4 126.5L777.7 125.6L778.0 124.8L778.4 124.0L778.7 123.2L779.0 122.5L779.4 121.9L779.7 121.2L780.1 120.6L780.4 120.1L780.8 119.6L781.1 119.1L781.5 118.6L781.9 118.2L782.2 117.8L782.6 117.4L783.0 117.0L783.4 116.7L783.8 116.4L784.2 116.1L784.6 115.8L785.0 115.5L785.4 115.2L785.8 115.0L786.2 114.8L786.7 114.6L787.1 114.3L787.5 114.1L788.0 114.0L788.4 113.8L788.9 113.6L789.3 113.4L789.8 113.3L790.3 113.1L790.7 113.0L791.2 112.8L791.7 112.7L792.2 112.5L792.7 112.4L793.2 112.3L793.7 112.1L794.2 112.0L794.7 111.9L795.2 111.8L795.7 111.6L796.2 111.5L796.8 111.4L797.3 111.3L797.8 111.2L798.4 111.0L798.9 110.9L799.5 110.8L800.0 110.7L800.6 110.6L801.2 110.5L801.7 110.4L802.3 110.2L802.9 110.1L803.5 110.0L804.1 109.9L804.7 109.8L805.3 109.7L805.9 109.5L806.5 109.4L807.1 109.3L807.7 109.2L808.4 109.1L809.0 108.9L809.6 108.8L810.3 108.7L810.9 108.6L811.6 108.5L812.3 108.3L812.9 108.2L813.6 108.1L814.3 108.0L814.9 107.8L815.6 107.7L816.3 107.6L817.0 107.5L817.7 107.3L818.4 107.2L819.1 107.1L819.9 106.9L820.6 106.8L821.3 106.7L822.0 106.5L822.8 106.4L823.5 106.3L824.3 106.1L825.0 106.0L825.8 105.9L826.5 105.7L827.3 105.6L828.1 105.4L828.9 105.3L829.6 105.1L830.4 105.0L831.2 104.9L832.0 104.7L832.8 104.6L833.6 104.4L834.5 104.2L835.3 104.1L836.1 103.9L836.9 103.8L837.8 103.6L838.6 103.4L839.5 103.3L840.3 103.1L841.2 102.9L842.0 102.8L842.9 102.6L843.8 102.4L844.7 102.3L845.6 102.1L846.4 101.9L847.3 101.7L848.2 101.6L849.2 101.4L850.1 101.2L851.0 101.0L851.9 100.8L852.8 100.7L853.8 100.5L854.7 100.3L855.7 100.1L856.6 99.9L857.6 99.7L858.5 99.5L859.5 99.3L860.5 99.1L861.4 99.0L862.4 98.8L863.4 98.6L864.4 98.4L865.4 98.2L866.4 98.0L867.4 97.8L868.4 97.6L869.5 97.4L870.5 97.2L871.5 97.0L872.6 96.8L873.6 96.6L874.7 96.4L875.7 96.2L876.8 96.0L877.8 95.8L878.9 95.6L880.0 95.4L881.1 95.2L882.2 95.0L883.2 94.8L884.3 94.6L885.5 94.4L886.6 94.2L887.7 94.0L888.8 93.8L889.9 93.6L891.1 93.4L892.2 93.2L893.3 93.0L894.5 92.8L895.6 92.6L896.8 92.4L898.0 92.2L899.1 92.0L900.3 91.8L901.5 91.6L902.7 91.4L903.9 91.2L905.1 91.0L906.3 90.8L907.5 90.7L908.7 90.5L910.0 90.3L911.2 90.1L912.4 89.9L913.7 89.7L914.9 89.5L916.2 89.3L917.4 89.1L918.7 88.9L919.9 88.7L921.2 88.5L922.5 88.3L923.8 88.1L925.1 88.0L926.4 87.8L927.7 87.6L929.0 87.4L930.3 87.2L931.6 87.0L933.0 86.8L934.3 86.6L935.6 86.4L937.0 86.2L938.3 86.0L939.7 85.8L941.0 85.5L942.4 85.3L943.8 85.1L945.1 84.9L946.5 84.7L947.9 84.5L949.3 84.3L950.7 84.1L952.1 83.8L953.5 83.6L955.0 83.4L956.4 83.2L957.8 82.9L959.2 82.7L960.7 82.5L962.1 82.2L963.6 82.0L965.1 81.8L966.5 81.5L968.0 81.3L969.5 81.1L971.0 80.8L972.4 80.6L973.9 80.3L975.4 80.1L976.9 79.8L978.5 79.6L980.0 79.4L981.5 79.1L983.0 78.9L984.6 78.6L986.1 78.4L987.7 78.1L989.2 77.8L990.8 77.6L992.3 77.3L993.9 77.1L995.5 76.8L997.1 76.6L998.7 76.3L1000.2 76.0L1001.9 75.8L1003.5 75.5L1005.1 75.3L1006.7 75.0L1008.3 74.7L1009.9 74.4L1011.6 74.2L1013.2 73.9L1014.9 73.6L1016.5 73.4L1018.2 73.1L1019.9 72.8L1021.5 72.5L1023.2 72.3L1024.9 72.0L1026.6 71.7L1028.3 71.4L1030.0 71.1L1031.7 70.8L1033.4 70.6L1035.1 70.3L1036.9 70.0L1038.6 69.7L1040.3 69.4L1042.1 69.1L1043.8 68.8L1045.6 68.5L1047.3 68.2L1049.1 67.9L1050.9 67.6L1052.7 67.3L1054.5 67.0L1056.2 66.7L1058.0 66.4L1059.8 66.1L1061.7 65.8L1063.5 65.5L1065.3 65.2L1067.1 64.9L1069.0 64.6L1070.8 64.3L1072.7 64.0L1074.5 63.6L1076.4 63.3L1078.2 63.0L1080.1 62.7L1082.0 62.4L1083.9 62.0L1085.8 61.7L1087.7 61.4L1089.6 61.1L1091.5 60.7L1093.4 60.4L1095.3 60.1L1097.2 59.7L1099.2 59.4L1101.1 59.1L1103.0 58.7L1105.0 58.4L1107.0 58.1L1108.9 57.7L1110.9 57.4L1112.9 57.0L1114.9 56.7L1116.8 56.3L1118.8 56.0L1120.8 55.6L1122.8 55.3L1124.9 54.9L1126.9 54.6L1128.9 54.2L1130.9 53.9L1133.0 53.5L1135.0 53.1L1137.1 52.8L1139.1 52.4L1139.1 52.8L1139.1 53.3L1139.1 54.0L1139.1 54.8L1139.1 55.8L1139.1 57.1L1139.1 58.4L1139.0 60.0L1139.0 61.7L1139.0 63.6L1139.0 65.7L1138.9 67.9L1138.9 70.3L1138.8 72.8L1138.8 75.5L1138.8 78.3L1138.7 81.2L1138.7 84.3L1138.6 87.5L1138.5 90.8L1138.5 94.2L1138.4 97.7L1138.3 101.4L1138.3 105.1L1138.2 108.9L1138.1 112.8L1138.0 116.8L1138.0 120.8L1137.9 124.9L1137.8 129.1L1137.7 133.3L1137.6 137.5L1137.5 141.8L1137.4 146.1L1137.2 150.5L1137.1 154.9L1137.0 159.2L1136.9 163.6L1136.8 168.0L1136.6 172.4L1136.5 176.8L1136.3 181.2L1136.2 185.5L1136.0 189.8L1135.9 194.1L1135.7 198.4L1135.6 202.6L1135.4 206.8L1135.2 211.0L1135.1 215.1L1134.9 219.1L1134.7 223.1L1134.5 227.0L1134.3 230.9L1134.2 234.7L1134.0 238.5L1133.8 242.1L1133.5 245.8L1133.3 249.3L1133.1 252.7L1132.9 256.1L1132.7 259.4L1132.5 262.7L1132.2 265.8L1132.0 268.9L1131.7 271.9L1131.5 274.8L1131.3 277.6L1131.0 280.4L1130.7 283.1L1130.5 285.7L1130.2 288.2L1129.9 290.6L1129.7 293.0L1129.4 295.3L1129.1 297.5L1128.8 299.6L1128.5 301.7L1128.2 303.6L1127.9 305.5L1127.6 307.4L1127.3 309.1L1127.0 310.8L1126.7 312.5L1126.4 314.0L1126.0 315.5L1125.7 317.0L1125.4 318.4L1125.0 319.7L1124.7 320.9L1124.3 322.1L1124.0 323.3L1123.6 324.4L1123.2 325.4L1122.9 326.4L1122.5 327.4L1122.1 328.3L1121.7 329.1L1121.3 330.0L1120.9 330.7L1120.5 331.5L1120.1 332.2L1119.7 332.8L1119.3 333.4L1118.9 334.0L1118.5 334.6L1118.0 335.1L1117.6 335.6L1117.2 336.1L1116.7 336.5L1116.3 337.0L1115.8 337.4L1115.4 337.7L1114.9 338.1L1114.5 338.4L1114.0 338.7L1113.5 339.0L1113.0 339.3L1112.6 339.5L1112.1 339.8L1111.6 340.0L1111.1 340.2L1110.6 340.4L1110.1 340.6L1109.5 340.7L1109.0 340.9L1108.5 341.0L1108.0 341.2L1107.4 341.3L1106.9 341.4L1106.4 341.5L1105.8 341.6L1105.3 341.7L1104.7 341.8L1104.1 341.9L1103.6 342.0L1103.0 342.0L1102.4 342.1L1101.8 342.2L1101.2 342.2L1100.6 342.3L1100.0 342.3L1099.4 342.4L1098.8 342.4L1098.2 342.4L1097.6 342.5L1097.0 342.5L1096.3 342.5L1095.7 342.6L1095.1 342.6L1094.4 342.6L1093.8 342.6L1093.1 342.6L1092.5 342.6L1091.8 342.6L1091.1 342.6L1090.5 342.7L1089.8 342.7L1089.1 342.7L1088.4 342.7L1087.7 342.6L1087.0 342.6L1086.3 342.6L1085.6 342.6L1084.9 342.6L1084.1 342.6L1083.4 342.6L1082.7 342.6L1082.0 342.6L1081.2 342.6L1080.5 342.5L1079.7 342.5L1078.9 342.5L1078.2 342.5L1077.4 342.5L1076.6 342.5L1075.9 342.4L1075.1 342.4L1074.3 342.4L1073.5 342.4L1072.7 342.4L1071.9 342.3L1071.1 342.3L1070.3 342.3L1069.4 342.3L1068.6 342.2L1067.8 342.2L1066.9 342.2L1066.1 342.1L1065.3 342.1L1064.4 342.1L1063.5 342.0L1062.7 342.0L1061.8 342.0L1060.9 341.9L1060.1 341.9L1059.2 341.8L1058.3 341.8L1057.4 341.7L1056.5 341.7L1055.6 341.6L1054.7 341.6L1053.7 341.5L1052.8 341.5L1051.9 341.4L1051.0 341.3L1050.0 341.3L1049.1 341.2L1048.1 341.1L1047.2 341.1L1046.2 341.0L1045.2 340.9L1044.3 340.9L1043.3 340.8L1042.3 340.7L1041.3 340.6L1040.3 340.6L1039.3 340.5L1038.3 340.4L1037.3 340.3L1036.3 340.2L1035.3 340.1L1034.2 340.0L1033.2 340.0L1032.2 339.9L1031.1 339.8L1030.1 339.7L1029.0 339.6L1028.0 339.5L1026.9 339.4L1025.8 339.3L1024.7 339.2L1023.7 339.1L1022.6 339.0L1021.5 338.9L1020.4 338.8L1019.3 338.6L1018.2 338.5L1017.0 338.4L1015.9 338.3L1014.8 338.2L1013.7 338.1L1012.5 338.0L1011.4 337.8L1010.2 337.7L1009.1 337.6L1007.9 337.5L1006.7 337.3L1005.6 337.2L1004.4 337.1L1003.2 337.0L1002.0 336.8L1000.8 336.7L999.6 336.6L998.4 336.4L997.2 336.3L996.0 336.2L994.8 336.0L993.5 335.9L992.3 335.8L991.1 335.6L989.8 335.5L988.6 335.4L987.3 335.2L986.0 335.1L984.8 334.9L983.5 334.8L982.2 334.7L980.9 334.5L979.6 334.4L978.3 334.2L977.0 334.1L975.7 333.9L974.4 333.8L973.1 333.7L971.8 333.5L970.4 333.4L969.1 333.2L967.8 333.1L966.4 333.0L965.1 332.8L963.7 332.7L962.3 332.5L961.0 332.4L959.6 332.3L958.2 332.1L956.8 332.0L955.4 331.8L954.0 331.7L952.6 331.6L951.2 331.4L949.8 331.3L948.3 331.1L946.9 331.0L945.5 330.8L944.0 330.7L942.6 330.5L941.1 330.4L939.7 330.2L938.2 330.1L936.7 329.9L935.3 329.8L933.8 329.6L932.3 329.5L930.8 329.3L929.3 329.1L927.8 329.0L926.3 328.8L924.7 328.6L923.2 328.5L921.7 328.3L920.2 328.1L918.6 328.0L917.1 327.8L915.5 327.6L914.0 327.5L912.4 327.3L910.8 327.1L909.2 326.9L907.7 326.8L906.1 326.6L904.5 326.4L902.9 326.2L901.3 326.0L899.6 325.9L898.0 325.7L896.4 325.5L894.8 325.3L893.1 325.1L891.5 324.9L889.8 324.7L888.2 324.5L886.5 324.4L884.9 324.2L883.2 324.0L881.5 323.8L879.8 323.6L878.1 323.4L876.4 323.2L874.7 323.0L873.0 322.8L871.3 322.6L869.6 322.4L867.9 322.2L866.1 322.0L864.4 321.8L862.7 321.6L860.9 321.4L859.1 321.2L857.4 321.0L855.6 320.8L853.8 320.6L852.1 320.4L850.3 320.2L848.5 320.0L846.7 319.8L844.9 319.6L843.1 319.3L841.2 319.1L839.4 318.9L837.6 318.7L835.8 318.5L833.9 318.2L832.1 318.0L830.2 317.7L828.4 317.4L826.5 317.1L824.6 316.8L822.7 316.6L820.8 316.3L819.0 316.0L817.1 315.7L815.2 315.4L813.3 315.2L811.3 315.0L809.4 314.7L807.5 314.6L805.6 314.4L803.6 314.3L801.7 314.2L799.7 314.1L797.8 314.1L795.8 314.1L793.8 314.1L791.9 314.1L789.9 314.2L787.9 314.2L785.9 314.3L783.9 314.4L781.9 314.4L779.9 314.5L777.8 314.7L775.8 314.8L773.8 315.0L771.8 315.1L769.7 315.3L767.7 315.6L765.6 315.8" fill="none" stroke="#de8696" stroke-width="1.5" stroke-linejoin="round"/>
<path d="M765.6 315.8L765.6 315.4L765.6 314.9L765.6 314.0L765.6 312.9L765.6 311.4L765.7 309.7L765.7 307.7L765.7 305.3L765.7 302.7L765.7 299.7L765.8 296.5L765.8 293.0L765.8 289.2L765.9 285.2L765.9 281.0L766.0 276.6L766.0 271.9L766.1 267.1L766.1 262.2L766.2 257.1L766.2 251.9L766.3 246.7L766.4 241.4L766.4 236.0L766.5 230.6L766.6 225.3L766.7 219.9L766.8 214.6L766.9 209.4L767.0 204.3L767.1 199.3L767.2 194.3L767.3 189.6L767.4 184.9L767.5 180.4L767.6 176.1L767.7 171.9L767.8 167.9L768.0 164.1L768.1 160.5L768.2 157.1L768.4 153.8L768.5 150.7L768.7 147.9L768.8 145.1L769.0 142.6L769.1 140.3L769.3 138.1L769.5 136.0L769.6 134.1L769.8 132.4L770.0 130.8L770.2 129.3L770.4 128.0L770.6 126.8L770.8 125.6L771.0 124.6L771.2 123.7L771.4 122.9L771.6 122.1L771.8 121.4L772.0 120.8L772.3 120.2L772.5 119.7L772.7 119.3L773.0 118.9L773.2 118.5L773.5 118.2L773.7 117.9L774.0 117.6L774.2 117.4L774.5 117.2L774.8 117.0L775.0 116.8L775.3 116.6L775.6 116.5L775.9 116.3L776.2 116.2L776.5 116.0L776.8 115.9L777.1 115.8L777.4 115.7L777.7 115.6L778.0 115.5L778.4 115.4L778.7 115.3L779.0 115.2L779.4 115.1L779.7 115.0L780.1 114.9L780.4 114.9L780.8 114.8L781.1 114.7L781.5 114.6L781.9 114.5L782.2 114.4L782.6 114.3L783.0 114.2L783.4 114.1L783.8 114.0L784.2 114.0L784.6 113.9L785.0 113.8L785.4 113.7L785.8 113.6L786.2 113.5L786.7 113.4L787.1 113.3L787.5 113.2L788.0 113.1L788.4 113.0L788.9 112.9L789.3 112.8L789.8 112.7L790.3 112.6L790.7 112.5L791.2 112.4L791.7 112.3L792.2 112.2L792.7 112.1L793.2 112.0L793.7 111.9L794.2 111.8L794.7 111.7L795.2 111.6L795.7 111.5L796.2 111.4L796.8 111.3L797.3 111.2L797.8 111.1L798.4 111.0L798.9 110.8L799.5 110.7L800.0 110.6L800.6 110.5L801.2 110.4L801.7 110.3L802.3 110.2L802.9 110.1L803.5 110.0L804.1 109.8L804.7 109.7L805.3 109.6L805.9 109.5L806.5 109.4L807.1 109.3L807.7 109.1L808.4 109.0L809.0 108.9L809.6 108.8L810.3 108.7L810.9 108.5L811.6 108.4L812.3 108.3L812.9 108.2L813.6 108.0L814.3 107.9L814.9 107.8L815.6 107.7L816.3 107.5L817.0 107.4L817.7 107.3L818.4 107.2L819.1 107.0L819.9 106.9L820.6 106.8L821.3 106.6L822.0 106.5L822.8 106.4L823.5 106.2L824.3 106.1L825.0 105.9L825.8 105.8L826.5 105.7L827.3 105.5L828.1 105.4L828.9 105.2L829.6 105.1L830.4 104.9L831.2 104.8L832.0 104.6L832.8 104.5L833.6 104.3L834.5 104.2L835.3 104.0L836.1 103.9L836.9 103.7L837.8 103.5L838.6 103.4L839.5 103.2L840.3 103.0L841.2 102.9L842.0 102.7L842.9 102.5L843.8 102.4L844.7 102.2L845.6 102.0L846.4 101.8L847.3 101.7L848.2 101.5L849.2 101.3L850.1 101.1L851.0 100.9L851.9 100.7L852.8 100.6L853.8 100.4L854.7 100.2L855.7 100.0L856.6 99.8L857.6 99.6L858.5 99.4L859.5 99.2L860.5 99.0L861.4 98.8L862.4 98.6L863.4 98.5L864.4 98.3L865.4 98.1L866.4 97.9L867.4 97.7L868.4 97.5L869.5 97.3L870.5 97.1L871.5 96.9L872.6 96.7L873.6 96.4L874.7 96.2L875.7 96.0L876.8 95.8L877.8 95.6L878.9 95.4L880.0 95.2L881.1 95.0L882.2 94.8L883.2 94.6L884.3 94.4L885.5 94.2L886.6 94.0L887.7 93.8L888.8 93.6L889.9 93.4L891.1 93.2L892.2 93.0L893.3 92.8L894.5 92.6L895.6 92.4L896.8 92.2L898.0 92.0L899.1 91.8L900.3 91.6L901.5 91.4L902.7 91.2L903.9 91.0L905.1 90.8L906.3 90.6L907.5 90.4L908.7 90.2L910.0 90.0L911.2 89.8L912.4 89.6L913.7 89.4L914.9 89.2L916.2 89.0L917.4 88.8L918.7 88.6L919.9 88.4L921.2 88.2L922.5 88.0L923.8 87.8L925.1 87.6L926.4 87.3L927.7 87.1L929.0 86.9L930.3 86.7L931.6 86.5L933.0 86.3L934.3 86.1L935.6 85.9L937.0 85.7L938.3 85.4L939.7 85.2L941.0 85.0L942.4 84.8L943.8 84.5L945.1 84.3L946.5 84.1L947.9 83.9L949.3 83.6L950.7 83.4L952.1 83.1L953.5 82.9L955.0 82.7L956.4 82.4L957.8 82.2L959.2 81.9L960.7 81.6L962.1 81.4L963.6 81.1L965.1 80.9L966.5 80.6L968.0 80.3L969.5 80.1L971.0 79.8L972.4 79.5L973.9 79.2L975.4 79.0L976.9 78.7L978.5 78.4L980.0 78.1L981.5 77.8L983.0 77.5L984.6 77.3L986.1 77.0L987.7 76.7L989.2 76.4L990.8 76.1L992.3 75.8L993.9 75.4L995.5 75.1L997.1 74.8L998.7 74.5L1000.2 74.2L1001.9 73.9L1003.5 73.5L1005.1 73.2L1006.7 72.9L1008.3 72.5L1009.9 72.2L1011.6 71.8L1013.2 71.5L1014.9 71.1L1016.5 70.8L1018.2 70.4L1019.9 70.0L1021.5 69.7L1023.2 69.3L1024.9 68.9L1026.6 68.5L1028.3 68.1L1030.0 67.7L1031.7 67.3L1033.4 66.9L1035.1 66.5L1036.9 66.0L1038.6 65.6L1040.3 65.2L1042.1 64.7L1043.8 64.3L1045.6 63.8L1047.3 63.3L1049.1 62.9L1050.9 62.4L1052.7 61.9L1054.5 61.4L1056.2 60.9L1058.0 60.3L1059.8 59.8L1061.7 59.3L1063.5 58.7L1065.3 58.1L1067.1 57.6L1069.0 57.0L1070.8 56.4L1072.7 55.7L1074.5 55.1L1076.4 54.4L1078.2 53.8L1080.1 53.1L1082.0 52.4L1083.9 51.7L1085.8 51.0L1087.7 50.2L1089.6 49.4L1091.5 48.6L1093.4 47.8L1095.3 47.0L1097.2 46.1L1099.2 45.2L1101.1 44.3L1103.0 43.4L1105.0 42.4L1107.0 41.4L1108.9 40.4L1110.9 39.3L1112.9 38.3L1114.9 37.1L1116.8 36.0L1118.8 34.8L1120.8 33.5L1122.8 32.2L1124.9 30.9L1126.9 29.6L1128.9 28.1L1130.9 26.7L1133.0 25.1L1135.0 23.6L1137.1 21.9L1139.1 20.2L1139.1 35.8L1139.1 50.3L1139.1 64.2L1139.1 77.3L1139.1 89.7L1139.1 101.6L1139.1 112.9L1139.1 123.6L1139.0 133.9L1139.0 143.6L1139.0 152.9L1139.0 161.7L1138.9 170.1L1138.9 178.2L1138.8 185.8L1138.8 193.1L1138.8 200.0L1138.7 206.7L1138.7 213.0L1138.6 219.0L1138.5 224.7L1138.5 230.2L1138.4 235.4L1138.3 240.3L1138.3 245.1L1138.2 249.6L1138.1 253.9L1138.0 258.0L1138.0 261.9L1137.9 265.6L1137.8 269.2L1137.7 272.6L1137.6 275.8L1137.5 278.9L1137.4 281.9L1137.2 284.7L1137.1 287.3L1137.0 289.9L1136.9 292.3L1136.8 294.7L1136.6 296.9L1136.5 299.0L1136.3 301.0L1136.2 302.9L1136.0 304.8L1135.9 306.5L1135.7 308.2L1135.6 309.8L1135.4 311.3L1135.2 312.7L1135.1 314.1L1134.9 315.4L1134.7 316.7L1134.5 317.9L1134.3 319.0L1134.2 320.1L1134.0 321.2L1133.8 322.2L1133.5 323.1L1133.3 324.0L1133.1 324.9L1132.9 325.7L1132.7 326.5L1132.5 327.2L1132.2 327.9L1132.0 328.6L1131.7 329.3L1131.5 329.9L1131.3 330.5L1131.0 331.0L1130.7 331.6L1130.5 332.1L1130.2 332.6L1129.9 333.1L1129.7 333.5L1129.4 333.9L1129.1 334.3L1128.8 334.7L1128.5 335.1L1128.2 335.5L1127.9 335.8L1127.6 336.1L1127.3 336.4L1127.0 336.7L1126.7 337.0L1126.4 337.3L1126.0 337.5L1125.7 337.8L1125.4 338.0L1125.0 338.2L1124.7 338.4L1124.3 338.6L1124.0 338.8L1123.6 339.0L1123.2 339.2L1122.9 339.3L1122.5 339.5L1122.1 339.7L1121.7 339.8L1121.3 339.9L1120.9 340.1L1120.5 340.2L1120.1 340.3L1119.7 340.4L1119.3 340.5L1118.9 340.7L1118.5 340.8L1118.0 340.8L1117.6 340.9L1117.2 341.0L1116.7 341.1L1116.3 341.2L1115.8 341.3L1115.4 341.3L1114.9 341.4L1114.5 341.5L1114.0 341.5L1113.5 341.6L1113.0 341.6L1112.6 341.7L1112.1 341.8L1111.6 341.8L1111.1 341.9L1110.6 341.9L1110.1 341.9L1109.5 342.0L1109.0 342.0L1108.5 342.1L1108.0 342.1L1107.4 342.1L1106.9 342.2L1106.4 342.2L1105.8 342.2L1105.3 342.3L1104.7 342.3L1104.1 342.3L1103.6 342.3L1103.0 342.4L1102.4 342.4L1101.8 342.4L1101.2 342.4L1100.6 342.4L1100.0 342.5L1099.4 342.5L1098.8 342.5L1098.2 342.5L1097.6 342.5L1097.0 342.5L1096.3 342.5L1095.7 342.6L1095.1 342.6L1094.4 342.6L1093.8 342.6L1093.1 342.6L1092.5 342.6L1091.8 342.6L1091.1 342.6L1090.5 342.6L1089.8 342.6L1089.1 342.6L1088.4 342.6L1087.7 342.6L1087.0 342.6L1086.3 342.6L1085.6 342.6L1084.9 342.5L1084.1 342.5L1083.4 342.5L1082.7 342.5L1082.0 342.5L1081.2 342.5L1080.5 342.5L1079.7 342.5L1078.9 342.4L1078.2 342.4L1077.4 342.4L1076.6 342.4L1075.9 342.4L1075.1 342.4L1074.3 342.4L1073.5 342.3L1072.7 342.3L1071.9 342.3L1071.1 342.3L1070.3 342.2L1069.4 342.2L1068.6 342.2L1067.8 342.2L1066.9 342.1L1066.1 342.1L1065.3 342.1L1064.4 342.0L1063.5 342.0L1062.7 342.0L1061.8 341.9L1060.9 341.9L1060.1 341.8L1059.2 341.8L1058.3 341.7L1057.4 341.7L1056.5 341.6L1055.6 341.6L1054.7 341.5L1053.7 341.5L1052.8 341.4L1051.9 341.4L1051.0 341.3L1050.0 341.3L1049.1 341.2L1048.1 341.1L1047.2 341.1L1046.2 341.0L1045.2 340.9L1044.3 340.8L1043.3 340.8L1042.3 340.7L1041.3 340.6L1040.3 340.5L1039.3 340.5L1038.3 340.4L1037.3 340.3L1036.3 340.2L1035.3 340.1L1034.2 340.0L1033.2 339.9L1032.2 339.9L1031.1 339.8L1030.1 339.7L1029.0 339.6L1028.0 339.5L1026.9 339.4L1025.8 339.3L1024.7 339.2L1023.7 339.1L1022.6 339.0L1021.5 338.9L1020.4 338.7L1019.3 338.6L1018.2 338.5L1017.0 338.4L1015.9 338.3L1014.8 338.2L1013.7 338.1L1012.5 337.9L1011.4 337.8L1010.2 337.7L1009.1 337.6L1007.9 337.5L1006.7 337.3L1005.6 337.2L1004.4 337.1L1003.2 337.0L1002.0 336.8L1000.8 336.7L999.6 336.6L998.4 336.4L997.2 336.3L996.0 336.2L994.8 336.0L993.5 335.9L992.3 335.8L991.1 335.6L989.8 335.5L988.6 335.4L987.3 335.2L986.0 335.1L984.8 334.9L983.5 334.8L982.2 334.7L980.9 334.5L979.6 334.4L978.3 334.2L977.0 334.1L975.7 333.9L974.4 333.8L973.1 333.7L971.8 333.5L970.4 333.4L969.1 333.2L967.8 333.1L966.4 333.0L965.1 332.8L963.7 332.7L962.3 332.5L961.0 332.4L959.6 332.3L958.2 332.1L956.8 332.0L955.4 331.8L954.0 331.7L952.6 331.6L951.2 331.4L949.8 331.3L948.3 331.1L946.9 331.0L945.5 330.8L944.0 330.7L942.6 330.5L941.1 330.4L939.7 330.2L938.2 330.1L936.7 329.9L935.3 329.8L933.8 329.6L932.3 329.5L930.8 329.3L929.3 329.1L927.8 329.0L926.3 328.8L924.7 328.6L923.2 328.5L921.7 328.3L920.2 328.1L918.6 328.0L917.1 327.8L915.5 327.6L914.0 327.5L912.4 327.3L910.8 327.1L909.2 326.9L907.7 326.8L906.1 326.6L904.5 326.4L902.9 326.2L901.3 326.0L899.6 325.9L898.0 325.7L896.4 325.5L894.8 325.3L893.1 325.1L891.5 324.9L889.8 324.7L888.2 324.5L886.5 324.4L884.9 324.2L883.2 324.0L881.5 323.8L879.8 323.6L878.1 323.4L876.4 323.2L874.7 323.0L873.0 322.8L871.3 322.6L869.6 322.4L867.9 322.2L866.1 322.0L864.4 321.8L862.7 321.6L860.9 321.4L859.1 321.2L857.4 321.0L855.6 320.8L853.8 320.6L852.1 320.4L850.3 320.2L848.5 320.0L846.7 319.8L844.9 319.6L843.1 319.3L841.2 319.1L839.4 318.9L837.6 318.7L835.8 318.5L833.9 318.2L832.1 318.0L830.2 317.7L828.4 317.4L826.5 317.1L824.6 316.8L822.7 316.6L820.8 316.3L819.0 316.0L817.1 315.7L815.2 315.4L813.3 315.2L811.3 315.0L809.4 314.7L807.5 314.6L805.6 314.4L803.6 314.3L801.7 314.2L799.7 314.1L797.8 314.1L795.8 314.1L793.8 314.1L791.9 314.1L789.9 314.2L787.9 314.2L785.9 314.3L783.9 314.4L781.9 314.4L779.9 314.5L777.8 314.7L775.8 314.8L773.8 315.0L771.8 315.1L769.7 315.3L767.7 315.6L765.6 315.8" fill="none" stroke="#686868" stroke-width="1.5" stroke-linejoin="round"/>
<path d="M113.1 832.1L113.1 831.8L113.2 831.5L113.2 831.1L113.3 830.8L113.4 830.3L113.5 829.9L113.5 829.6L113.6 829.3L113.6 829.0L113.7 828.7L113.7 828.4L113.8 828.1L113.9 827.7L113.9 827.4L114.0 827.0L114.1 826.6L114.2 826.2L114.3 825.8L114.4 825.4L114.5 825.0L114.6 824.5L114.7 824.1L114.8 823.6L114.9 823.1L115.0 822.6L115.1 822.1L115.2 821.6L115.3 821.0L115.5 820.5L115.6 819.9L115.7 819.4L115.9 818.8L116.0 818.2L116.2 817.6L116.3 817.0L116.5 816.3L116.6 815.7L116.8 815.1L117.0 814.4L117.1 813.7L117.3 813.1L117.5 812.4L117.7 811.7L117.9 811.0L118.1 810.2L118.3 809.5L118.5 808.8L118.7 808.0L118.9 807.3L119.1 806.5L119.3 805.7L119.5 804.9L119.8 804.1L120.0 803.3L120.2 802.5L120.5 801.7L120.7 800.9L121.0 800.1L121.2 799.2L121.5 798.4L121.7 797.6L122.0 796.7L122.3 795.9L122.5 795.0L122.8 794.1L123.1 793.3L123.4 792.4L123.7 791.5L124.0 790.6L124.3 789.7L124.6 788.8L124.9 787.9L125.2 787.0L125.5 786.1L125.9 785.1L126.2 784.2L126.5 783.3L126.9 782.3L127.2 781.4L127.6 780.5L127.9 779.5L128.3 778.6L128.6 777.6L129.0 776.7L129.4 775.7L129.7 774.7L130.1 773.8L130.5 772.8L130.9 771.8L131.3 770.9L131.7 769.9L132.1 768.9L132.5 768.0L132.9 767.0L133.3 766.0L133.7 765.0L134.2 764.1L134.6 763.1L135.0 762.1L135.5 761.1L135.9 760.2L136.4 759.2L136.8 758.2L137.3 757.2L137.8 756.2L138.2 755.3L138.7 754.3L139.2 753.3L139.7 752.3L140.2 751.4L140.7 750.4L141.2 749.4L141.7 748.4L142.2 747.5L142.7 746.5L143.2 745.5L143.7 744.6L144.3 743.6L144.8 742.6L145.3 741.7L145.9 740.7L146.4 739.8L147.0 738.8L147.5 737.9L148.1 736.9L148.7 736.0L149.2 735.0L149.8 734.1L150.4 733.1L151.0 732.2L151.6 731.3L152.2 730.3L152.8 729.4L153.4 728.5L154.0 727.5L154.6 726.6L155.2 725.7L155.9 724.7L156.5 723.8L157.1 722.9L157.8 722.0L158.4 721.0L159.1 720.1L159.8 719.2L160.4 718.3L161.1 717.4L161.8 716.5L162.4 715.5L163.1 714.6L163.8 713.7L164.5 712.8L165.2 711.9L165.9 711.0L166.6 710.1L167.4 709.3L168.1 708.4L168.8 707.5L169.5 706.6L170.3 705.7L171.0 704.9L171.8 704.0L172.5 703.1L173.3 702.3L174.0 701.4L174.8 700.5L175.6 699.7L176.4 698.8L177.1 698.0L177.9 697.1L178.7 696.3L179.5 695.5L180.3 694.6L181.1 693.8L182.0 693.0L182.8 692.2L183.6 691.3L184.4 690.5L185.3 689.7L186.1 688.9L187.0 688.1L187.8 687.3L188.7 686.5L189.5 685.7L190.4 684.9L191.3 684.1L192.2 683.4L193.1 682.6L193.9 681.8L194.8 681.1L195.7 680.3L196.7 679.5L197.6 678.8L198.5 678.0L199.4 677.3L200.3 676.5L201.3 675.8L202.2 675.1L203.2 674.3L204.1 673.6L205.1 672.9L206.0 672.2L207.0 671.5L208.0 670.8L208.9 670.1L209.9 669.4L210.9 668.7L211.9 668.0L212.9 667.3L213.9 666.6L214.9 666.0L215.9 665.3L217.0 664.6L218.0 664.0L219.0 663.3L220.1 662.7L221.1 662.0L222.2 661.4L223.2 660.7L224.3 660.1L225.3 659.5L226.4 658.9L227.5 658.2L228.6 657.6L229.7 657.0L230.7 656.4L231.8 655.8L233.0 655.2L234.1 654.6L235.2 654.0L236.3 653.4L237.4 652.8L238.6 652.2L239.7 651.7L240.8 651.1L242.0 650.5L243.1 649.9L244.3 649.4L245.5 648.8L246.6 648.3L247.8 647.7L249.0 647.1L250.2 646.6L251.4 646.1L252.6 645.5L253.8 645.0L255.0 644.4L256.2 643.9L257.5 643.4L258.7 642.9L259.9 642.3L261.2 641.8L262.4 641.3L263.7 640.8L264.9 640.3L266.2 639.8L267.4 639.3L268.7 638.8L270.0 638.3L271.3 637.8L272.6 637.3L273.9 636.8L275.2 636.3L276.5 635.8L277.8 635.4L279.1 634.9L280.5 634.4L281.8 633.9L283.1 633.5L284.5 633.0L285.8 632.5L287.2 632.1L288.5 631.6L289.9 631.2L291.3 630.7L292.6 630.2L294.0 629.8L295.4 629.3L296.8 628.9L298.2 628.4L299.6 628.0L301.0 627.6L302.5 627.1L303.9 626.7L305.3 626.2L306.7 625.8L308.2 625.4L309.6 625.0L311.1 624.5L312.6 624.1L314.0 623.7L315.5 623.2L317.0 622.8L318.5 622.4L319.9 622.0L321.4 621.6L322.9 621.2L324.4 620.7L326.0 620.3L327.5 619.9L329.0 619.5L330.5 619.1L332.1 618.7L333.6 618.3L335.2 617.9L336.7 617.5L338.3 617.1L339.8 616.7L341.4 616.3L343.0 615.9L344.6 615.6L346.2 615.2L347.7 614.8L349.4 614.4L351.0 614.0L352.6 613.6L354.2 613.3L355.8 612.9L357.4 612.5L359.1 612.1L360.7 611.8L362.4 611.4L364.0 611.0L365.7 610.7L367.4 610.3L369.0 609.9L370.7 609.6L372.4 609.2L374.1 608.9L375.8 608.5L377.5 608.2L379.2 607.8L380.9 607.5L382.6 607.1L384.4 606.8L386.1 606.5L387.8 606.1L389.6 605.8L391.3 605.4L393.1 605.1L394.8 604.8L396.6 604.4L398.4 604.1L400.2 603.8L402.0 603.4L403.7 603.1L405.5 602.8L407.3 602.5L409.2 602.1L411.0 601.8L412.8 601.5L414.6 601.2L416.5 600.8L418.3 600.5L420.2 600.2L422.0 599.9L423.9 599.6L425.7 599.2L427.6 598.9L429.5 598.6L431.4 598.3L433.3 598.0L435.2 597.7L437.1 597.4L439.0 597.1L440.9 596.8L442.8 596.5L444.7 596.2L446.7 595.8L448.6 595.5L450.5 595.2L452.5 594.9L454.5 594.6L456.4 594.4L458.4 594.1L460.4 593.8L462.4 593.5L464.3 593.2L466.3 592.9L468.3 592.6L470.3 592.3L472.4 592.0L474.4 591.7L476.4 591.4L478.4 591.2L480.5 590.9L482.5 590.6L484.6 590.3L486.6 590.0L486.5 590.3L486.4 590.7L486.3 591.0L486.2 591.3L486.1 591.7L486.0 592.1L485.8 592.5L485.7 592.9L485.6 593.2L485.5 593.5L485.5 593.7L485.4 594.0L485.3 594.3L485.2 594.6L485.1 594.9L485.0 595.3L484.9 595.6L484.7 596.0L484.6 596.3L484.5 596.7L484.4 597.1L484.3 597.5L484.1 597.9L484.0 598.4L483.8 598.8L483.7 599.2L483.5 599.7L483.4 600.2L483.2 600.7L483.1 601.2L482.9 601.7L482.7 602.2L482.6 602.7L482.4 603.3L482.2 603.8L482.0 604.4L481.8 604.9L481.7 605.5L481.5 606.1L481.3 606.7L481.0 607.3L480.8 608.0L480.6 608.6L480.4 609.2L480.2 609.9L480.0 610.5L479.7 611.2L479.5 611.9L479.2 612.6L479.0 613.3L478.8 614.0L478.5 614.7L478.2 615.4L478.0 616.1L477.7 616.8L477.4 617.5L477.2 618.3L476.9 619.0L476.6 619.7L476.3 620.5L476.0 621.2L475.7 621.9L475.4 622.7L475.1 623.4L474.8 624.2L474.5 624.9L474.2 625.7L473.9 626.5L473.5 627.2L473.2 628.0L472.9 628.8L472.5 629.6L472.2 630.4L471.8 631.3L471.5 632.1L471.1 632.9L470.7 633.7L470.4 634.6L470.0 635.4L469.6 636.3L469.2 637.1L468.8 638.0L468.4 638.9L468.0 639.7L467.6 640.6L467.2 641.5L466.8 642.4L466.4 643.3L466.0 644.2L465.5 645.1L465.1 646.0L464.7 646.9L464.2 647.8L463.8 648.7L463.3 649.7L462.9 650.6L462.4 651.5L462.0 652.5L461.5 653.4L461.0 654.4L460.5 655.3L460.1 656.3L459.6 657.2L459.1 658.2L458.6 659.2L458.1 660.1L457.6 661.1L457.0 662.1L456.5 663.1L456.0 664.0L455.5 665.0L454.9 666.0L454.4 667.0L453.9 668.0L453.3 669.0L452.8 670.0L452.2 671.1L451.6 672.1L451.1 673.1L450.5 674.1L449.9 675.1L449.3 676.2L448.7 677.2L448.1 678.2L447.5 679.3L446.9 680.3L446.3 681.4L445.7 682.5L445.1 683.5L444.5 684.6L443.8 685.7L443.2 686.7L442.6 687.8L441.9 688.9L441.3 690.0L440.6 691.1L440.0 692.2L439.3 693.3L438.6 694.4L438.0 695.5L437.3 696.6L436.6 697.7L435.9 698.8L435.2 699.9L434.5 701.0L433.8 702.1L433.1 703.2L432.4 704.3L431.6 705.4L430.9 706.5L430.2 707.6L429.5 708.7L428.7 709.8L428.0 710.9L427.2 712.1L426.4 713.2L425.7 714.3L424.9 715.4L424.1 716.5L423.4 717.6L422.6 718.7L421.8 719.8L421.0 720.9L420.2 722.0L419.4 723.1L418.6 724.2L417.8 725.3L416.9 726.3L416.1 727.4L415.3 728.5L414.4 729.6L413.6 730.6L412.8 731.7L411.9 732.8L411.0 733.9L410.2 734.9L409.3 736.0L408.4 737.1L407.6 738.2L406.7 739.3L405.8 740.3L404.9 741.4L404.0 742.5L403.1 743.6L402.2 744.7L401.2 745.7L400.3 746.8L399.4 747.8L398.5 748.9L397.5 750.0L396.6 751.0L395.6 752.0L394.7 753.1L393.7 754.1L392.7 755.1L391.8 756.1L390.8 757.1L389.8 758.0L388.8 759.0L387.8 760.0L386.8 760.9L385.8 761.8L384.8 762.7L383.8 763.6L382.8 764.5L381.7 765.3L380.7 766.2L379.7 767.1L378.6 767.9L377.6 768.7L376.5 769.6L375.5 770.4L374.4 771.2L373.3 772.0L372.2 772.8L371.2 773.6L370.1 774.4L369.0 775.2L367.9 776.0L366.8 776.8L365.7 777.6L364.5 778.3L363.4 779.1L362.3 779.9L361.2 780.6L360.0 781.4L358.9 782.1L357.7 782.8L356.6 783.6L355.4 784.3L354.2 785.0L353.1 785.8L351.9 786.5L350.7 787.2L349.5 787.9L348.3 788.6L347.1 789.3L345.9 790.0L344.7 790.7L343.5 791.4L342.3 792.1L341.0 792.8L339.8 793.5L338.6 794.2L337.3 794.9L336.1 795.5L334.8 796.2L333.5 796.9L332.3 797.6L331.0 798.2L329.7 798.9L328.4 799.6L327.1 800.2L325.8 800.9L324.5 801.5L323.2 802.2L321.9 802.8L320.6 803.4L319.3 804.1L317.9 804.7L316.6 805.3L315.3 806.0L313.9 806.6L312.6 807.2L311.2 807.8L309.8 808.4L308.5 809.0L307.1 809.6L305.7 810.3L304.3 810.8L302.9 811.4L301.5 812.0L300.1 812.6L298.7 813.2L297.3 813.8L295.8 814.4L294.4 814.9L293.0 815.5L291.5 816.1L290.1 816.6L288.6 817.2L287.2 817.7L285.7 818.3L284.2 818.9L282.8 819.4L281.3 820.0L279.8 820.5L278.3 821.0L276.8 821.5L275.3 822.1L273.8 822.6L272.2 823.0L270.7 823.5L269.2 824.0L267.7 824.4L266.1 824.8L264.6 825.2L263.0 825.6L261.5 826.0L259.9 826.4L258.3 826.8L256.7 827.2L255.2 827.6L253.6 828.0L252.0 828.4L250.4 828.8L248.8 829.2L247.1 829.5L245.5 829.9L243.9 830.2L242.3 830.5L240.6 830.9L239.0 831.2L237.3 831.5L235.7 831.7L234.0 832.0L232.4 832.2L230.7 832.5L229.0 832.7L227.3 832.8L225.6 833.0L223.9 833.1L222.2 833.3L220.5 833.4L218.8 833.5L217.1 833.7L215.4 833.8L213.6 833.9L211.9 834.1L210.2 834.2L208.4 834.3L206.6 834.4L204.9 834.5L203.1 834.6L201.3 834.7L199.6 834.8L197.8 834.9L196.0 834.9L194.2 835.0L192.4 835.0L190.6 835.1L188.7 835.1L186.9 835.1L185.1 835.1L183.3 835.1L181.4 835.1L179.6 835.1L177.7 835.0L175.9 835.0L174.0 835.0L172.1 834.9L170.2 834.8L168.3 834.8L166.5 834.7L164.6 834.6L162.7 834.6L160.8 834.5L158.8 834.4L156.9 834.3L155.0 834.2L153.1 834.1L151.1 834.1L149.2 834.0L147.2 833.9L145.3 833.8L143.3 833.7L141.3 833.6L139.4 833.6L137.4 833.5L135.4 833.4L133.4 833.3L131.4 833.2L129.4 833.1L127.4 833.0L125.3 832.8L123.3 832.7L121.3 832.6L119.3 832.5L117.2 832.4L115.2 832.2L113.1 832.1" fill="none" stroke="#bcbcbc" stroke-width="1.5" stroke-linejoin="round"/>
<path d="M113.1 824.0L113.1 823.7L113.1 823.4L113.2 822.9L113.2 822.7L113.2 822.4L113.2 822.0L113.3 821.7L113.3 821.3L113.3 820.9L113.4 820.4L113.4 819.9L113.5 819.4L113.5 818.9L113.6 818.3L113.6 817.7L113.7 817.1L113.7 816.5L113.8 815.8L113.9 815.1L113.9 814.4L114.0 813.6L114.1 812.8L114.2 812.0L114.3 811.2L114.4 810.3L114.5 809.4L114.6 808.5L114.7 807.6L114.8 806.6L114.9 805.6L115.0 804.6L115.1 803.6L115.2 802.6L115.3 801.5L115.5 800.4L115.6 799.3L115.7 798.1L115.9 797.0L116.0 795.8L116.2 794.6L116.3 793.4L116.5 792.2L116.6 790.9L116.8 789.6L117.0 788.4L117.1 787.0L117.3 785.7L117.5 784.4L117.7 783.0L117.9 781.7L118.1 780.3L118.3 778.9L118.5 777.5L118.7 776.1L118.9 774.7L119.1 773.2L119.3 771.8L119.5 770.3L119.8 768.9L120.0 767.4L120.2 765.9L120.5 764.4L120.7 762.9L121.0 761.4L121.2 760.0L121.5 758.5L121.7 757.0L122.0 755.5L122.3 754.0L122.5 752.4L122.8 750.9L123.1 749.4L123.4 747.9L123.7 746.4L124.0 744.9L124.3 743.4L124.6 741.8L124.9 740.3L125.2 738.8L125.5 737.3L125.9 735.8L126.2 734.3L126.5 732.8L126.9 731.3L127.2 729.8L127.6 728.3L127.9 726.8L128.3 725.4L128.6 723.9L129.0 722.4L129.4 721.0L129.7 719.5L130.1 718.1L130.5 716.6L130.9 715.2L131.3 713.8L131.7 712.4L132.1 711.0L132.5 709.6L132.9 708.2L133.3 706.9L133.7 705.5L134.2 704.1L134.6 702.8L135.0 701.5L135.5 700.2L135.9 698.9L136.4 697.6L136.8 696.3L137.3 695.0L137.8 693.8L138.2 692.5L138.7 691.3L139.2 690.1L139.7 688.9L140.2 687.7L140.7 686.5L141.2 685.3L141.7 684.2L142.2 683.0L142.7 681.9L143.2 680.8L143.7 679.7L144.3 678.6L144.8 677.6L145.3 676.5L145.9 675.4L146.4 674.4L147.0 673.4L147.5 672.4L148.1 671.4L148.7 670.4L149.2 669.4L149.8 668.5L150.4 667.5L151.0 666.6L151.6 665.7L152.2 664.8L152.8 663.9L153.4 663.0L154.0 662.1L154.6 661.3L155.2 660.4L155.9 659.6L156.5 658.7L157.1 657.9L157.8 657.1L158.4 656.3L159.1 655.5L159.8 654.7L160.4 653.9L161.1 653.1L161.8 652.4L162.4 651.6L163.1 650.9L163.8 650.2L164.5 649.5L165.2 648.7L165.9 648.1L166.6 647.4L167.4 646.7L168.1 646.0L168.8 645.4L169.5 644.7L170.3 644.1L171.0 643.5L171.8 642.8L172.5 642.2L173.3 641.6L174.0 641.0L174.8 640.4L175.6 639.9L176.4 639.3L177.1 638.7L177.9 638.2L178.7 637.6L179.5 637.1L180.3 636.6L181.1 636.0L182.0 635.5L182.8 635.0L183.6 634.5L184.4 634.0L185.3 633.5L186.1 633.0L187.0 632.6L187.8 632.1L188.7 631.6L189.5 631.2L190.4 630.7L191.3 630.3L192.2 629.9L193.1 629.4L193.9 629.0L194.8 628.6L195.7 628.2L196.7 627.8L197.6 627.4L198.5 627.0L199.4 626.6L200.3 626.2L201.3 625.8L202.2 625.4L203.2 625.1L204.1 624.7L205.1 624.4L206.0 624.0L207.0 623.7L208.0 623.3L208.9 623.0L209.9 622.6L210.9 622.3L211.9 622.0L212.9 621.7L213.9 621.4L214.9 621.1L215.9 620.7L217.0 620.4L218.0 620.1L219.0 619.8L220.1 619.5L221.1 619.3L222.2 619.0L223.2 618.7L224.3 618.4L225.3 618.1L226.4 617.8L227.5 617.6L228.6 617.3L229.7 617.0L230.7 616.7L231.8 616.5L233.0 616.2L234.1 616.0L235.2 615.7L236.3 615.4L237.4 615.2L238.6 614.9L239.7 614.7L240.8 614.4L242.0 614.2L243.1 613.9L244.3 613.7L245.5 613.4L246.6 613.2L247.8 612.9L249.0 612.7L250.2 612.4L251.4 612.2L252.6 611.9L253.8 611.7L255.0 611.5L256.2 611.2L257.5 611.0L258.7 610.7L259.9 610.5L261.2 610.3L262.4 610.0L263.7 609.8L264.9 609.6L266.2 609.3L267.4 609.1L268.7 608.9L270.0 608.6L271.3 608.4L272.6 608.1L273.9 607.9L275.2 607.7L276.5 607.4L277.8 607.2L279.1 607.0L280.5 606.7L281.8 606.5L283.1 606.3L284.5 606.0L285.8 605.8L287.2 605.6L288.5 605.3L289.9 605.1L291.3 604.8L292.6 604.6L294.0 604.4L295.4 604.1L296.8 603.9L298.2 603.6L299.6 603.4L301.0 603.2L302.5 602.9L303.9 602.7L305.3 602.4L306.7 602.2L308.2 601.9L309.6 601.7L311.1 601.4L312.6 601.2L314.0 600.9L315.5 600.7L317.0 600.4L318.5 600.2L319.9 599.9L321.4 599.7L322.9 599.4L324.4 599.2L326.0 598.9L327.5 598.7L329.0 598.4L330.5 598.2L332.1 597.9L333.6 597.7L335.2 597.4L336.7 597.2L338.3 596.9L339.8 596.6L341.4 596.4L343.0 596.1L344.6 595.9L346.2 595.6L347.7 595.4L349.4 595.1L351.0 594.8L352.6 594.6L354.2 594.3L355.8 594.1L357.4 593.8L359.1 593.6L360.7 593.3L362.4 593.0L364.0 592.8L365.7 592.5L367.4 592.3L369.0 592.0L370.7 591.7L372.4 591.5L374.1 591.2L375.8 591.0L377.5 590.7L379.2 590.5L380.9 590.2L382.6 590.0L384.4 589.7L386.1 589.4L387.8 589.2L389.6 588.9L391.3 588.7L393.1 588.4L394.8 588.2L396.6 587.9L398.4 587.7L400.2 587.4L402.0 587.1L403.7 586.9L405.5 586.6L407.3 586.4L409.2 586.1L411.0 585.9L412.8 585.6L414.6 585.3L416.5 585.1L418.3 584.8L420.2 584.6L422.0 584.3L423.9 584.1L425.7 583.8L427.6 583.5L429.5 583.3L431.4 583.0L433.3 582.8L435.2 582.5L437.1 582.3L439.0 582.0L440.9 581.7L442.8 581.5L444.7 581.2L446.7 581.0L448.6 580.7L450.5 580.5L452.5 580.2L454.5 580.0L456.4 579.7L458.4 579.4L460.4 579.2L462.4 578.9L464.3 578.7L466.3 578.4L468.3 578.2L470.3 577.9L472.4 577.7L474.4 577.4L476.4 577.2L478.4 576.9L480.5 576.7L482.5 576.4L484.6 576.2L486.6 575.9L486.6 576.2L486.6 576.6L486.5 577.0L486.5 577.2L486.5 577.5L486.5 577.8L486.4 578.2L486.4 578.6L486.3 579.0L486.3 579.4L486.3 579.9L486.2 580.4L486.2 580.9L486.1 581.5L486.0 582.0L486.0 582.7L485.9 583.3L485.8 584.0L485.8 584.7L485.7 585.4L485.6 586.2L485.5 587.0L485.5 587.8L485.4 588.7L485.3 589.5L485.2 590.4L485.1 591.4L485.0 592.3L484.9 593.3L484.7 594.4L484.6 595.4L484.5 596.5L484.4 597.6L484.3 598.7L484.1 599.9L484.0 601.0L483.8 602.2L483.7 603.5L483.5 604.7L483.4 606.0L483.2 607.3L483.1 608.6L482.9 610.0L482.7 611.4L482.6 612.8L482.4 614.2L482.2 615.6L482.0 617.1L481.8 618.6L481.7 620.1L481.5 621.6L481.3 623.1L481.0 624.7L480.8 626.3L480.6 627.9L480.4 629.5L480.2 631.1L480.0 632.8L479.7 634.4L479.5 636.1L479.2 637.8L479.0 639.5L478.8 641.3L478.5 643.0L478.2 644.7L478.0 646.5L477.7 648.3L477.4 650.1L477.2 651.9L476.9 653.7L476.6 655.5L476.3 657.3L476.0 659.2L475.7 661.0L475.4 662.9L475.1 664.7L474.8 666.6L474.5 668.5L474.2 670.4L473.9 672.3L473.5 674.2L473.2 676.1L472.9 678.0L472.5 679.9L472.2 681.8L471.8 683.7L471.5 685.6L471.1 687.5L470.7 689.4L470.4 691.4L470.0 693.3L469.6 695.2L469.2 697.1L468.8 699.0L468.4 700.9L468.0 702.8L467.6 704.8L467.2 706.7L466.8 708.6L466.4 710.5L466.0 712.4L465.5 714.2L465.1 716.1L464.7 718.0L464.2 719.9L463.8 721.7L463.3 723.6L462.9 725.5L462.4 727.3L462.0 729.1L461.5 731.0L461.0 732.8L460.5 734.6L460.1 736.4L459.6 738.2L459.1 740.0L458.6 741.7L458.1 743.5L457.6 745.2L457.0 747.0L456.5 748.7L456.0 750.4L455.5 752.1L454.9 753.8L454.4 755.5L453.9 757.1L453.3 758.8L452.8 760.4L452.2 762.0L451.6 763.6L451.1 765.2L450.5 766.8L449.9 768.4L449.3 769.9L448.7 771.4L448.1 773.0L447.5 774.5L446.9 776.0L446.3 777.4L445.7 778.9L445.1 780.3L444.5 781.7L443.8 783.1L443.2 784.5L442.6 785.9L441.9 787.3L441.3 788.6L440.6 789.9L440.0 791.2L439.3 792.5L438.6 793.8L438.0 795.1L437.3 796.3L436.6 797.5L435.9 798.7L435.2 799.9L434.5 801.1L433.8 802.3L433.1 803.4L432.4 804.5L431.6 805.6L430.9 806.7L430.2 807.8L429.5 808.9L428.7 809.9L428.0 810.9L427.2 811.9L426.4 812.9L425.7 813.9L424.9 814.9L424.1 815.8L423.4 816.8L422.6 817.7L421.8 818.6L421.0 819.5L420.2 820.3L419.4 821.2L418.6 822.0L417.8 822.8L416.9 823.6L416.1 824.4L415.3 825.2L414.4 825.9L413.6 826.7L412.8 827.4L411.9 828.1L411.0 828.8L410.2 829.5L409.3 830.1L408.4 830.8L407.6 831.4L406.7 832.1L405.8 832.7L404.9 833.2L404.0 833.8L403.1 834.4L402.2 834.9L401.2 835.5L400.3 836.0L399.4 836.5L398.5 837.0L397.5 837.5L396.6 838.0L395.6 838.4L394.7 838.9L393.7 839.3L392.7 839.7L391.8 840.1L390.8 840.5L389.8 840.9L388.8 841.3L387.8 841.6L386.8 842.0L385.8 842.3L384.8 842.7L383.8 843.0L382.8 843.3L381.7 843.6L380.7 843.9L379.7 844.2L378.6 844.4L377.6 844.7L376.5 844.9L375.5 845.2L374.4 845.4L373.3 845.6L372.2 845.8L371.2 846.0L370.1 846.2L369.0 846.4L367.9 846.6L366.8 846.7L365.7 846.9L364.5 847.0L363.4 847.1L362.3 847.2L361.2 847.4L360.0 847.5L358.9 847.5L357.7 847.6L356.6 847.7L355.4 847.8L354.2 847.8L353.1 847.9L351.9 847.9L350.7 848.0L349.5 848.0L348.3 848.0L347.1 848.0L345.9 848.0L344.7 848.0L343.5 848.0L342.3 848.0L341.0 848.0L339.8 847.9L338.6 847.9L337.3 847.9L336.1 847.8L334.8 847.8L333.5 847.7L332.3 847.6L331.0 847.6L329.7 847.5L328.4 847.4L327.1 847.3L325.8 847.2L324.5 847.1L323.2 847.0L321.9 846.9L320.6 846.8L319.3 846.6L317.9 846.5L316.6 846.3L315.3 846.2L313.9 846.0L312.6 845.9L311.2 845.7L309.8 845.5L308.5 845.3L307.1 845.1L305.7 845.0L304.3 844.8L302.9 844.6L301.5 844.4L300.1 844.2L298.7 844.0L297.3 843.8L295.8 843.6L294.4 843.4L293.0 843.2L291.5 843.1L290.1 842.9L288.6 842.7L287.2 842.5L285.7 842.4L284.2 842.2L282.8 842.0L281.3 841.9L279.8 841.7L278.3 841.5L276.8 841.4L275.3 841.2L273.8 841.1L272.2 840.9L270.7 840.7L269.2 840.6L267.7 840.4L266.1 840.2L264.6 840.1L263.0 839.9L261.5 839.7L259.9 839.5L258.3 839.3L256.7 839.1L255.2 838.9L253.6 838.7L252.0 838.5L250.4 838.3L248.8 838.0L247.1 837.8L245.5 837.5L243.9 837.3L242.3 837.0L240.6 836.7L239.0 836.4L237.3 836.2L235.7 835.9L234.0 835.6L232.4 835.3L230.7 835.0L229.0 834.7L227.3 834.4L225.6 834.1L223.9 833.8L222.2 833.5L220.5 833.3L218.8 833.0L217.1 832.7L215.4 832.5L213.6 832.2L211.9 832.0L210.2 831.7L208.4 831.5L206.6 831.2L204.9 831.0L203.1 830.7L201.3 830.5L199.6 830.2L197.8 830.0L196.0 829.7L194.2 829.5L192.4 829.2L190.6 829.0L188.7 828.7L186.9 828.5L185.1 828.2L183.3 828.0L181.4 827.8L179.6 827.6L177.7 827.3L175.9 827.1L174.0 826.9L172.1 826.7L170.2 826.6L168.3 826.4L166.5 826.2L164.6 826.1L162.7 825.9L160.8 825.8L158.8 825.7L156.9 825.6L155.0 825.5L153.1 825.4L151.1 825.2L149.2 825.1L147.2 825.0L145.3 824.9L143.3 824.8L141.3 824.7L139.4 824.6L137.4 824.6L135.4 824.5L133.4 824.4L131.4 824.3L129.4 824.2L127.4 824.2L125.3 824.1L123.3 824.1L121.3 824.0L119.3 824.0L117.2 824.0L115.2 824.0L113.1 824.0" fill="none" stroke="#efc08e" stroke-width="1.5" stroke-linejoin="round"/>
<path d="M113.1 824.0L113.1 823.7L113.1 823.1L113.1 822.8L113.2 822.4L113.2 821.9L113.2 821.4L113.2 820.8L113.2 820.1L113.3 819.4L113.3 818.6L113.3 817.8L113.4 816.9L113.4 815.9L113.5 814.9L113.5 813.9L113.6 812.8L113.6 811.6L113.7 810.4L113.7 809.2L113.8 807.8L113.9 806.5L113.9 805.1L114.0 803.6L114.1 802.1L114.2 800.6L114.3 799.0L114.4 797.4L114.5 795.8L114.6 794.1L114.7 792.3L114.8 790.6L114.9 788.8L115.0 786.9L115.1 785.1L115.2 783.2L115.3 781.3L115.5 779.3L115.6 777.3L115.7 775.3L115.9 773.3L116.0 771.3L116.2 769.2L116.3 767.1L116.5 765.0L116.6 762.9L116.8 760.8L117.0 758.7L117.1 756.5L117.3 754.4L117.5 752.2L117.7 750.0L117.9 747.8L118.1 745.7L118.3 743.5L118.5 741.3L118.7 739.1L118.9 736.9L119.1 734.8L119.3 732.6L119.5 730.4L119.8 728.3L120.0 726.1L120.2 724.0L120.5 721.9L120.7 719.8L121.0 717.7L121.2 715.7L121.5 713.6L121.7 711.6L122.0 709.6L122.3 707.6L122.5 705.7L122.8 703.7L123.1 701.8L123.4 699.9L123.7 698.0L124.0 696.1L124.3 694.3L124.6 692.5L124.9 690.7L125.2 688.9L125.5 687.2L125.9 685.5L126.2 683.8L126.5 682.1L126.9 680.5L127.2 678.9L127.6 677.3L127.9 675.7L128.3 674.2L128.6 672.7L129.0 671.2L129.4 669.8L129.7 668.4L130.1 667.0L130.5 665.6L130.9 664.3L131.3 663.0L131.7 661.7L132.1 660.4L132.5 659.2L132.9 658.0L133.3 656.9L133.7 655.7L134.2 654.6L134.6 653.5L135.0 652.5L135.5 651.4L135.9 650.4L136.4 649.4L136.8 648.5L137.3 647.6L137.8 646.7L138.2 645.8L138.7 644.9L139.2 644.1L139.7 643.3L140.2 642.5L140.7 641.7L141.2 641.0L141.7 640.3L142.2 639.6L142.7 638.9L143.2 638.2L143.7 637.6L144.3 637.0L144.8 636.4L145.3 635.8L145.9 635.2L146.4 634.7L147.0 634.2L147.5 633.6L148.1 633.1L148.7 632.7L149.2 632.2L149.8 631.7L150.4 631.3L151.0 630.8L151.6 630.4L152.2 630.0L152.8 629.6L153.4 629.2L154.0 628.9L154.6 628.5L155.2 628.1L155.9 627.8L156.5 627.4L157.1 627.1L157.8 626.8L158.4 626.4L159.1 626.1L159.8 625.8L160.4 625.5L161.1 625.2L161.8 624.9L162.4 624.6L163.1 624.3L163.8 624.0L164.5 623.8L165.2 623.5L165.9 623.2L166.6 623.0L167.4 622.7L168.1 622.5L168.8 622.2L169.5 622.0L170.3 621.8L171.0 621.5L171.8 621.3L172.5 621.1L173.3 620.9L174.0 620.6L174.8 620.4L175.6 620.2L176.4 620.0L177.1 619.8L177.9 619.6L178.7 619.4L179.5 619.2L180.3 618.9L181.1 618.7L182.0 618.5L182.8 618.3L183.6 618.1L184.4 617.9L185.3 617.7L186.1 617.5L187.0 617.4L187.8 617.2L188.7 617.0L189.5 616.8L190.4 616.6L191.3 616.4L192.2 616.2L193.1 616.0L193.9 615.8L194.8 615.6L195.7 615.4L196.7 615.2L197.6 615.0L198.5 614.9L199.4 614.7L200.3 614.5L201.3 614.3L202.2 614.1L203.2 613.9L204.1 613.7L205.1 613.5L206.0 613.4L207.0 613.2L208.0 613.0L208.9 612.8L209.9 612.6L210.9 612.4L211.9 612.3L212.9 612.1L213.9 611.9L214.9 611.7L215.9 611.5L217.0 611.4L218.0 611.2L219.0 611.0L220.1 610.8L221.1 610.6L222.2 610.4L223.2 610.3L224.3 610.1L225.3 609.9L226.4 609.7L227.5 609.5L228.6 609.3L229.7 609.1L230.7 609.0L231.8 608.8L233.0 608.6L234.1 608.4L235.2 608.2L236.3 608.0L237.4 607.8L238.6 607.6L239.7 607.4L240.8 607.2L242.0 607.0L243.1 606.8L244.3 606.6L245.5 606.4L246.6 606.3L247.8 606.1L249.0 605.9L250.2 605.7L251.4 605.5L252.6 605.3L253.8 605.0L255.0 604.8L256.2 604.6L257.5 604.4L258.7 604.2L259.9 604.0L261.2 603.8L262.4 603.6L263.7 603.4L264.9 603.2L266.2 603.0L267.4 602.8L268.7 602.6L270.0 602.3L271.3 602.1L272.6 601.9L273.9 601.7L275.2 601.5L276.5 601.3L277.8 601.0L279.1 600.8L280.5 600.6L281.8 600.4L283.1 600.2L284.5 599.9L285.8 599.7L287.2 599.5L288.5 599.3L289.9 599.0L291.3 598.8L292.6 598.6L294.0 598.3L295.4 598.1L296.8 597.9L298.2 597.6L299.6 597.4L301.0 597.2L302.5 596.9L303.9 596.7L305.3 596.5L306.7 596.2L308.2 596.0L309.6 595.7L311.1 595.5L312.6 595.3L314.0 595.0L315.5 594.8L317.0 594.5L318.5 594.3L319.9 594.0L321.4 593.8L322.9 593.5L324.4 593.3L326.0 593.0L327.5 592.8L329.0 592.5L330.5 592.3L332.1 592.0L333.6 591.8L335.2 591.5L336.7 591.2L338.3 591.0L339.8 590.7L341.4 590.5L343.0 590.2L344.6 590.0L346.2 589.7L347.7 589.4L349.4 589.2L351.0 588.9L352.6 588.7L354.2 588.4L355.8 588.2L357.4 587.9L359.1 587.6L360.7 587.4L362.4 587.1L364.0 586.9L365.7 586.6L367.4 586.3L369.0 586.1L370.7 585.8L372.4 585.6L374.1 585.3L375.8 585.0L377.5 584.8L379.2 584.5L380.9 584.3L382.6 584.0L384.4 583.8L386.1 583.5L387.8 583.3L389.6 583.0L391.3 582.7L393.1 582.5L394.8 582.2L396.6 582.0L398.4 581.7L400.2 581.5L402.0 581.2L403.7 580.9L405.5 580.7L407.3 580.4L409.2 580.2L411.0 579.9L412.8 579.7L414.6 579.4L416.5 579.1L418.3 578.9L420.2 578.6L422.0 578.4L423.9 578.1L425.7 577.8L427.6 577.6L429.5 577.3L431.4 577.1L433.3 576.8L435.2 576.6L437.1 576.3L439.0 576.0L440.9 575.8L442.8 575.5L444.7 575.3L446.7 575.0L448.6 574.8L450.5 574.5L452.5 574.2L454.5 574.0L456.4 573.7L458.4 573.5L460.4 573.2L462.4 573.0L464.3 572.7L466.3 572.5L468.3 572.2L470.3 572.0L472.4 571.7L474.4 571.5L476.4 571.2L478.4 571.0L480.5 570.7L482.5 570.5L484.6 570.2L486.6 570.0L486.6 570.3L486.6 570.9L486.6 571.2L486.6 571.7L486.6 572.2L486.5 572.8L486.5 573.5L486.5 574.2L486.5 575.0L486.4 575.8L486.4 576.8L486.3 577.7L486.3 578.8L486.3 579.9L486.2 581.1L486.2 582.3L486.1 583.6L486.0 584.9L486.0 586.3L485.9 587.8L485.8 589.3L485.8 590.9L485.7 592.5L485.6 594.2L485.5 595.9L485.5 597.7L485.4 599.5L485.3 601.3L485.2 603.3L485.1 605.2L485.0 607.2L484.9 609.3L484.7 611.4L484.6 613.5L484.5 615.6L484.4 617.8L484.3 620.1L484.1 622.4L484.0 624.7L483.8 627.0L483.7 629.4L483.5 631.8L483.4 634.2L483.2 636.6L483.1 639.1L482.9 641.6L482.7 644.1L482.6 646.6L482.4 649.2L482.2 651.8L482.0 654.4L481.8 657.0L481.7 659.6L481.5 662.2L481.3 664.8L481.0 667.5L480.8 670.1L480.6 672.8L480.4 675.5L480.2 678.1L480.0 680.8L479.7 683.5L479.5 686.2L479.2 688.8L479.0 691.5L478.8 694.2L478.5 696.8L478.2 699.5L478.0 702.1L477.7 704.8L477.4 707.4L477.2 710.0L476.9 712.7L476.6 715.3L476.3 717.8L476.0 720.4L475.7 723.0L475.4 725.5L475.1 728.0L474.8 730.5L474.5 733.0L474.2 735.5L473.9 738.0L473.5 740.4L473.2 742.8L472.9 745.2L472.5 747.6L472.2 749.9L471.8 752.2L471.5 754.5L471.1 756.8L470.7 759.0L470.4 761.2L470.0 763.4L469.6 765.6L469.2 767.7L468.8 769.8L468.4 771.9L468.0 774.0L467.6 776.0L467.2 778.0L466.8 780.0L466.4 781.9L466.0 783.8L465.5 785.7L465.1 787.6L464.7 789.4L464.2 791.2L463.8 793.0L463.3 794.7L462.9 796.4L462.4 798.1L462.0 799.7L461.5 801.4L461.0 802.9L460.5 804.5L460.1 806.0L459.6 807.5L459.1 809.0L458.6 810.4L458.1 811.8L457.6 813.2L457.0 814.6L456.5 815.9L456.0 817.2L455.5 818.5L454.9 819.7L454.4 820.9L453.9 822.1L453.3 823.2L452.8 824.4L452.2 825.5L451.6 826.5L451.1 827.6L450.5 828.6L449.9 829.6L449.3 830.6L448.7 831.5L448.1 832.4L447.5 833.3L446.9 834.2L446.3 835.0L445.7 835.9L445.1 836.7L444.5 837.4L443.8 838.2L443.2 838.9L442.6 839.6L441.9 840.3L441.3 841.0L440.6 841.7L440.0 842.3L439.3 842.9L438.6 843.5L438.0 844.1L437.3 844.6L436.6 845.2L435.9 845.7L435.2 846.2L434.5 846.7L433.8 847.2L433.1 847.6L432.4 848.0L431.6 848.5L430.9 848.9L430.2 849.3L429.5 849.7L428.7 850.0L428.0 850.4L427.2 850.7L426.4 851.0L425.7 851.4L424.9 851.7L424.1 852.0L423.4 852.2L422.6 852.5L421.8 852.8L421.0 853.0L420.2 853.2L419.4 853.5L418.6 853.7L417.8 853.9L416.9 854.1L416.1 854.2L415.3 854.4L414.4 854.6L413.6 854.7L412.8 854.9L411.9 855.0L411.0 855.1L410.2 855.3L409.3 855.4L408.4 855.5L407.6 855.6L406.7 855.7L405.8 855.8L404.9 855.8L404.0 855.9L403.1 856.0L402.2 856.0L401.2 856.1L400.3 856.1L399.4 856.2L398.5 856.2L397.5 856.2L396.6 856.2L395.6 856.3L394.7 856.3L393.7 856.3L392.7 856.3L391.8 856.3L390.8 856.3L389.8 856.2L388.8 856.2L387.8 856.2L386.8 856.2L385.8 856.2L384.8 856.1L383.8 856.1L382.8 856.1L381.7 856.0L380.7 856.0L379.7 855.9L378.6 855.9L377.6 855.8L376.5 855.7L375.5 855.7L374.4 855.6L373.3 855.6L372.2 855.5L371.2 855.4L370.1 855.3L369.0 855.2L367.9 855.2L366.8 855.1L365.7 855.0L364.5 854.9L363.4 854.8L362.3 854.7L361.2 854.5L360.0 854.4L358.9 854.3L357.7 854.2L356.6 854.1L355.4 853.9L354.2 853.8L353.1 853.7L351.9 853.5L350.7 853.4L349.5 853.2L348.3 853.1L347.1 852.9L345.9 852.8L344.7 852.6L343.5 852.5L342.3 852.3L341.0 852.1L339.8 852.0L338.6 851.8L337.3 851.6L336.1 851.5L334.8 851.3L333.5 851.1L332.3 850.9L331.0 850.8L329.7 850.6L328.4 850.4L327.1 850.2L325.8 850.0L324.5 849.8L323.2 849.6L321.9 849.4L320.6 849.2L319.3 848.9L317.9 848.7L316.6 848.5L315.3 848.3L313.9 848.0L312.6 847.8L311.2 847.5L309.8 847.3L308.5 847.1L307.1 846.8L305.7 846.6L304.3 846.3L302.9 846.1L301.5 845.8L300.1 845.6L298.7 845.3L297.3 845.1L295.8 844.8L294.4 844.6L293.0 844.4L291.5 844.1L290.1 843.9L288.6 843.7L287.2 843.5L285.7 843.3L284.2 843.1L282.8 842.9L281.3 842.7L279.8 842.5L278.3 842.3L276.8 842.1L275.3 841.9L273.8 841.7L272.2 841.5L270.7 841.3L269.2 841.2L267.7 841.0L266.1 840.8L264.6 840.6L263.0 840.4L261.5 840.2L259.9 840.0L258.3 839.8L256.7 839.5L255.2 839.3L253.6 839.1L252.0 838.9L250.4 838.6L248.8 838.4L247.1 838.1L245.5 837.8L243.9 837.6L242.3 837.3L240.6 837.0L239.0 836.7L237.3 836.4L235.7 836.1L234.0 835.8L232.4 835.5L230.7 835.2L229.0 834.9L227.3 834.6L225.6 834.3L223.9 834.0L222.2 833.7L220.5 833.4L218.8 833.1L217.1 832.9L215.4 832.6L213.6 832.3L211.9 832.1L210.2 831.8L208.4 831.6L206.6 831.3L204.9 831.1L203.1 830.8L201.3 830.6L199.6 830.3L197.8 830.0L196.0 829.8L194.2 829.5L192.4 829.3L190.6 829.0L188.7 828.8L186.9 828.5L185.1 828.3L183.3 828.1L181.4 827.8L179.6 827.6L177.7 827.4L175.9 827.2L174.0 827.0L172.1 826.8L170.2 826.6L168.3 826.4L166.5 826.2L164.6 826.1L162.7 825.9L160.8 825.8L158.8 825.7L156.9 825.6L155.0 825.5L153.1 825.4L151.1 825.3L149.2 825.2L147.2 825.0L145.3 824.9L143.3 824.8L141.3 824.7L139.4 824.7L137.4 824.6L135.4 824.5L133.4 824.4L131.4 824.3L129.4 824.3L127.4 824.2L125.3 824.1L123.3 824.1L121.3 824.0L119.3 824.0L117.2 824.0L115.2 824.0L113.1 824.0" fill="none" stroke="#7ca47c" stroke-width="1.5" stroke-linejoin="round"/>
<path d="M113.1 824.0L113.1 823.7L113.1 823.2L113.1 822.8L113.2 822.3L113.2 821.7L113.2 821.0L113.2 820.3L113.2 819.4L113.3 818.5L113.3 817.4L113.3 816.3L113.4 815.1L113.4 813.7L113.5 812.3L113.5 810.8L113.6 809.2L113.6 807.5L113.7 805.7L113.7 803.9L113.8 801.9L113.9 799.9L113.9 797.8L114.0 795.6L114.1 793.3L114.2 791.0L114.3 788.6L114.4 786.1L114.5 783.6L114.6 781.0L114.7 778.3L114.8 775.6L114.9 772.9L115.0 770.1L115.1 767.2L115.2 764.3L115.3 761.4L115.5 758.5L115.6 755.5L115.7 752.5L115.9 749.5L116.0 746.4L116.2 743.4L116.3 740.3L116.5 737.3L116.6 734.2L116.8 731.2L117.0 728.1L117.1 725.1L117.3 722.1L117.5 719.1L117.7 716.1L117.9 713.1L118.1 710.2L118.3 707.3L118.5 704.4L118.7 701.6L118.9 698.8L119.1 696.0L119.3 693.3L119.5 690.6L119.8 688.0L120.0 685.4L120.2 682.9L120.5 680.5L120.7 678.1L121.0 675.7L121.2 673.5L121.5 671.3L121.7 669.1L122.0 667.0L122.3 665.0L122.5 663.0L122.8 661.1L123.1 659.2L123.4 657.4L123.7 655.7L124.0 654.0L124.3 652.3L124.6 650.7L124.9 649.2L125.2 647.8L125.5 646.3L125.9 645.0L126.2 643.7L126.5 642.4L126.9 641.2L127.2 640.1L127.6 639.0L127.9 637.9L128.3 636.9L128.6 635.9L129.0 635.0L129.4 634.1L129.7 633.3L130.1 632.5L130.5 631.7L130.9 631.0L131.3 630.3L131.7 629.6L132.1 629.0L132.5 628.4L132.9 627.9L133.3 627.3L133.7 626.8L134.2 626.4L134.6 625.9L135.0 625.5L135.5 625.1L135.9 624.7L136.4 624.4L136.8 624.0L137.3 623.7L137.8 623.4L138.2 623.1L138.7 622.9L139.2 622.6L139.7 622.4L140.2 622.2L140.7 621.9L141.2 621.8L141.7 621.6L142.2 621.4L142.7 621.2L143.2 621.1L143.7 620.9L144.3 620.8L144.8 620.6L145.3 620.5L145.9 620.4L146.4 620.3L147.0 620.1L147.5 620.0L148.1 619.9L148.7 619.8L149.2 619.7L149.8 619.6L150.4 619.5L151.0 619.4L151.6 619.3L152.2 619.2L152.8 619.2L153.4 619.1L154.0 619.0L154.6 618.9L155.2 618.8L155.9 618.7L156.5 618.6L157.1 618.4L157.8 618.3L158.4 618.2L159.1 618.1L159.8 618.0L160.4 617.9L161.1 617.7L161.8 617.6L162.4 617.5L163.1 617.4L163.8 617.3L164.5 617.1L165.2 617.0L165.9 616.9L166.6 616.7L167.4 616.6L168.1 616.5L168.8 616.3L169.5 616.2L170.3 616.1L171.0 615.9L171.8 615.8L172.5 615.6L173.3 615.5L174.0 615.3L174.8 615.2L175.6 615.0L176.4 614.9L177.1 614.7L177.9 614.6L178.7 614.4L179.5 614.3L180.3 614.1L181.1 613.9L182.0 613.8L182.8 613.6L183.6 613.4L184.4 613.3L185.3 613.1L186.1 612.9L187.0 612.8L187.8 612.6L188.7 612.4L189.5 612.3L190.4 612.1L191.3 611.9L192.2 611.7L193.1 611.5L193.9 611.4L194.8 611.2L195.7 611.0L196.7 610.8L197.6 610.6L198.5 610.5L199.4 610.3L200.3 610.1L201.3 609.9L202.2 609.7L203.2 609.5L204.1 609.3L205.1 609.2L206.0 609.0L207.0 608.8L208.0 608.6L208.9 608.4L209.9 608.2L210.9 608.0L211.9 607.9L212.9 607.7L213.9 607.5L214.9 607.3L215.9 607.1L217.0 606.9L218.0 606.7L219.0 606.6L220.1 606.4L221.1 606.2L222.2 606.0L223.2 605.8L224.3 605.6L225.3 605.4L226.4 605.2L227.5 605.0L228.6 604.8L229.7 604.6L230.7 604.4L231.8 604.2L233.0 604.0L234.1 603.9L235.2 603.7L236.3 603.5L237.4 603.3L238.6 603.1L239.7 602.9L240.8 602.6L242.0 602.4L243.1 602.2L244.3 602.0L245.5 601.8L246.6 601.6L247.8 601.4L249.0 601.2L250.2 601.0L251.4 600.8L252.6 600.6L253.8 600.4L255.0 600.2L256.2 600.0L257.5 599.7L258.7 599.5L259.9 599.3L261.2 599.1L262.4 598.9L263.7 598.7L264.9 598.5L266.2 598.2L267.4 598.0L268.7 597.8L270.0 597.6L271.3 597.4L272.6 597.1L273.9 596.9L275.2 596.7L276.5 596.5L277.8 596.2L279.1 596.0L280.5 595.8L281.8 595.6L283.1 595.3L284.5 595.1L285.8 594.9L287.2 594.6L288.5 594.4L289.9 594.2L291.3 594.0L292.6 593.7L294.0 593.5L295.4 593.2L296.8 593.0L298.2 592.8L299.6 592.5L301.0 592.3L302.5 592.0L303.9 591.8L305.3 591.6L306.7 591.3L308.2 591.1L309.6 590.8L311.1 590.6L312.6 590.3L314.0 590.1L315.5 589.8L317.0 589.6L318.5 589.3L319.9 589.1L321.4 588.8L322.9 588.6L324.4 588.3L326.0 588.1L327.5 587.8L329.0 587.5L330.5 587.3L332.1 587.0L333.6 586.8L335.2 586.5L336.7 586.3L338.3 586.0L339.8 585.7L341.4 585.5L343.0 585.2L344.6 585.0L346.2 584.7L347.7 584.4L349.4 584.2L351.0 583.9L352.6 583.6L354.2 583.4L355.8 583.1L357.4 582.9L359.1 582.6L360.7 582.3L362.4 582.1L364.0 581.8L365.7 581.6L367.4 581.3L369.0 581.0L370.7 580.8L372.4 580.5L374.1 580.3L375.8 580.0L377.5 579.7L379.2 579.5L380.9 579.2L382.6 579.0L384.4 578.7L386.1 578.4L387.8 578.2L389.6 577.9L391.3 577.7L393.1 577.4L394.8 577.2L396.6 576.9L398.4 576.6L400.2 576.4L402.0 576.1L403.7 575.9L405.5 575.6L407.3 575.3L409.2 575.1L411.0 574.8L412.8 574.6L414.6 574.3L416.5 574.0L418.3 573.8L420.2 573.5L422.0 573.3L423.9 573.0L425.7 572.7L427.6 572.5L429.5 572.2L431.4 572.0L433.3 571.7L435.2 571.4L437.1 571.2L439.0 570.9L440.9 570.7L442.8 570.4L444.7 570.2L446.7 569.9L448.6 569.6L450.5 569.4L452.5 569.1L454.5 568.9L456.4 568.6L458.4 568.4L460.4 568.1L462.4 567.8L464.3 567.6L466.3 567.3L468.3 567.1L470.3 566.8L472.4 566.6L474.4 566.3L476.4 566.1L478.4 565.8L480.5 565.6L482.5 565.3L484.6 565.1L486.6 564.8L486.6 565.1L486.6 565.4L486.6 565.9L486.6 566.4L486.6 567.1L486.6 567.9L486.6 568.8L486.5 569.9L486.5 571.1L486.5 572.3L486.5 573.7L486.4 575.2L486.4 576.8L486.3 578.5L486.3 580.4L486.3 582.3L486.2 584.3L486.2 586.4L486.1 588.6L486.0 590.9L486.0 593.3L485.9 595.8L485.8 598.4L485.8 601.0L485.7 603.7L485.6 606.5L485.5 609.4L485.5 612.3L485.4 615.3L485.3 618.4L485.2 621.5L485.1 624.7L485.0 627.9L484.9 631.2L484.7 634.5L484.6 637.9L484.5 641.3L484.4 644.7L484.3 648.2L484.1 651.7L484.0 655.2L483.8 658.7L483.7 662.3L483.5 665.9L483.4 669.5L483.2 673.1L483.1 676.7L482.9 680.3L482.7 683.9L482.6 687.5L482.4 691.1L482.2 694.7L482.0 698.3L481.8 701.8L481.7 705.4L481.5 708.9L481.3 712.4L481.0 715.9L480.8 719.4L480.6 722.8L480.4 726.2L480.2 729.6L480.0 732.9L479.7 736.2L479.5 739.5L479.2 742.7L479.0 745.9L478.8 749.1L478.5 752.2L478.2 755.3L478.0 758.3L477.7 761.2L477.4 764.2L477.2 767.0L476.9 769.9L476.6 772.6L476.3 775.4L476.0 778.0L475.7 780.7L475.4 783.2L475.1 785.8L474.8 788.2L474.5 790.6L474.2 793.0L473.9 795.3L473.5 797.6L473.2 799.8L472.9 801.9L472.5 804.0L472.2 806.1L471.8 808.1L471.5 810.0L471.1 811.9L470.7 813.7L470.4 815.5L470.0 817.3L469.6 818.9L469.2 820.6L468.8 822.2L468.4 823.7L468.0 825.2L467.6 826.7L467.2 828.1L466.8 829.4L466.4 830.8L466.0 832.0L465.5 833.3L465.1 834.5L464.7 835.6L464.2 836.7L463.8 837.8L463.3 838.8L462.9 839.8L462.4 840.8L462.0 841.7L461.5 842.6L461.0 843.5L460.5 844.3L460.1 845.1L459.6 845.8L459.1 846.6L458.6 847.3L458.1 847.9L457.6 848.6L457.0 849.2L456.5 849.8L456.0 850.3L455.5 850.9L454.9 851.4L454.4 851.9L453.9 852.3L453.3 852.8L452.8 853.2L452.2 853.6L451.6 854.0L451.1 854.3L450.5 854.7L449.9 855.0L449.3 855.3L448.7 855.6L448.1 855.9L447.5 856.2L446.9 856.4L446.3 856.6L445.7 856.9L445.1 857.1L444.5 857.3L443.8 857.5L443.2 857.6L442.6 857.8L441.9 857.9L441.3 858.1L440.6 858.2L440.0 858.3L439.3 858.4L438.6 858.5L438.0 858.6L437.3 858.7L436.6 858.8L435.9 858.9L435.2 859.0L434.5 859.0L433.8 859.1L433.1 859.1L432.4 859.2L431.6 859.2L430.9 859.3L430.2 859.3L429.5 859.3L428.7 859.3L428.0 859.4L427.2 859.4L426.4 859.4L425.7 859.4L424.9 859.4L424.1 859.4L423.4 859.4L422.6 859.4L421.8 859.4L421.0 859.4L420.2 859.4L419.4 859.4L418.6 859.3L417.8 859.3L416.9 859.3L416.1 859.3L415.3 859.2L414.4 859.2L413.6 859.2L412.8 859.1L411.9 859.1L411.0 859.1L410.2 859.0L409.3 859.0L408.4 858.9L407.6 858.9L406.7 858.8L405.8 858.8L404.9 858.7L404.0 858.7L403.1 858.6L402.2 858.5L401.2 858.5L400.3 858.4L399.4 858.4L398.5 858.3L397.5 858.2L396.6 858.2L395.6 858.1L394.7 858.0L393.7 857.9L392.7 857.9L391.8 857.8L390.8 857.7L389.8 857.6L388.8 857.5L387.8 857.5L386.8 857.4L385.8 857.3L384.8 857.2L383.8 857.1L382.8 857.0L381.7 856.9L380.7 856.8L379.7 856.8L378.6 856.7L377.6 856.6L376.5 856.5L375.5 856.4L374.4 856.3L373.3 856.2L372.2 856.1L371.2 856.0L370.1 855.9L369.0 855.7L367.9 855.6L366.8 855.5L365.7 855.4L364.5 855.3L363.4 855.1L362.3 855.0L361.2 854.9L360.0 854.8L358.9 854.6L357.7 854.5L356.6 854.3L355.4 854.2L354.2 854.0L353.1 853.9L351.9 853.7L350.7 853.6L349.5 853.4L348.3 853.3L347.1 853.1L345.9 852.9L344.7 852.8L343.5 852.6L342.3 852.4L341.0 852.3L339.8 852.1L338.6 851.9L337.3 851.7L336.1 851.6L334.8 851.4L333.5 851.2L332.3 851.0L331.0 850.8L329.7 850.7L328.4 850.5L327.1 850.3L325.8 850.1L324.5 849.9L323.2 849.7L321.9 849.4L320.6 849.2L319.3 849.0L317.9 848.8L316.6 848.5L315.3 848.3L313.9 848.1L312.6 847.8L311.2 847.6L309.8 847.3L308.5 847.1L307.1 846.8L305.7 846.6L304.3 846.3L302.9 846.1L301.5 845.8L300.1 845.6L298.7 845.3L297.3 845.1L295.8 844.9L294.4 844.6L293.0 844.4L291.5 844.2L290.1 843.9L288.6 843.7L287.2 843.5L285.7 843.3L284.2 843.1L282.8 842.9L281.3 842.7L279.8 842.5L278.3 842.3L276.8 842.1L275.3 841.9L273.8 841.7L272.2 841.5L270.7 841.3L269.2 841.2L267.7 841.0L266.1 840.8L264.6 840.6L263.0 840.4L261.5 840.2L259.9 840.0L258.3 839.8L256.7 839.5L255.2 839.3L253.6 839.1L252.0 838.9L250.4 838.6L248.8 838.4L247.1 838.1L245.5 837.8L243.9 837.6L242.3 837.3L240.6 837.0L239.0 836.7L237.3 836.4L235.7 836.1L234.0 835.8L232.4 835.5L230.7 835.2L229.0 834.9L227.3 834.6L225.6 834.3L223.9 834.0L222.2 833.7L220.5 833.4L218.8 833.1L217.1 832.9L215.4 832.6L213.6 832.3L211.9 832.1L210.2 831.8L208.4 831.6L206.6 831.3L204.9 831.1L203.1 830.8L201.3 830.6L199.6 830.3L197.8 830.0L196.0 829.8L194.2 829.5L192.4 829.3L190.6 829.0L188.7 828.8L186.9 828.5L185.1 828.3L183.3 828.1L181.4 827.8L179.6 827.6L177.7 827.4L175.9 827.2L174.0 827.0L172.1 826.8L170.2 826.6L168.3 826.4L166.5 826.2L164.6 826.1L162.7 825.9L160.8 825.8L158.8 825.7L156.9 825.6L155.0 825.5L153.1 825.4L151.1 825.3L149.2 825.2L147.2 825.0L145.3 824.9L143.3 824.8L141.3 824.7L139.4 824.7L137.4 824.6L135.4 824.5L133.4 824.4L131.4 824.3L129.4 824.3L127.4 824.2L125.3 824.1L123.3 824.1L121.3 824.0L119.3 824.0L117.2 824.0L115.2 824.0L113.1 824.0" fill="none" stroke="#807cca" stroke-width="1.5" stroke-linejoin="round"/>
<path d="M113.1 824.0L113.1 823.5L113.1 823.1L113.1 822.5L113.1 821.8L113.2 820.9L113.2 819.9L113.2 818.7L113.2 817.3L113.2 815.8L113.3 814.1L113.3 812.2L113.3 810.2L113.4 808.1L113.4 805.8L113.5 803.3L113.5 800.7L113.6 798.0L113.6 795.1L113.7 792.1L113.7 789.0L113.8 785.8L113.9 782.4L113.9 779.0L114.0 775.5L114.1 771.8L114.2 768.2L114.3 764.4L114.4 760.6L114.5 756.8L114.6 752.9L114.7 748.9L114.8 745.0L114.9 741.0L115.0 737.1L115.1 733.1L115.2 729.1L115.3 725.2L115.5 721.3L115.6 717.4L115.7 713.5L115.9 709.7L116.0 706.0L116.2 702.3L116.3 698.7L116.5 695.1L116.6 691.6L116.8 688.2L117.0 684.9L117.1 681.7L117.3 678.5L117.5 675.4L117.7 672.5L117.9 669.6L118.1 666.8L118.3 664.1L118.5 661.5L118.7 659.0L118.9 656.7L119.1 654.4L119.3 652.2L119.5 650.1L119.8 648.1L120.0 646.2L120.2 644.4L120.5 642.7L120.7 641.1L121.0 639.5L121.2 638.1L121.5 636.8L121.7 635.5L122.0 634.3L122.3 633.2L122.5 632.1L122.8 631.1L123.1 630.2L123.4 629.3L123.7 628.5L124.0 627.7L124.3 627.0L124.6 626.4L124.9 625.7L125.2 625.2L125.5 624.6L125.9 624.1L126.2 623.7L126.5 623.2L126.9 622.8L127.2 622.4L127.6 622.1L127.9 621.8L128.3 621.5L128.6 621.2L129.0 620.9L129.4 620.7L129.7 620.5L130.1 620.2L130.5 620.1L130.9 619.9L131.3 619.7L131.7 619.5L132.1 619.4L132.5 619.2L132.9 619.1L133.3 619.0L133.7 618.9L134.2 618.7L134.6 618.6L135.0 618.5L135.5 618.4L135.9 618.3L136.4 618.2L136.8 618.2L137.3 618.1L137.8 618.0L138.2 617.9L138.7 617.8L139.2 617.8L139.7 617.7L140.2 617.6L140.7 617.5L141.2 617.5L141.7 617.4L142.2 617.3L142.7 617.3L143.2 617.2L143.7 617.1L144.3 617.1L144.8 617.0L145.3 616.9L145.9 616.9L146.4 616.8L147.0 616.7L147.5 616.7L148.1 616.6L148.7 616.5L149.2 616.5L149.8 616.4L150.4 616.3L151.0 616.2L151.6 616.2L152.2 616.1L152.8 616.0L153.4 615.9L154.0 615.8L154.6 615.7L155.2 615.6L155.9 615.5L156.5 615.4L157.1 615.3L157.8 615.2L158.4 615.1L159.1 614.9L159.8 614.8L160.4 614.7L161.1 614.6L161.8 614.4L162.4 614.3L163.1 614.2L163.8 614.0L164.5 613.9L165.2 613.8L165.9 613.6L166.6 613.5L167.4 613.3L168.1 613.2L168.8 613.0L169.5 612.9L170.3 612.7L171.0 612.6L171.8 612.4L172.5 612.3L173.3 612.1L174.0 611.9L174.8 611.8L175.6 611.6L176.4 611.5L177.1 611.3L177.9 611.1L178.7 610.9L179.5 610.8L180.3 610.6L181.1 610.4L182.0 610.3L182.8 610.1L183.6 609.9L184.4 609.7L185.3 609.5L186.1 609.4L187.0 609.2L187.8 609.0L188.7 608.8L189.5 608.6L190.4 608.4L191.3 608.2L192.2 608.0L193.1 607.9L193.9 607.7L194.8 607.5L195.7 607.3L196.7 607.1L197.6 606.9L198.5 606.7L199.4 606.5L200.3 606.3L201.3 606.1L202.2 605.9L203.2 605.7L204.1 605.5L205.1 605.3L206.0 605.1L207.0 604.9L208.0 604.7L208.9 604.5L209.9 604.3L210.9 604.1L211.9 603.9L212.9 603.7L213.9 603.5L214.9 603.4L215.9 603.2L217.0 603.0L218.0 602.8L219.0 602.6L220.1 602.4L221.1 602.2L222.2 602.0L223.2 601.8L224.3 601.6L225.3 601.4L226.4 601.2L227.5 601.0L228.6 600.7L229.7 600.5L230.7 600.3L231.8 600.1L233.0 599.9L234.1 599.7L235.2 599.5L236.3 599.3L237.4 599.1L238.6 598.9L239.7 598.7L240.8 598.5L242.0 598.3L243.1 598.0L244.3 597.8L245.5 597.6L246.6 597.4L247.8 597.2L249.0 597.0L250.2 596.8L251.4 596.5L252.6 596.3L253.8 596.1L255.0 595.9L256.2 595.7L257.5 595.5L258.7 595.2L259.9 595.0L261.2 594.8L262.4 594.6L263.7 594.3L264.9 594.1L266.2 593.9L267.4 593.7L268.7 593.4L270.0 593.2L271.3 593.0L272.6 592.8L273.9 592.5L275.2 592.3L276.5 592.1L277.8 591.9L279.1 591.6L280.5 591.4L281.8 591.2L283.1 590.9L284.5 590.7L285.8 590.5L287.2 590.2L288.5 590.0L289.9 589.7L291.3 589.5L292.6 589.3L294.0 589.0L295.4 588.8L296.8 588.5L298.2 588.3L299.6 588.0L301.0 587.8L302.5 587.6L303.9 587.3L305.3 587.1L306.7 586.8L308.2 586.6L309.6 586.3L311.1 586.1L312.6 585.8L314.0 585.6L315.5 585.3L317.0 585.0L318.5 584.8L319.9 584.5L321.4 584.3L322.9 584.0L324.4 583.8L326.0 583.5L327.5 583.2L329.0 583.0L330.5 582.7L332.1 582.5L333.6 582.2L335.2 581.9L336.7 581.7L338.3 581.4L339.8 581.2L341.4 580.9L343.0 580.6L344.6 580.4L346.2 580.1L347.7 579.8L349.4 579.6L351.0 579.3L352.6 579.0L354.2 578.8L355.8 578.5L357.4 578.3L359.1 578.0L360.7 577.7L362.4 577.5L364.0 577.2L365.7 576.9L367.4 576.7L369.0 576.4L370.7 576.1L372.4 575.9L374.1 575.6L375.8 575.4L377.5 575.1L379.2 574.8L380.9 574.6L382.6 574.3L384.4 574.1L386.1 573.8L387.8 573.5L389.6 573.3L391.3 573.0L393.1 572.8L394.8 572.5L396.6 572.2L398.4 572.0L400.2 571.7L402.0 571.5L403.7 571.2L405.5 570.9L407.3 570.7L409.2 570.4L411.0 570.2L412.8 569.9L414.6 569.6L416.5 569.4L418.3 569.1L420.2 568.8L422.0 568.6L423.9 568.3L425.7 568.1L427.6 567.8L429.5 567.5L431.4 567.3L433.3 567.0L435.2 566.8L437.1 566.5L439.0 566.2L440.9 566.0L442.8 565.7L444.7 565.5L446.7 565.2L448.6 565.0L450.5 564.7L452.5 564.4L454.5 564.2L456.4 563.9L458.4 563.7L460.4 563.4L462.4 563.2L464.3 562.9L466.3 562.6L468.3 562.4L470.3 562.1L472.4 561.9L474.4 561.6L476.4 561.4L478.4 561.1L480.5 560.9L482.5 560.6L484.6 560.4L486.6 560.1L486.6 560.4L486.6 560.8L486.6 561.4L486.6 562.3L486.6 563.3L486.6 564.6L486.6 566.1L486.5 567.9L486.5 569.9L486.5 572.1L486.5 574.6L486.4 577.3L486.4 580.2L486.3 583.4L486.3 586.8L486.3 590.4L486.2 594.2L486.2 598.2L486.1 602.4L486.0 606.8L486.0 611.4L485.9 616.1L485.8 621.0L485.8 626.1L485.7 631.2L485.6 636.5L485.5 642.0L485.5 647.5L485.4 653.1L485.3 658.7L485.2 664.5L485.1 670.2L485.0 676.0L484.9 681.9L484.7 687.7L484.6 693.6L484.5 699.4L484.4 705.2L484.3 711.0L484.1 716.7L484.0 722.3L483.8 727.9L483.7 733.5L483.5 738.9L483.4 744.2L483.2 749.5L483.1 754.6L482.9 759.6L482.7 764.5L482.6 769.3L482.4 773.9L482.2 778.4L482.0 782.8L481.8 787.0L481.7 791.1L481.5 795.1L481.3 798.9L481.0 802.5L480.8 806.0L480.6 809.4L480.4 812.6L480.2 815.7L480.0 818.6L479.7 821.4L479.5 824.1L479.2 826.6L479.0 829.0L478.8 831.3L478.5 833.4L478.2 835.4L478.0 837.3L477.7 839.1L477.4 840.8L477.2 842.4L476.9 843.9L476.6 845.3L476.3 846.6L476.0 847.8L475.7 848.9L475.4 850.0L475.1 850.9L474.8 851.8L474.5 852.7L474.2 853.4L473.9 854.2L473.5 854.8L473.2 855.4L472.9 856.0L472.5 856.5L472.2 856.9L471.8 857.4L471.5 857.8L471.1 858.1L470.7 858.4L470.4 858.7L470.0 859.0L469.6 859.2L469.2 859.5L468.8 859.7L468.4 859.8L468.0 860.0L467.6 860.1L467.2 860.3L466.8 860.4L466.4 860.5L466.0 860.6L465.5 860.7L465.1 860.7L464.7 860.8L464.2 860.9L463.8 860.9L463.3 861.0L462.9 861.0L462.4 861.0L462.0 861.1L461.5 861.1L461.0 861.1L460.5 861.1L460.1 861.2L459.6 861.2L459.1 861.2L458.6 861.2L458.1 861.2L457.6 861.2L457.0 861.2L456.5 861.2L456.0 861.2L455.5 861.2L454.9 861.2L454.4 861.2L453.9 861.2L453.3 861.2L452.8 861.1L452.2 861.1L451.6 861.1L451.1 861.1L450.5 861.1L449.9 861.1L449.3 861.1L448.7 861.0L448.1 861.0L447.5 861.0L446.9 861.0L446.3 861.0L445.7 860.9L445.1 860.9L444.5 860.9L443.8 860.9L443.2 860.8L442.6 860.8L441.9 860.8L441.3 860.8L440.6 860.7L440.0 860.7L439.3 860.7L438.6 860.6L438.0 860.6L437.3 860.6L436.6 860.6L435.9 860.5L435.2 860.5L434.5 860.5L433.8 860.4L433.1 860.4L432.4 860.4L431.6 860.3L430.9 860.3L430.2 860.2L429.5 860.2L428.7 860.2L428.0 860.1L427.2 860.1L426.4 860.1L425.7 860.0L424.9 860.0L424.1 860.0L423.4 859.9L422.6 859.9L421.8 859.8L421.0 859.8L420.2 859.8L419.4 859.7L418.6 859.7L417.8 859.6L416.9 859.6L416.1 859.5L415.3 859.5L414.4 859.4L413.6 859.4L412.8 859.3L411.9 859.3L411.0 859.2L410.2 859.2L409.3 859.1L408.4 859.1L407.6 859.0L406.7 858.9L405.8 858.9L404.9 858.8L404.0 858.8L403.1 858.7L402.2 858.6L401.2 858.6L400.3 858.5L399.4 858.4L398.5 858.3L397.5 858.3L396.6 858.2L395.6 858.1L394.7 858.0L393.7 858.0L392.7 857.9L391.8 857.8L390.8 857.7L389.8 857.6L388.8 857.6L387.8 857.5L386.8 857.4L385.8 857.3L384.8 857.2L383.8 857.1L382.8 857.0L381.7 856.9L380.7 856.9L379.7 856.8L378.6 856.7L377.6 856.6L376.5 856.5L375.5 856.4L374.4 856.3L373.3 856.2L372.2 856.1L371.2 856.0L370.1 855.9L369.0 855.7L367.9 855.6L366.8 855.5L365.7 855.4L364.5 855.3L363.4 855.1L362.3 855.0L361.2 854.9L360.0 854.8L358.9 854.6L357.7 854.5L356.6 854.3L355.4 854.2L354.2 854.0L353.1 853.9L351.9 853.7L350.7 853.6L349.5 853.4L348.3 853.3L347.1 853.1L345.9 852.9L344.7 852.8L343.5 852.6L342.3 852.4L341.0 852.3L339.8 852.1L338.6 851.9L337.3 851.7L336.1 851.6L334.8 851.4L333.5 851.2L332.3 851.0L331.0 850.8L329.7 850.7L328.4 850.5L327.1 850.3L325.8 850.1L324.5 849.9L323.2 849.7L321.9 849.4L320.6 849.2L319.3 849.0L317.9 848.8L316.6 848.5L315.3 848.3L313.9 848.1L312.6 847.8L311.2 847.6L309.8 847.3L308.5 847.1L307.1 846.8L305.7 846.6L304.3 846.3L302.9 846.1L301.5 845.8L300.1 845.6L298.7 845.3L297.3 845.1L295.8 844.9L294.4 844.6L293.0 844.4L291.5 844.2L290.1 843.9L288.6 843.7L287.2 843.5L285.7 843.3L284.2 843.1L282.8 842.9L281.3 842.7L279.8 842.5L278.3 842.3L276.8 842.1L275.3 841.9L273.8 841.7L272.2 841.5L270.7 841.3L269.2 841.2L267.7 841.0L266.1 840.8L264.6 840.6L263.0 840.4L261.5 840.2L259.9 840.0L258.3 839.8L256.7 839.5L255.2 839.3L253.6 839.1L252.0 838.9L250.4 838.6L248.8 838.4L247.1 838.1L245.5 837.8L243.9 837.6L242.3 837.3L240.6 837.0L239.0 836.7L237.3 836.4L235.7 836.1L234.0 835.8L232.4 835.5L230.7 835.2L229.0 834.9L227.3 834.6L225.6 834.3L223.9 834.0L222.2 833.7L220.5 833.4L218.8 833.1L217.1 832.9L215.4 832.6L213.6 832.3L211.9 832.1L210.2 831.8L208.4 831.6L206.6 831.3L204.9 831.1L203.1 830.8L201.3 830.6L199.6 830.3L197.8 830.0L196.0 829.8L194.2 829.5L192.4 829.3L190.6 829.0L188.7 828.8L186.9 828.5L185.1 828.3L183.3 828.1L181.4 827.8L179.6 827.6L177.7 827.4L175.9 827.2L174.0 827.0L172.1 826.8L170.2 826.6L168.3 826.4L166.5 826.2L164.6 826.1L162.7 825.9L160.8 825.8L158.8 825.7L156.9 825.6L155.0 825.5L153.1 825.4L151.1 825.3L149.2 825.2L147.2 825.0L145.3 824.9L143.3 824.8L141.3 824.7L139.4 824.7L137.4 824.6L135.4 824.5L133.4 824.4L131.4 824.3L129.4 824.3L127.4 824.2L125.3 824.1L123.3 824.1L121.3 824.0L119.3 824.0L117.2 824.0L115.2 824.0L113.1 824.0" fill="none" stroke="#de8696" stroke-width="1.5" stroke-linejoin="round"/>
<path d="M113.1 824.0L113.1 823.3L113.1 822.4L113.1 821.0L113.1 819.1L113.1 816.8L113.2 813.9L113.2 810.6L113.2 806.8L113.2 802.6L113.2 798.0L113.3 792.9L113.3 787.6L113.3 781.9L113.4 775.9L113.4 769.6L113.5 763.2L113.5 756.6L113.6 749.9L113.6 743.2L113.7 736.4L113.7 729.7L113.8 723.0L113.9 716.4L113.9 710.0L114.0 703.8L114.1 697.7L114.2 691.9L114.3 686.3L114.4 680.9L114.5 675.9L114.6 671.1L114.7 666.6L114.8 662.4L114.9 658.5L115.0 654.9L115.1 651.5L115.2 648.5L115.3 645.6L115.5 643.1L115.6 640.8L115.7 638.7L115.9 636.8L116.0 635.0L116.2 633.5L116.3 632.1L116.5 630.9L116.6 629.8L116.8 628.9L117.0 628.0L117.1 627.3L117.3 626.6L117.5 626.0L117.7 625.5L117.9 625.0L118.1 624.6L118.3 624.2L118.5 623.8L118.7 623.5L118.9 623.2L119.1 623.0L119.5 622.5L120.0 622.2L120.5 621.9L121.0 621.6L121.2 621.5L121.5 621.4L121.7 621.3L122.0 621.2L122.3 621.1L122.5 621.1L122.8 621.0L123.1 620.9L123.4 620.8L123.7 620.7L124.0 620.6L124.3 620.5L124.6 620.5L124.9 620.4L125.2 620.3L125.5 620.2L125.9 620.1L126.2 620.0L126.5 619.9L126.9 619.9L127.2 619.8L127.6 619.7L127.9 619.6L128.3 619.5L128.6 619.5L129.0 619.4L129.4 619.3L129.7 619.2L130.1 619.1L130.5 619.1L130.9 619.0L131.3 618.9L131.7 618.8L132.1 618.8L132.5 618.7L132.9 618.6L133.3 618.6L133.7 618.5L134.2 618.4L134.6 618.3L135.0 618.3L135.5 618.2L135.9 618.1L136.4 618.1L136.8 618.0L137.3 617.9L137.8 617.9L138.2 617.8L138.7 617.7L139.2 617.7L139.7 617.6L140.2 617.5L140.7 617.5L141.2 617.4L141.7 617.4L142.2 617.3L142.7 617.2L143.2 617.2L143.7 617.1L144.3 617.0L144.8 617.0L145.3 616.9L145.9 616.8L146.4 616.8L147.0 616.7L147.5 616.6L148.1 616.6L148.7 616.5L149.2 616.4L149.8 616.4L150.4 616.3L151.0 616.2L151.6 616.1L152.2 616.0L152.8 616.0L153.4 615.9L154.0 615.8L154.6 615.7L155.2 615.6L155.9 615.5L156.5 615.4L157.1 615.3L157.8 615.2L158.4 615.0L159.1 614.9L159.8 614.8L160.4 614.7L161.1 614.5L161.8 614.4L162.4 614.3L163.1 614.1L163.8 614.0L164.5 613.9L165.2 613.7L165.9 613.6L166.6 613.4L167.4 613.3L168.1 613.1L168.8 613.0L169.5 612.8L170.3 612.7L171.0 612.5L171.8 612.4L172.5 612.2L173.3 612.1L174.0 611.9L174.8 611.7L175.6 611.6L176.4 611.4L177.1 611.2L177.9 611.1L178.7 610.9L179.5 610.7L180.3 610.6L181.1 610.4L182.0 610.2L182.8 610.0L183.6 609.9L184.4 609.7L185.3 609.5L186.1 609.3L187.0 609.1L187.8 608.9L188.7 608.8L189.5 608.6L190.4 608.4L191.3 608.2L192.2 608.0L193.1 607.8L193.9 607.6L194.8 607.4L195.7 607.2L196.7 607.0L197.6 606.8L198.5 606.6L199.4 606.4L200.3 606.2L201.3 606.0L202.2 605.8L203.2 605.6L204.1 605.4L205.1 605.2L206.0 605.0L207.0 604.9L208.0 604.7L208.9 604.5L209.9 604.3L210.9 604.1L211.9 603.9L212.9 603.7L213.9 603.5L214.9 603.3L215.9 603.1L217.0 602.9L218.0 602.7L219.0 602.5L220.1 602.3L221.1 602.1L222.2 601.9L223.2 601.7L224.3 601.5L225.3 601.3L226.4 601.1L227.5 600.8L228.6 600.6L229.7 600.4L230.7 600.2L231.8 600.0L233.0 599.8L234.1 599.6L235.2 599.4L236.3 599.2L237.4 599.0L238.6 598.8L239.7 598.5L240.8 598.3L242.0 598.1L243.1 597.9L244.3 597.7L245.5 597.5L246.6 597.3L247.8 597.0L249.0 596.8L250.2 596.6L251.4 596.4L252.6 596.2L253.8 595.9L255.0 595.7L256.2 595.5L257.5 595.3L258.7 595.0L259.9 594.8L261.2 594.6L262.4 594.4L263.7 594.1L264.9 593.9L266.2 593.7L267.4 593.4L268.7 593.2L270.0 593.0L271.3 592.7L272.6 592.5L273.9 592.3L275.2 592.0L276.5 591.8L277.8 591.6L279.1 591.3L280.5 591.1L281.8 590.8L283.1 590.6L284.5 590.4L285.8 590.1L287.2 589.9L288.5 589.6L289.9 589.4L291.3 589.1L292.6 588.9L294.0 588.6L295.4 588.4L296.8 588.1L298.2 587.9L299.6 587.6L301.0 587.3L302.5 587.1L303.9 586.8L305.3 586.6L306.7 586.3L308.2 586.0L309.6 585.8L311.1 585.5L312.6 585.2L314.0 585.0L315.5 584.7L317.0 584.4L318.5 584.1L319.9 583.9L321.4 583.6L322.9 583.3L324.4 583.0L326.0 582.7L327.5 582.5L329.0 582.2L330.5 581.9L332.1 581.6L333.6 581.3L335.2 581.0L336.7 580.7L338.3 580.4L339.8 580.1L341.4 579.8L343.0 579.5L344.6 579.2L346.2 578.9L347.7 578.6L349.4 578.3L351.0 578.0L352.6 577.7L354.2 577.4L355.8 577.1L357.4 576.8L359.1 576.5L360.7 576.2L362.4 575.9L364.0 575.5L365.7 575.2L367.4 574.9L369.0 574.6L370.7 574.2L372.4 573.9L374.1 573.6L375.8 573.2L377.5 572.9L379.2 572.6L380.9 572.2L382.6 571.9L384.4 571.5L386.1 571.2L387.8 570.8L389.6 570.5L391.3 570.1L393.1 569.7L394.8 569.4L396.6 569.0L398.4 568.6L400.2 568.2L402.0 567.8L403.7 567.4L405.5 567.0L407.3 566.6L409.2 566.2L411.0 565.8L412.8 565.4L414.6 564.9L416.5 564.5L418.3 564.0L420.2 563.6L422.0 563.1L423.9 562.6L425.7 562.2L427.6 561.7L429.5 561.2L431.4 560.7L433.3 560.1L435.2 559.6L437.1 559.1L439.0 558.5L440.9 557.9L442.8 557.4L444.7 556.8L446.7 556.1L448.6 555.5L450.5 554.9L452.5 554.2L454.5 553.5L456.4 552.8L458.4 552.1L460.4 551.4L462.4 550.6L464.3 549.9L466.3 549.1L468.3 548.2L470.3 547.4L472.4 546.5L474.4 545.6L476.4 544.7L478.4 543.7L480.5 542.7L482.5 541.7L484.6 540.6L486.6 539.5L486.6 540.3L486.6 541.5L486.6 543.2L486.6 545.5L486.6 548.4L486.6 552.0L486.6 556.1L486.5 560.8L486.5 566.2L486.5 572.1L486.5 578.5L486.4 585.4L486.4 592.8L486.3 600.7L486.3 608.9L486.3 617.5L486.2 626.4L486.2 635.6L486.1 645.0L486.0 654.5L486.0 664.1L485.9 673.8L485.8 683.4L485.8 693.1L485.7 702.6L485.6 712.0L485.5 721.3L485.5 730.3L485.4 739.2L485.3 747.7L485.2 755.9L485.1 763.9L485.0 771.4L484.9 778.7L484.7 785.6L484.6 792.1L484.5 798.2L484.4 804.0L484.3 809.4L484.1 814.4L484.0 819.1L483.8 823.4L483.7 827.4L483.5 831.0L483.4 834.4L483.2 837.4L483.1 840.2L482.9 842.7L482.7 844.9L482.6 847.0L482.4 848.8L482.2 850.4L482.0 851.9L481.8 853.1L481.7 854.3L481.5 855.2L481.3 856.1L481.0 856.9L480.8 857.5L480.6 858.1L480.4 858.6L480.2 859.0L480.0 859.4L479.7 859.7L479.5 860.0L479.0 860.4L478.5 860.7L478.2 860.8L478.0 860.9L477.7 860.9L477.4 861.0L477.2 861.1L476.9 861.1L476.6 861.1L476.3 861.2L476.0 861.2L475.7 861.2L475.4 861.2L475.1 861.2L474.8 861.2L474.5 861.3L474.2 861.3L473.9 861.3L473.5 861.3L473.2 861.3L472.9 861.3L472.5 861.3L472.2 861.3L471.8 861.3L471.5 861.3L471.1 861.3L470.7 861.3L470.4 861.3L470.0 861.3L469.6 861.3L469.2 861.3L468.8 861.3L468.4 861.3L468.0 861.3L467.6 861.3L467.2 861.3L466.8 861.3L466.4 861.3L466.0 861.3L465.5 861.3L465.1 861.3L464.7 861.3L464.2 861.3L463.8 861.3L463.3 861.3L462.9 861.3L462.4 861.3L462.0 861.3L461.5 861.3L461.0 861.3L460.5 861.3L460.1 861.3L459.6 861.3L459.1 861.3L458.6 861.3L458.1 861.3L457.6 861.3L457.0 861.2L456.5 861.2L456.0 861.2L455.5 861.2L454.9 861.2L454.4 861.2L453.9 861.2L453.3 861.2L452.8 861.2L452.2 861.1L451.6 861.1L451.1 861.1L450.5 861.1L449.9 861.1L449.3 861.1L448.7 861.0L448.1 861.0L447.5 861.0L446.9 861.0L446.3 861.0L445.7 860.9L445.1 860.9L444.5 860.9L443.8 860.9L443.2 860.8L442.6 860.8L441.9 860.8L441.3 860.8L440.6 860.7L440.0 860.7L439.3 860.7L438.6 860.6L438.0 860.6L437.3 860.6L436.6 860.6L435.9 860.5L435.2 860.5L434.5 860.5L433.8 860.4L433.1 860.4L432.4 860.4L431.6 860.3L430.9 860.3L430.2 860.2L429.5 860.2L428.7 860.2L428.0 860.1L427.2 860.1L426.4 860.1L425.7 860.0L424.9 860.0L424.1 860.0L423.4 859.9L422.6 859.9L421.8 859.8L421.0 859.8L420.2 859.8L419.4 859.7L418.6 859.7L417.8 859.6L416.9 859.6L416.1 859.5L415.3 859.5L414.4 859.4L413.6 859.4L412.8 859.3L411.9 859.3L411.0 859.2L410.2 859.2L409.3 859.1L408.4 859.1L407.6 859.0L406.7 858.9L405.8 858.9L404.9 858.8L404.0 858.8L403.1 858.7L402.2 858.6L401.2 858.6L400.3 858.5L399.4 858.4L398.5 858.3L397.5 858.3L396.6 858.2L395.6 858.1L394.7 858.0L393.7 858.0L392.7 857.9L391.8 857.8L390.8 857.7L389.8 857.6L388.8 857.6L387.8 857.5L386.8 857.4L385.8 857.3L384.8 857.2L383.8 857.1L382.8 857.0L381.7 856.9L380.7 856.9L379.7 856.8L378.6 856.7L377.6 856.6L376.5 856.5L375.5 856.4L374.4 856.3L373.3 856.2L372.2 856.1L371.2 856.0L370.1 855.9L369.0 855.7L367.9 855.6L366.8 855.5L365.7 855.4L364.5 855.3L363.4 855.1L362.3 855.0L361.2 854.9L360.0 854.8L358.9 854.6L357.7 854.5L356.6 854.3L355.4 854.2L354.2 854.0L353.1 853.9L351.9 853.7L350.7 853.6L349.5 853.4L348.3 853.3L347.1 853.1L345.9 852.9L344.7 852.8L343.5 852.6L342.3 852.4L341.0 852.3L339.8 852.1L338.6 851.9L337.3 851.7L336.1 851.6L334.8 851.4L333.5 851.2L332.3 851.0L331.0 850.8L329.7 850.7L328.4 850.5L327.1 850.3L325.8 850.1L324.5 849.9L323.2 849.7L321.9 849.4L320.6 849.2L319.3 849.0L317.9 848.8L316.6 848.5L315.3 848.3L313.9 848.1L312.6 847.8L311.2 847.6L309.8 847.3L308.5 847.1L307.1 846.8L305.7 846.6L304.3 846.3L302.9 846.1L301.5 845.8L300.1 845.6L298.7 845.3L297.3 845.1L295.8 844.9L294.4 844.6L293.0 844.4L291.5 844.2L290.1 843.9L288.6 843.7L287.2 843.5L285.7 843.3L284.2 843.1L282.8 842.9L281.3 842.7L279.8 842.5L278.3 842.3L276.8 842.1L275.3 841.9L273.8 841.7L272.2 841.5L270.7 841.3L269.2 841.2L267.7 841.0L266.1 840.8L264.6 840.6L263.0 840.4L261.5 840.2L259.9 840.0L258.3 839.8L256.7 839.5L255.2 839.3L253.6 839.1L252.0 838.9L250.4 838.6L248.8 838.4L247.1 838.1L245.5 837.8L243.9 837.6L242.3 837.3L240.6 837.0L239.0 836.7L237.3 836.4L235.7 836.1L234.0 835.8L232.4 835.5L230.7 835.2L229.0 834.9L227.3 834.6L225.6 834.3L223.9 834.0L222.2 833.7L220.5 833.4L218.8 833.1L217.1 832.9L215.4 832.6L213.6 832.3L211.9 832.1L210.2 831.8L208.4 831.6L206.6 831.3L204.9 831.1L203.1 830.8L201.3 830.6L199.6 830.3L197.8 830.0L196.0 829.8L194.2 829.5L192.4 829.3L190.6 829.0L188.7 828.8L186.9 828.5L185.1 828.3L183.3 828.1L181.4 827.8L179.6 827.6L177.7 827.4L175.9 827.2L174.0 827.0L172.1 826.8L170.2 826.6L168.3 826.4L166.5 826.2L164.6 826.1L162.7 825.9L160.8 825.8L158.8 825.7L156.9 825.6L155.0 825.5L153.1 825.4L151.1 825.3L149.2 825.2L147.2 825.0L145.3 824.9L143.3 824.8L141.3 824.7L139.4 824.7L137.4 824.6L135.4 824.5L133.4 824.4L131.4 824.3L129.4 824.3L127.4 824.2L125.3 824.1L123.3 824.1L121.3 824.0L119.3 824.0L117.2 824.0L115.2 824.0L113.1 824.0" fill="none" stroke="#686868" stroke-width="1.5" stroke-linejoin="round"/>
<path d="M765.6 731.3L767.5 731.2L769.4 731.0L771.2 730.9L773.1 730.8L775.0 730.7L776.9 730.5L778.7 730.4L780.6 730.3L782.5 730.1L784.4 730.0L786.2 729.9L788.1 729.7L790.0 729.6L791.9 729.5L793.8 729.3L795.6 729.2L797.5 729.1L799.4 728.9L801.3 728.8L803.1 728.6L805.0 728.5L806.9 728.4L808.8 728.2L810.6 728.1L812.5 727.9L814.4 727.8L816.3 727.7L818.2 727.5L820.0 727.4L821.9 727.2L823.8 727.1L825.7 726.9L827.5 726.8L829.4 726.6L831.3 726.5L833.2 726.3L835.0 726.2L836.9 726.0L838.8 725.9L840.7 725.7L842.6 725.6L844.4 725.4L846.3 725.3L848.2 725.1L850.1 725.0L851.9 724.8L853.8 724.7L855.7 724.5L857.6 724.4L859.4 724.2L861.3 724.1L863.2 723.9L865.1 723.7L867.0 723.6L868.8 723.4L870.7 723.3L872.6 723.1L874.5 722.9L876.3 722.7L878.2 722.6L880.1 722.4L882.0 722.2L883.9 722.1L885.7 721.9L887.6 721.7L889.5 721.5L891.4 721.3L893.2 721.2L895.1 721.0L897.0 720.8L898.9 720.6L900.7 720.4L902.6 720.3L904.5 720.1L906.4 719.9L908.3 719.7L910.1 719.5L912.0 719.4L913.9 719.2L915.8 719.0L917.6 718.8L919.5 718.6L921.4 718.5L923.3 718.3L925.1 718.1L927.0 717.9L928.9 717.8L930.8 717.6L932.7 717.4L934.5 717.3L936.4 717.1L938.3 716.9L940.2 716.8L942.0 716.6L943.9 716.4L945.8 716.3L947.7 716.1L949.5 716.0L951.4 715.8L953.3 715.7L955.2 715.5L957.1 715.4L958.9 715.2L960.8 715.1L962.7 714.9L964.6 714.8L966.4 714.6L968.3 714.5L970.2 714.3L972.1 714.2L973.9 714.0L975.8 713.9L977.7 713.7L979.6 713.6L981.5 713.4L983.3 713.3L985.2 713.1L987.1 713.0L989.0 712.8L990.8 712.7L992.7 712.5L994.6 712.4L996.5 712.3L998.3 712.1L1000.2 712.0L1002.1 711.8L1004.0 711.7L1005.9 711.5L1007.7 711.4L1009.6 711.2L1011.5 711.1L1013.4 711.0L1015.2 710.8L1017.1 710.7L1019.0 710.5L1020.9 710.4L1022.7 710.3L1024.6 710.1L1026.5 710.0L1028.4 709.8L1030.3 709.7L1032.1 709.6L1034.0 709.4L1035.9 709.3L1037.8 709.2L1039.6 709.0L1041.5 708.9L1043.4 708.8L1045.3 708.6L1047.1 708.5L1049.0 708.3L1050.9 708.2L1052.8 708.1L1054.7 708.0L1056.5 707.8L1058.4 707.7L1060.3 707.6L1062.2 707.4L1064.0 707.3L1065.9 707.2L1067.8 707.0L1069.7 706.9L1071.5 706.8L1073.4 706.7L1075.3 706.5L1077.2 706.4L1079.1 706.3L1080.9 706.2L1082.8 706.0L1084.7 705.9L1086.6 705.8L1088.4 705.7L1090.3 705.5L1092.2 705.4L1094.1 705.3L1095.9 705.2L1097.8 705.0L1099.7 704.9L1101.6 704.8L1103.5 704.7L1105.3 704.6L1107.2 704.5L1109.1 704.3L1111.0 704.2L1112.8 704.1L1114.7 704.0L1116.6 703.9L1118.5 703.8L1120.4 703.7L1122.2 703.5L1124.1 703.4L1126.0 703.3L1127.9 703.2L1129.7 703.1L1131.6 703.0L1133.5 702.9L1135.4 702.8L1137.2 702.7L1139.1 702.6L1137.2 702.7L1135.4 702.9L1133.5 703.1L1131.6 703.3L1129.7 703.5L1127.9 703.6L1126.0 703.8L1124.1 704.0L1122.2 704.2L1120.4 704.4L1118.5 704.5L1116.6 704.7L1114.7 704.9L1112.8 705.1L1111.0 705.2L1109.1 705.4L1107.2 705.6L1105.3 705.8L1103.5 705.9L1101.6 706.1L1099.7 706.3L1097.8 706.5L1095.9 706.6L1094.1 706.8L1092.2 707.0L1090.3 707.1L1088.4 707.3L1086.6 707.5L1084.7 707.7L1082.8 707.8L1080.9 708.0L1079.1 708.2L1077.2 708.3L1075.3 708.5L1073.4 708.7L1071.5 708.8L1069.7 709.0L1067.8 709.2L1065.9 709.3L1064.0 709.5L1062.2 709.7L1060.3 709.8L1058.4 710.0L1056.5 710.2L1054.7 710.3L1052.8 710.5L1050.9 710.7L1049.0 710.8L1047.1 711.0L1045.3 711.2L1043.4 711.3L1041.5 711.5L1039.6 711.6L1037.8 711.8L1035.9 712.0L1034.0 712.1L1032.1 712.3L1030.3 712.4L1028.4 712.6L1026.5 712.8L1024.6 712.9L1022.7 713.1L1020.9 713.2L1019.0 713.4L1017.1 713.5L1015.2 713.7L1013.4 713.9L1011.5 714.0L1009.6 714.2L1007.7 714.3L1005.9 714.5L1004.0 714.6L1002.1 714.8L1000.2 714.9L998.3 715.1L996.5 715.2L994.6 715.4L992.7 715.5L990.8 715.7L989.0 715.8L987.1 716.0L985.2 716.1L983.3 716.3L981.5 716.4L979.6 716.6L977.7 716.7L975.8 716.9L973.9 717.0L972.1 717.2L970.2 717.3L968.3 717.5L966.4 717.6L964.6 717.8L962.7 717.9L960.8 718.1L958.9 718.2L957.1 718.3L955.2 718.5L953.3 718.6L951.4 718.8L949.5 718.9L947.7 719.1L945.8 719.2L943.9 719.4L942.0 719.5L940.2 719.6L938.3 719.8L936.4 719.9L934.5 720.1L932.7 720.2L930.8 720.4L928.9 720.5L927.0 720.6L925.1 720.8L923.3 720.9L921.4 721.1L919.5 721.2L917.6 721.4L915.8 721.5L913.9 721.7L912.0 721.8L910.1 722.0L908.3 722.1L906.4 722.2L904.5 722.4L902.6 722.5L900.7 722.7L898.9 722.8L897.0 723.0L895.1 723.1L893.2 723.2L891.4 723.4L889.5 723.5L887.6 723.7L885.7 723.8L883.9 724.0L882.0 724.1L880.1 724.2L878.2 724.4L876.3 724.5L874.5 724.7L872.6 724.8L870.7 724.9L868.8 725.1L867.0 725.2L865.1 725.3L863.2 725.5L861.3 725.6L859.4 725.7L857.6 725.9L855.7 726.0L853.8 726.1L851.9 726.2L850.1 726.4L848.2 726.5L846.3 726.6L844.4 726.7L842.6 726.9L840.7 727.0L838.8 727.1L836.9 727.2L835.0 727.3L833.2 727.5L831.3 727.6L829.4 727.7L827.5 727.8L825.7 727.9L823.8 728.0L821.9 728.2L820.0 728.3L818.2 728.4L816.3 728.5L814.4 728.6L812.5 728.7L810.6 728.8L808.8 728.9L806.9 729.1L805.0 729.2L803.1 729.3L801.3 729.4L799.4 729.5L797.5 729.6L795.6 729.7L793.8 729.8L791.9 729.9L790.0 730.0L788.1 730.1L786.2 730.2L784.4 730.3L782.5 730.4L780.6 730.5L778.7 730.6L776.9 730.7L775.0 730.8L773.1 730.9L771.2 731.0L769.4 731.1L767.5 731.2L765.6 731.3" fill="none" stroke="#bcbcbc" stroke-width="1.5" stroke-linejoin="round"/>
<path d="M765.6 747.6L767.5 747.3L769.4 747.1L771.2 746.8L773.1 746.6L775.0 746.3L776.9 746.0L778.7 745.7L780.6 745.5L782.5 745.2L784.4 744.9L786.2 744.6L788.1 744.3L790.0 744.0L791.9 743.7L793.8 743.4L795.6 743.1L797.5 742.8L799.4 742.5L801.3 742.2L803.1 741.9L805.0 741.6L806.9 741.3L808.8 741.0L810.6 740.7L812.5 740.3L814.4 740.0L816.3 739.7L818.2 739.3L820.0 739.0L821.9 738.7L823.8 738.3L825.7 737.9L827.5 737.6L829.4 737.2L831.3 736.9L833.2 736.5L835.0 736.1L836.9 735.7L838.8 735.4L840.7 735.0L842.6 734.6L844.4 734.2L846.3 733.9L848.2 733.5L850.1 733.1L851.9 732.8L853.8 732.4L855.7 732.1L857.6 731.7L859.4 731.4L861.3 731.0L863.2 730.7L865.1 730.3L867.0 730.0L868.8 729.7L870.7 729.4L872.6 729.0L874.5 728.7L876.3 728.4L878.2 728.1L880.1 727.7L882.0 727.4L883.9 727.1L885.7 726.8L887.6 726.5L889.5 726.1L891.4 725.8L893.2 725.5L895.1 725.1L897.0 724.8L898.9 724.5L900.7 724.1L902.6 723.8L904.5 723.4L906.4 723.1L908.3 722.7L910.1 722.3L912.0 721.9L913.9 721.6L915.8 721.2L917.6 720.8L919.5 720.4L921.4 720.0L923.3 719.6L925.1 719.2L927.0 718.8L928.9 718.4L930.8 718.1L932.7 717.7L934.5 717.3L936.4 716.9L938.3 716.5L940.2 716.1L942.0 715.7L943.9 715.3L945.8 715.0L947.7 714.6L949.5 714.2L951.4 713.9L953.3 713.5L955.2 713.2L957.1 712.8L958.9 712.5L960.8 712.1L962.7 711.8L964.6 711.5L966.4 711.1L968.3 710.8L970.2 710.5L972.1 710.1L973.9 709.8L975.8 709.5L977.7 709.1L979.6 708.8L981.5 708.5L983.3 708.1L985.2 707.8L987.1 707.5L989.0 707.2L990.8 706.9L992.7 706.5L994.6 706.2L996.5 705.9L998.3 705.6L1000.2 705.3L1002.1 705.0L1004.0 704.7L1005.9 704.4L1007.7 704.1L1009.6 703.8L1011.5 703.5L1013.4 703.2L1015.2 702.9L1017.1 702.6L1019.0 702.3L1020.9 702.0L1022.7 701.7L1024.6 701.5L1026.5 701.2L1028.4 700.9L1030.3 700.7L1032.1 700.4L1034.0 700.2L1035.9 699.9L1037.8 699.6L1039.6 699.4L1041.5 699.1L1043.4 698.8L1045.3 698.5L1047.1 698.3L1049.0 698.0L1050.9 697.7L1052.8 697.4L1054.7 697.1L1056.5 696.7L1058.4 696.4L1060.3 696.1L1062.2 695.8L1064.0 695.5L1065.9 695.2L1067.8 694.9L1069.7 694.5L1071.5 694.2L1073.4 693.9L1075.3 693.6L1077.2 693.2L1079.1 692.9L1080.9 692.6L1082.8 692.2L1084.7 691.9L1086.6 691.6L1088.4 691.2L1090.3 690.9L1092.2 690.5L1094.1 690.2L1095.9 689.8L1097.8 689.5L1099.7 689.1L1101.6 688.8L1103.5 688.4L1105.3 688.1L1107.2 687.7L1109.1 687.3L1111.0 686.9L1112.8 686.6L1114.7 686.2L1116.6 685.8L1118.5 685.4L1120.4 685.1L1122.2 684.7L1124.1 684.3L1126.0 683.9L1127.9 683.5L1129.7 683.1L1131.6 682.7L1133.5 682.3L1135.4 681.9L1137.2 681.5L1139.1 681.1L1137.2 681.7L1135.4 682.4L1133.5 683.0L1131.6 683.6L1129.7 684.3L1127.9 684.9L1126.0 685.5L1124.1 686.1L1122.2 686.7L1120.4 687.3L1118.5 687.9L1116.6 688.5L1114.7 689.1L1112.8 689.7L1111.0 690.3L1109.1 690.9L1107.2 691.5L1105.3 692.1L1103.5 692.6L1101.6 693.2L1099.7 693.8L1097.8 694.3L1095.9 694.9L1094.1 695.4L1092.2 696.0L1090.3 696.5L1088.4 697.1L1086.6 697.6L1084.7 698.1L1082.8 698.7L1080.9 699.2L1079.1 699.7L1077.2 700.2L1075.3 700.7L1073.4 701.2L1071.5 701.7L1069.7 702.2L1067.8 702.7L1065.9 703.2L1064.0 703.7L1062.2 704.2L1060.3 704.7L1058.4 705.2L1056.5 705.7L1054.7 706.2L1052.8 706.7L1050.9 707.2L1049.0 707.7L1047.1 708.1L1045.3 708.6L1043.4 709.1L1041.5 709.6L1039.6 710.0L1037.8 710.5L1035.9 711.0L1034.0 711.4L1032.1 711.9L1030.3 712.3L1028.4 712.7L1026.5 713.2L1024.6 713.6L1022.7 714.0L1020.9 714.4L1019.0 714.8L1017.1 715.2L1015.2 715.6L1013.4 716.0L1011.5 716.3L1009.6 716.7L1007.7 717.0L1005.9 717.4L1004.0 717.7L1002.1 718.0L1000.2 718.3L998.3 718.6L996.5 718.9L994.6 719.2L992.7 719.5L990.8 719.7L989.0 720.0L987.1 720.2L985.2 720.4L983.3 720.7L981.5 720.9L979.6 721.1L977.7 721.3L975.8 721.5L973.9 721.7L972.1 722.0L970.2 722.2L968.3 722.4L966.4 722.6L964.6 722.8L962.7 723.0L960.8 723.2L958.9 723.5L957.1 723.7L955.2 723.9L953.3 724.2L951.4 724.4L949.5 724.7L947.7 725.0L945.8 725.2L943.9 725.5L942.0 725.8L940.2 726.1L938.3 726.4L936.4 726.7L934.5 727.0L932.7 727.3L930.8 727.6L928.9 727.9L927.0 728.2L925.1 728.6L923.3 728.9L921.4 729.2L919.5 729.5L917.6 729.8L915.8 730.1L913.9 730.5L912.0 730.8L910.1 731.1L908.3 731.4L906.4 731.7L904.5 732.0L902.6 732.3L900.7 732.6L898.9 732.9L897.0 733.2L895.1 733.5L893.2 733.8L891.4 734.1L889.5 734.4L887.6 734.7L885.7 735.0L883.9 735.3L882.0 735.6L880.1 735.9L878.2 736.2L876.3 736.4L874.5 736.7L872.6 737.0L870.7 737.3L868.8 737.6L867.0 737.9L865.1 738.2L863.2 738.5L861.3 738.7L859.4 739.0L857.6 739.3L855.7 739.6L853.8 739.9L851.9 740.2L850.1 740.5L848.2 740.8L846.3 741.1L844.4 741.4L842.6 741.7L840.7 742.1L838.8 742.4L836.9 742.7L835.0 743.0L833.2 743.2L831.3 743.5L829.4 743.8L827.5 744.1L825.7 744.3L823.8 744.5L821.9 744.8L820.0 745.0L818.2 745.2L816.3 745.3L814.4 745.5L812.5 745.6L810.6 745.8L808.8 745.9L806.9 746.0L805.0 746.1L803.1 746.2L801.3 746.3L799.4 746.5L797.5 746.6L795.6 746.7L793.8 746.8L791.9 746.9L790.0 747.0L788.1 747.0L786.2 747.1L784.4 747.2L782.5 747.3L780.6 747.3L778.7 747.4L776.9 747.4L775.0 747.5L773.1 747.5L771.2 747.6L769.4 747.6L767.5 747.6L765.6 747.6" fill="none" stroke="#efc08e" stroke-width="1.5" stroke-linejoin="round"/>
<path d="M765.6 770.3L767.5 769.5L769.4 768.7L771.2 768.0L773.1 767.2L775.0 766.4L776.9 765.6L778.7 764.8L780.6 764.0L782.5 763.2L784.4 762.4L786.2 761.6L788.1 760.8L790.0 760.0L791.9 759.3L793.8 758.5L795.6 757.7L797.5 756.9L799.4 756.1L801.3 755.3L803.1 754.5L805.0 753.8L806.9 753.0L808.8 752.2L810.6 751.4L812.5 750.7L814.4 749.9L816.3 749.1L818.2 748.3L820.0 747.6L821.9 746.8L823.8 746.0L825.7 745.2L827.5 744.4L829.4 743.6L831.3 742.8L833.2 742.0L835.0 741.3L836.9 740.5L838.8 739.7L840.7 739.0L842.6 738.2L844.4 737.4L846.3 736.7L848.2 736.0L850.1 735.3L851.9 734.5L853.8 733.9L855.7 733.2L857.6 732.5L859.4 731.8L861.3 731.2L863.2 730.6L865.1 729.9L867.0 729.3L868.8 728.7L870.7 728.1L872.6 727.5L874.5 726.9L876.3 726.3L878.2 725.7L880.1 725.1L882.0 724.6L883.9 724.0L885.7 723.4L887.6 722.9L889.5 722.3L891.4 721.8L893.2 721.2L895.1 720.7L897.0 720.1L898.9 719.6L900.7 719.1L902.6 718.5L904.5 718.0L906.4 717.5L908.3 717.0L910.1 716.4L912.0 715.9L913.9 715.4L915.8 714.9L917.6 714.4L919.5 713.9L921.4 713.3L923.3 712.8L925.1 712.3L927.0 711.8L928.9 711.3L930.8 710.8L932.7 710.3L934.5 709.8L936.4 709.3L938.3 708.8L940.2 708.2L942.0 707.7L943.9 707.2L945.8 706.7L947.7 706.2L949.5 705.7L951.4 705.1L953.3 704.6L955.2 704.1L957.1 703.6L958.9 703.1L960.8 702.6L962.7 702.1L964.6 701.6L966.4 701.1L968.3 700.5L970.2 700.0L972.1 699.5L973.9 699.0L975.8 698.5L977.7 698.0L979.6 697.5L981.5 697.1L983.3 696.6L985.2 696.1L987.1 695.6L989.0 695.1L990.8 694.6L992.7 694.1L994.6 693.6L996.5 693.1L998.3 692.6L1000.2 692.1L1002.1 691.6L1004.0 691.1L1005.9 690.6L1007.7 690.2L1009.6 689.7L1011.5 689.2L1013.4 688.7L1015.2 688.2L1017.1 687.7L1019.0 687.2L1020.9 686.7L1022.7 686.2L1024.6 685.7L1026.5 685.3L1028.4 684.8L1030.3 684.3L1032.1 683.8L1034.0 683.3L1035.9 682.9L1037.8 682.4L1039.6 681.9L1041.5 681.5L1043.4 681.0L1045.3 680.5L1047.1 680.1L1049.0 679.6L1050.9 679.2L1052.8 678.7L1054.7 678.2L1056.5 677.8L1058.4 677.3L1060.3 676.8L1062.2 676.4L1064.0 675.9L1065.9 675.4L1067.8 675.0L1069.7 674.5L1071.5 674.0L1073.4 673.5L1075.3 673.0L1077.2 672.6L1079.1 672.1L1080.9 671.6L1082.8 671.1L1084.7 670.5L1086.6 670.0L1088.4 669.5L1090.3 669.0L1092.2 668.4L1094.1 667.9L1095.9 667.3L1097.8 666.8L1099.7 666.2L1101.6 665.6L1103.5 665.0L1105.3 664.4L1107.2 663.8L1109.1 663.2L1111.0 662.6L1112.8 661.9L1114.7 661.3L1116.6 660.7L1118.5 660.0L1120.4 659.3L1122.2 658.7L1124.1 658.0L1126.0 657.3L1127.9 656.6L1129.7 655.9L1131.6 655.2L1133.5 654.5L1135.4 653.8L1137.2 653.1L1139.1 652.4L1137.2 653.5L1135.4 654.6L1133.5 655.7L1131.6 656.9L1129.7 658.0L1127.9 659.2L1126.0 660.4L1124.1 661.6L1122.2 662.8L1120.4 664.0L1118.5 665.3L1116.6 666.5L1114.7 667.8L1112.8 669.2L1111.0 670.5L1109.1 671.9L1107.2 673.3L1105.3 674.6L1103.5 676.0L1101.6 677.4L1099.7 678.7L1097.8 680.0L1095.9 681.3L1094.1 682.5L1092.2 683.8L1090.3 685.0L1088.4 686.1L1086.6 687.3L1084.7 688.5L1082.8 689.6L1080.9 690.7L1079.1 691.9L1077.2 693.0L1075.3 694.1L1073.4 695.2L1071.5 696.3L1069.7 697.4L1067.8 698.5L1065.9 699.6L1064.0 700.7L1062.2 701.8L1060.3 702.9L1058.4 704.0L1056.5 705.1L1054.7 706.2L1052.8 707.2L1050.9 708.2L1049.0 709.2L1047.1 710.1L1045.3 710.9L1043.4 711.7L1041.5 712.5L1039.6 713.2L1037.8 713.9L1035.9 714.6L1034.0 715.3L1032.1 716.0L1030.3 716.6L1028.4 717.2L1026.5 717.8L1024.6 718.4L1022.7 719.0L1020.9 719.6L1019.0 720.2L1017.1 720.8L1015.2 721.3L1013.4 721.9L1011.5 722.5L1009.6 723.0L1007.7 723.6L1005.9 724.2L1004.0 724.7L1002.1 725.2L1000.2 725.8L998.3 726.3L996.5 726.8L994.6 727.3L992.7 727.9L990.8 728.4L989.0 728.9L987.1 729.4L985.2 729.9L983.3 730.4L981.5 730.9L979.6 731.4L977.7 731.9L975.8 732.5L973.9 733.0L972.1 733.5L970.2 734.0L968.3 734.5L966.4 735.0L964.6 735.5L962.7 736.1L960.8 736.6L958.9 737.0L957.1 737.5L955.2 738.0L953.3 738.5L951.4 738.9L949.5 739.4L947.7 739.8L945.8 740.3L943.9 740.7L942.0 741.1L940.2 741.5L938.3 741.9L936.4 742.3L934.5 742.7L932.7 743.1L930.8 743.4L928.9 743.8L927.0 744.2L925.1 744.5L923.3 744.9L921.4 745.3L919.5 745.6L917.6 746.0L915.8 746.4L913.9 746.7L912.0 747.1L910.1 747.5L908.3 747.9L906.4 748.3L904.5 748.6L902.6 749.0L900.7 749.4L898.9 749.7L897.0 750.1L895.1 750.5L893.2 750.9L891.4 751.2L889.5 751.6L887.6 752.0L885.7 752.3L883.9 752.7L882.0 753.1L880.1 753.4L878.2 753.8L876.3 754.2L874.5 754.6L872.6 755.0L870.7 755.3L868.8 755.7L867.0 756.1L865.1 756.5L863.2 756.9L861.3 757.2L859.4 757.6L857.6 758.0L855.7 758.4L853.8 758.7L851.9 759.1L850.1 759.4L848.2 759.8L846.3 760.1L844.4 760.5L842.6 760.8L840.7 761.1L838.8 761.5L836.9 761.8L835.0 762.1L833.2 762.4L831.3 762.7L829.4 763.0L827.5 763.3L825.7 763.6L823.8 763.9L821.9 764.2L820.0 764.5L818.2 764.8L816.3 765.1L814.4 765.4L812.5 765.6L810.6 765.9L808.8 766.2L806.9 766.5L805.0 766.7L803.1 767.0L801.3 767.3L799.4 767.5L797.5 767.8L795.6 768.0L793.8 768.2L791.9 768.4L790.0 768.6L788.1 768.8L786.2 769.0L784.4 769.1L782.5 769.3L780.6 769.4L778.7 769.6L776.9 769.7L775.0 769.8L773.1 770.0L771.2 770.1L769.4 770.2L767.5 770.3L765.6 770.3" fill="none" stroke="#7ca47c" stroke-width="1.5" stroke-linejoin="round"/>
<path d="M765.6 799.5L767.5 797.6L769.4 795.7L771.2 793.6L773.1 791.5L775.0 789.2L776.9 786.9L778.7 784.6L780.6 782.5L782.5 780.4L784.4 778.4L786.2 776.5L788.1 774.5L790.0 772.6L791.9 770.7L793.8 768.9L795.6 767.0L797.5 765.2L799.4 763.4L801.3 761.7L803.1 760.0L805.0 758.4L806.9 756.8L808.8 755.3L810.6 753.8L812.5 752.4L814.4 751.1L816.3 749.8L818.2 748.5L820.0 747.3L821.9 746.1L823.8 744.9L825.7 743.8L827.5 742.6L829.4 741.5L831.3 740.4L833.2 739.3L835.0 738.2L836.9 737.2L838.8 736.1L840.7 735.0L842.6 734.0L844.4 733.0L846.3 732.0L848.2 731.0L850.1 730.0L851.9 729.0L853.8 728.0L855.7 727.0L857.6 726.1L859.4 725.1L861.3 724.2L863.2 723.2L865.1 722.3L867.0 721.4L868.8 720.5L870.7 719.6L872.6 718.7L874.5 717.8L876.3 717.0L878.2 716.1L880.1 715.2L882.0 714.4L883.9 713.5L885.7 712.7L887.6 711.8L889.5 711.0L891.4 710.1L893.2 709.3L895.1 708.5L897.0 707.6L898.9 706.8L900.7 706.0L902.6 705.1L904.5 704.3L906.4 703.5L908.3 702.7L910.1 701.8L912.0 701.0L913.9 700.1L915.8 699.3L917.6 698.5L919.5 697.6L921.4 696.8L923.3 695.9L925.1 695.1L927.0 694.2L928.9 693.4L930.8 692.5L932.7 691.7L934.5 690.9L936.4 690.0L938.3 689.2L940.2 688.4L942.0 687.5L943.9 686.7L945.8 685.9L947.7 685.1L949.5 684.3L951.4 683.5L953.3 682.7L955.2 681.9L957.1 681.1L958.9 680.3L960.8 679.5L962.7 678.7L964.6 677.9L966.4 677.1L968.3 676.3L970.2 675.5L972.1 674.8L973.9 674.0L975.8 673.2L977.7 672.4L979.6 671.7L981.5 670.9L983.3 670.1L985.2 669.3L987.1 668.6L989.0 667.8L990.8 667.0L992.7 666.3L994.6 665.5L996.5 664.7L998.3 664.0L1000.2 663.2L1002.1 662.4L1004.0 661.6L1005.9 660.9L1007.7 660.1L1009.6 659.3L1011.5 658.6L1013.4 657.8L1015.2 657.0L1017.1 656.2L1019.0 655.4L1020.9 654.7L1022.7 653.9L1024.6 653.1L1026.5 652.3L1028.4 651.5L1030.3 650.7L1032.1 649.9L1034.0 649.1L1035.9 648.3L1037.8 647.5L1039.6 646.7L1041.5 645.9L1043.4 645.1L1045.3 644.3L1047.1 643.5L1049.0 642.7L1050.9 641.9L1052.8 641.1L1054.7 640.3L1056.5 639.5L1058.4 638.7L1060.3 637.9L1062.2 637.1L1064.0 636.3L1065.9 635.5L1067.8 634.7L1069.7 633.9L1071.5 633.1L1073.4 632.4L1075.3 631.6L1077.2 630.8L1079.1 630.1L1080.9 629.3L1082.8 628.5L1084.7 627.8L1086.6 627.0L1088.4 626.3L1090.3 625.5L1092.2 624.8L1094.1 624.0L1095.9 623.2L1097.8 622.5L1099.7 621.8L1101.6 621.0L1103.5 620.3L1105.3 619.5L1107.2 618.8L1109.1 618.0L1111.0 617.3L1112.8 616.6L1114.7 615.8L1116.6 615.1L1118.5 614.4L1120.4 613.6L1122.2 612.9L1124.1 612.2L1126.0 611.5L1127.9 610.7L1129.7 610.0L1131.6 609.3L1133.5 608.6L1135.4 607.9L1137.2 607.2L1139.1 606.5L1137.2 609.4L1135.4 612.4L1133.5 615.4L1131.6 618.4L1129.7 621.4L1127.9 624.4L1126.0 627.4L1124.1 630.5L1122.2 633.6L1120.4 636.7L1118.5 639.8L1116.6 642.9L1114.7 645.9L1112.8 648.8L1111.0 651.7L1109.1 654.5L1107.2 657.3L1105.3 660.1L1103.5 662.9L1101.6 665.5L1099.7 668.1L1097.8 670.6L1095.9 672.9L1094.1 675.2L1092.2 677.3L1090.3 679.4L1088.4 681.4L1086.6 683.4L1084.7 685.3L1082.8 687.2L1080.9 689.1L1079.1 690.9L1077.2 692.8L1075.3 694.7L1073.4 696.6L1071.5 698.5L1069.7 700.3L1067.8 702.2L1065.9 704.0L1064.0 705.7L1062.2 707.5L1060.3 709.1L1058.4 710.7L1056.5 712.2L1054.7 713.7L1052.8 715.0L1050.9 716.4L1049.0 717.6L1047.1 718.9L1045.3 720.1L1043.4 721.3L1041.5 722.4L1039.6 723.6L1037.8 724.9L1035.9 726.1L1034.0 727.4L1032.1 728.7L1030.3 730.0L1028.4 731.3L1026.5 732.6L1024.6 733.9L1022.7 735.1L1020.9 736.4L1019.0 737.6L1017.1 738.7L1015.2 739.8L1013.4 741.0L1011.5 742.1L1009.6 743.2L1007.7 744.3L1005.9 745.4L1004.0 746.4L1002.1 747.5L1000.2 748.5L998.3 749.5L996.5 750.5L994.6 751.5L992.7 752.5L990.8 753.5L989.0 754.4L987.1 755.3L985.2 756.2L983.3 757.1L981.5 758.0L979.6 758.8L977.7 759.6L975.8 760.5L973.9 761.3L972.1 762.1L970.2 762.9L968.3 763.7L966.4 764.4L964.6 765.2L962.7 765.9L960.8 766.6L958.9 767.3L957.1 768.0L955.2 768.7L953.3 769.3L951.4 770.0L949.5 770.6L947.7 771.1L945.8 771.7L943.9 772.2L942.0 772.8L940.2 773.3L938.3 773.8L936.4 774.2L934.5 774.7L932.7 775.1L930.8 775.6L928.9 776.0L927.0 776.5L925.1 776.9L923.3 777.3L921.4 777.8L919.5 778.2L917.6 778.7L915.8 779.1L913.9 779.6L912.0 780.1L910.1 780.6L908.3 781.0L906.4 781.5L904.5 782.0L902.6 782.5L900.7 783.0L898.9 783.5L897.0 784.0L895.1 784.4L893.2 784.9L891.4 785.3L889.5 785.8L887.6 786.2L885.7 786.6L883.9 787.0L882.0 787.4L880.1 787.8L878.2 788.1L876.3 788.5L874.5 788.8L872.6 789.1L870.7 789.4L868.8 789.7L867.0 790.0L865.1 790.3L863.2 790.6L861.3 790.9L859.4 791.2L857.6 791.4L855.7 791.7L853.8 792.0L851.9 792.2L850.1 792.5L848.2 792.7L846.3 793.0L844.4 793.2L842.6 793.4L840.7 793.7L838.8 793.9L836.9 794.1L835.0 794.3L833.2 794.6L831.3 794.8L829.4 795.0L827.5 795.2L825.7 795.4L823.8 795.6L821.9 795.8L820.0 796.0L818.2 796.2L816.3 796.4L814.4 796.6L812.5 796.7L810.6 796.9L808.8 797.0L806.9 797.2L805.0 797.3L803.1 797.5L801.3 797.6L799.4 797.7L797.5 797.9L795.6 798.0L793.8 798.1L791.9 798.2L790.0 798.3L788.1 798.5L786.2 798.6L784.4 798.7L782.5 798.8L780.6 798.9L778.7 799.0L776.9 799.1L775.0 799.2L773.1 799.2L771.2 799.3L769.4 799.4L767.5 799.5L765.6 799.5" fill="none" stroke="#807cca" stroke-width="1.5" stroke-linejoin="round"/>
<path d="M765.6 821.0L767.5 814.5L769.4 808.4L771.2 802.8L773.1 797.7L775.0 793.0L776.9 788.6L778.7 784.6L780.6 781.0L782.5 777.6L784.4 774.3L786.2 771.1L788.1 767.9L790.0 764.7L791.9 761.5L793.8 758.4L795.6 755.4L797.5 752.4L799.4 749.4L801.3 746.5L803.1 743.6L805.0 740.8L806.9 738.0L808.8 735.3L810.6 732.7L812.5 730.2L814.4 727.8L816.3 725.4L818.2 723.1L820.0 720.9L821.9 718.7L823.8 716.5L825.7 714.4L827.5 712.4L829.4 710.4L831.3 708.5L833.2 706.6L835.0 704.7L836.9 702.9L838.8 701.1L840.7 699.4L842.6 697.7L844.4 696.0L846.3 694.4L848.2 692.8L850.1 691.2L851.9 689.6L853.8 688.1L855.7 686.6L857.6 685.1L859.4 683.6L861.3 682.2L863.2 680.8L865.1 679.4L867.0 678.0L868.8 676.7L870.7 675.4L872.6 674.0L874.5 672.7L876.3 671.4L878.2 670.2L880.1 668.9L882.0 667.7L883.9 666.4L885.7 665.2L887.6 664.0L889.5 662.8L891.4 661.7L893.2 660.5L895.1 659.4L897.0 658.3L898.9 657.2L900.7 656.1L902.6 655.1L904.5 654.0L906.4 653.0L908.3 652.0L910.1 651.1L912.0 650.1L913.9 649.1L915.8 648.2L917.6 647.3L919.5 646.4L921.4 645.5L923.3 644.6L925.1 643.7L927.0 642.8L928.9 642.0L930.8 641.1L932.7 640.3L934.5 639.4L936.4 638.6L938.3 637.8L940.2 636.9L942.0 636.1L943.9 635.3L945.8 634.5L947.7 633.6L949.5 632.8L951.4 632.0L953.3 631.1L955.2 630.3L957.1 629.5L958.9 628.7L960.8 627.9L962.7 627.1L964.6 626.3L966.4 625.5L968.3 624.8L970.2 624.0L972.1 623.2L973.9 622.4L975.8 621.7L977.7 620.9L979.6 620.1L981.5 619.4L983.3 618.6L985.2 617.8L987.1 617.1L989.0 616.3L990.8 615.6L992.7 614.8L994.6 614.1L996.5 613.3L998.3 612.5L1000.2 611.8L1002.1 611.0L1004.0 610.3L1005.9 609.5L1007.7 608.8L1009.6 608.0L1011.5 607.3L1013.4 606.5L1015.2 605.8L1017.1 605.1L1019.0 604.3L1020.9 603.6L1022.7 602.8L1024.6 602.1L1026.5 601.4L1028.4 600.6L1030.3 599.9L1032.1 599.2L1034.0 598.5L1035.9 597.7L1037.8 597.0L1039.6 596.3L1041.5 595.6L1043.4 594.9L1045.3 594.2L1047.1 593.5L1049.0 592.8L1050.9 592.1L1052.8 591.4L1054.7 590.7L1056.5 590.0L1058.4 589.3L1060.3 588.6L1062.2 587.9L1064.0 587.2L1065.9 586.5L1067.8 585.8L1069.7 585.1L1071.5 584.5L1073.4 583.8L1075.3 583.1L1077.2 582.4L1079.1 581.8L1080.9 581.1L1082.8 580.4L1084.7 579.8L1086.6 579.1L1088.4 578.5L1090.3 577.9L1092.2 577.2L1094.1 576.6L1095.9 576.0L1097.8 575.4L1099.7 574.8L1101.6 574.2L1103.5 573.7L1105.3 573.1L1107.2 572.5L1109.1 571.9L1111.0 571.4L1112.8 570.8L1114.7 570.3L1116.6 569.7L1118.5 569.2L1120.4 568.6L1122.2 568.1L1124.1 567.6L1126.0 567.1L1127.9 566.5L1129.7 566.0L1131.6 565.5L1133.5 565.0L1135.4 564.5L1137.2 564.0L1139.1 563.6L1137.2 573.1L1135.4 582.5L1133.5 591.6L1131.6 600.3L1129.7 608.6L1127.9 616.4L1126.0 624.0L1124.1 631.5L1122.2 638.7L1120.4 645.7L1118.5 652.5L1116.6 659.0L1114.7 665.2L1112.8 671.1L1111.0 676.6L1109.1 681.7L1107.2 686.7L1105.3 691.4L1103.5 695.9L1101.6 700.2L1099.7 704.4L1097.8 708.5L1095.9 712.5L1094.1 716.4L1092.2 720.3L1090.3 724.1L1088.4 727.9L1086.6 731.6L1084.7 735.2L1082.8 738.7L1080.9 742.2L1079.1 745.5L1077.2 748.7L1075.3 751.8L1073.4 754.8L1071.5 757.8L1069.7 760.6L1067.8 763.5L1065.9 766.2L1064.0 768.8L1062.2 771.2L1060.3 773.5L1058.4 775.6L1056.5 777.6L1054.7 779.6L1052.8 781.4L1050.9 783.3L1049.0 785.1L1047.1 786.8L1045.3 788.4L1043.4 790.0L1041.5 791.5L1039.6 792.9L1037.8 794.3L1035.9 795.6L1034.0 796.8L1032.1 797.9L1030.3 799.0L1028.4 800.1L1026.5 801.1L1024.6 802.1L1022.7 803.1L1020.9 804.0L1019.0 804.9L1017.1 805.8L1015.2 806.6L1013.4 807.4L1011.5 808.2L1009.6 808.9L1007.7 809.7L1005.9 810.4L1004.0 811.1L1002.1 811.7L1000.2 812.3L998.3 813.0L996.5 813.6L994.6 814.1L992.7 814.7L990.8 815.3L989.0 815.8L987.1 816.3L985.2 816.9L983.3 817.4L981.5 817.9L979.6 818.3L977.7 818.8L975.8 819.2L973.9 819.6L972.1 820.0L970.2 820.4L968.3 820.7L966.4 821.1L964.6 821.4L962.7 821.6L960.8 821.9L958.9 822.2L957.1 822.4L955.2 822.7L953.3 822.9L951.4 823.1L949.5 823.4L947.7 823.6L945.8 823.8L943.9 824.0L942.0 824.2L940.2 824.4L938.3 824.5L936.4 824.7L934.5 824.9L932.7 825.0L930.8 825.2L928.9 825.3L927.0 825.5L925.1 825.7L923.3 825.8L921.4 826.0L919.5 826.2L917.6 826.3L915.8 826.5L913.9 826.6L912.0 826.7L910.1 826.8L908.3 826.9L906.4 826.9L904.5 827.0L902.6 827.0L900.7 827.0L898.9 827.0L897.0 827.0L895.1 826.9L893.2 826.9L891.4 826.9L889.5 826.9L887.6 826.9L885.7 826.9L883.9 826.9L882.0 826.9L880.1 826.9L878.2 826.8L876.3 826.8L874.5 826.8L872.6 826.8L870.7 826.8L868.8 826.7L867.0 826.7L865.1 826.7L863.2 826.7L861.3 826.6L859.4 826.6L857.6 826.6L855.7 826.6L853.8 826.5L851.9 826.5L850.1 826.5L848.2 826.4L846.3 826.4L844.4 826.3L842.6 826.3L840.7 826.2L838.8 826.1L836.9 826.1L835.0 826.0L833.2 825.9L831.3 825.8L829.4 825.7L827.5 825.7L825.7 825.6L823.8 825.5L821.9 825.4L820.0 825.3L818.2 825.2L816.3 825.1L814.4 825.0L812.5 824.9L810.6 824.7L808.8 824.6L806.9 824.5L805.0 824.4L803.1 824.3L801.3 824.2L799.4 824.1L797.5 823.9L795.6 823.8L793.8 823.6L791.9 823.5L790.0 823.3L788.1 823.2L786.2 823.0L784.4 822.8L782.5 822.7L780.6 822.5L778.7 822.3L776.9 822.1L775.0 821.9L773.1 821.8L771.2 821.6L769.4 821.4L767.5 821.2L765.6 821.0" fill="none" stroke="#de8696" stroke-width="1.5" stroke-linejoin="round"/>
<path d="M765.6 821.0L767.5 803.5L769.4 787.4L771.2 772.4L773.1 760.1L775.0 749.5L776.9 740.0L778.7 731.2L780.6 723.2L782.5 715.5L784.4 708.3L786.2 701.6L788.1 695.5L790.0 689.8L791.9 684.2L793.8 679.0L795.6 674.2L797.5 669.8L799.4 666.0L801.3 662.5L803.1 659.3L805.0 656.2L806.9 653.3L808.8 650.6L810.6 648.1L812.5 645.8L814.4 643.7L816.3 641.8L818.2 640.1L820.0 638.5L821.9 637.0L823.8 635.5L825.7 634.1L827.5 632.8L829.4 631.6L831.3 630.4L833.2 629.3L835.0 628.3L836.9 627.3L838.8 626.3L840.7 625.4L842.6 624.5L844.4 623.7L846.3 622.9L848.2 622.1L850.1 621.4L851.9 620.7L853.8 620.0L855.7 619.3L857.6 618.7L859.4 618.0L861.3 617.4L863.2 616.8L865.1 616.2L867.0 615.6L868.8 615.1L870.7 614.5L872.6 613.9L874.5 613.4L876.3 612.8L878.2 612.3L880.1 611.7L882.0 611.1L883.9 610.6L885.7 610.1L887.6 609.5L889.5 609.0L891.4 608.5L893.2 608.0L895.1 607.5L897.0 607.0L898.9 606.5L900.7 606.1L902.6 605.6L904.5 605.1L906.4 604.6L908.3 604.2L910.1 603.7L912.0 603.2L913.9 602.7L915.8 602.3L917.6 601.8L919.5 601.3L921.4 600.8L923.3 600.3L925.1 599.8L927.0 599.3L928.9 598.8L930.8 598.3L932.7 597.8L934.5 597.3L936.4 596.8L938.3 596.3L940.2 595.8L942.0 595.2L943.9 594.7L945.8 594.2L947.7 593.7L949.5 593.3L951.4 592.8L953.3 592.3L955.2 591.8L957.1 591.3L958.9 590.9L960.8 590.4L962.7 589.9L964.6 589.4L966.4 589.0L968.3 588.5L970.2 588.0L972.1 587.5L973.9 587.1L975.8 586.6L977.7 586.1L979.6 585.7L981.5 585.2L983.3 584.8L985.2 584.3L987.1 583.8L989.0 583.4L990.8 582.9L992.7 582.5L994.6 582.0L996.5 581.6L998.3 581.1L1000.2 580.7L1002.1 580.2L1004.0 579.8L1005.9 579.4L1007.7 578.9L1009.6 578.5L1011.5 578.1L1013.4 577.6L1015.2 577.2L1017.1 576.8L1019.0 576.3L1020.9 575.9L1022.7 575.5L1024.6 575.1L1026.5 574.7L1028.4 574.2L1030.3 573.8L1032.1 573.4L1034.0 573.0L1035.9 572.6L1037.8 572.2L1039.6 571.8L1041.5 571.4L1043.4 571.0L1045.3 570.6L1047.1 570.2L1049.0 569.8L1050.9 569.4L1052.8 569.0L1054.7 568.6L1056.5 568.3L1058.4 567.9L1060.3 567.5L1062.2 567.1L1064.0 566.7L1065.9 566.3L1067.8 566.0L1069.7 565.6L1071.5 565.2L1073.4 564.8L1075.3 564.4L1077.2 564.1L1079.1 563.7L1080.9 563.3L1082.8 562.9L1084.7 562.5L1086.6 562.2L1088.4 561.8L1090.3 561.4L1092.2 561.0L1094.1 560.6L1095.9 560.3L1097.8 559.9L1099.7 559.5L1101.6 559.1L1103.5 558.7L1105.3 558.3L1107.2 558.0L1109.1 557.6L1111.0 557.2L1112.8 556.8L1114.7 556.4L1116.6 556.1L1118.5 555.7L1120.4 555.3L1122.2 554.9L1124.1 554.6L1126.0 554.2L1127.9 553.8L1129.7 553.4L1131.6 553.0L1133.5 552.7L1135.4 552.3L1137.2 551.9L1139.1 551.5L1137.2 600.0L1135.4 632.6L1133.5 655.9L1131.6 672.4L1129.7 684.5L1127.9 701.4L1126.0 722.9L1124.1 736.3L1122.2 746.9L1120.4 756.6L1118.5 766.3L1116.6 775.4L1114.7 783.6L1112.8 790.3L1111.0 795.7L1109.1 800.4L1107.2 804.6L1105.3 808.4L1103.5 811.8L1101.6 815.1L1099.7 818.2L1097.8 821.2L1095.9 823.9L1094.1 826.5L1092.2 828.8L1090.3 830.9L1088.4 832.9L1086.6 834.7L1084.7 836.5L1082.8 838.1L1080.9 839.6L1079.1 840.9L1077.2 842.1L1075.3 843.2L1073.4 844.2L1071.5 845.1L1069.7 846.0L1067.8 846.8L1065.9 847.5L1064.0 848.1L1062.2 848.6L1060.3 849.0L1058.4 849.4L1056.5 849.8L1054.7 850.2L1052.8 850.5L1050.9 850.8L1049.0 851.0L1047.1 851.2L1045.3 851.4L1043.4 851.5L1041.5 851.7L1039.6 851.8L1037.8 851.9L1035.9 852.0L1034.0 852.1L1032.1 852.1L1030.3 852.2L1028.4 852.3L1026.5 852.3L1024.6 852.3L1022.7 852.2L1020.9 852.2L1019.0 852.1L1017.1 852.0L1015.2 851.8L1013.4 851.7L1011.5 851.5L1009.6 851.3L1007.7 851.1L1005.9 850.9L1004.0 850.7L1002.1 850.5L1000.2 850.3L998.3 850.1L996.5 849.9L994.6 849.7L992.7 849.4L990.8 849.2L989.0 848.9L987.1 848.7L985.2 848.4L983.3 848.1L981.5 847.8L979.6 847.5L977.7 847.2L975.8 847.0L973.9 846.7L972.1 846.4L970.2 846.2L968.3 845.9L966.4 845.7L964.6 845.4L962.7 845.2L960.8 845.0L958.9 844.8L957.1 844.6L955.2 844.4L953.3 844.2L951.4 844.1L949.5 843.9L947.7 843.7L945.8 843.5L943.9 843.4L942.0 843.2L940.2 843.0L938.3 842.8L936.4 842.6L934.5 842.5L932.7 842.3L930.8 842.1L928.9 841.9L927.0 841.7L925.1 841.5L923.3 841.3L921.4 841.1L919.5 840.8L917.6 840.6L915.8 840.4L913.9 840.2L912.0 840.0L910.1 839.8L908.3 839.6L906.4 839.4L904.5 839.2L902.6 839.0L900.7 838.7L898.9 838.5L897.0 838.3L895.1 838.1L893.2 837.9L891.4 837.7L889.5 837.4L887.6 837.2L885.7 837.0L883.9 836.8L882.0 836.5L880.1 836.3L878.2 836.1L876.3 835.8L874.5 835.6L872.6 835.4L870.7 835.1L868.8 834.9L867.0 834.7L865.1 834.4L863.2 834.2L861.3 833.9L859.4 833.7L857.6 833.4L855.7 833.2L853.8 832.9L851.9 832.7L850.1 832.4L848.2 832.1L846.3 831.9L844.4 831.6L842.6 831.3L840.7 831.0L838.8 830.7L836.9 830.4L835.0 830.1L833.2 829.8L831.3 829.5L829.4 829.2L827.5 828.9L825.7 828.6L823.8 828.3L821.9 828.0L820.0 827.7L818.2 827.5L816.3 827.2L814.4 826.9L812.5 826.6L810.6 826.3L808.8 826.1L806.9 825.8L805.0 825.6L803.1 825.3L801.3 825.1L799.4 824.8L797.5 824.6L795.6 824.4L793.8 824.1L791.9 823.9L790.0 823.7L788.1 823.4L786.2 823.2L784.4 823.0L782.5 822.8L780.6 822.6L778.7 822.4L776.9 822.2L775.0 821.9L773.1 821.7L771.2 821.5L769.4 821.3L767.5 821.2L765.6 821.0" fill="none" stroke="#686868" stroke-width="1.5" stroke-linejoin="round"/>
</g>
</svg></body></html>
